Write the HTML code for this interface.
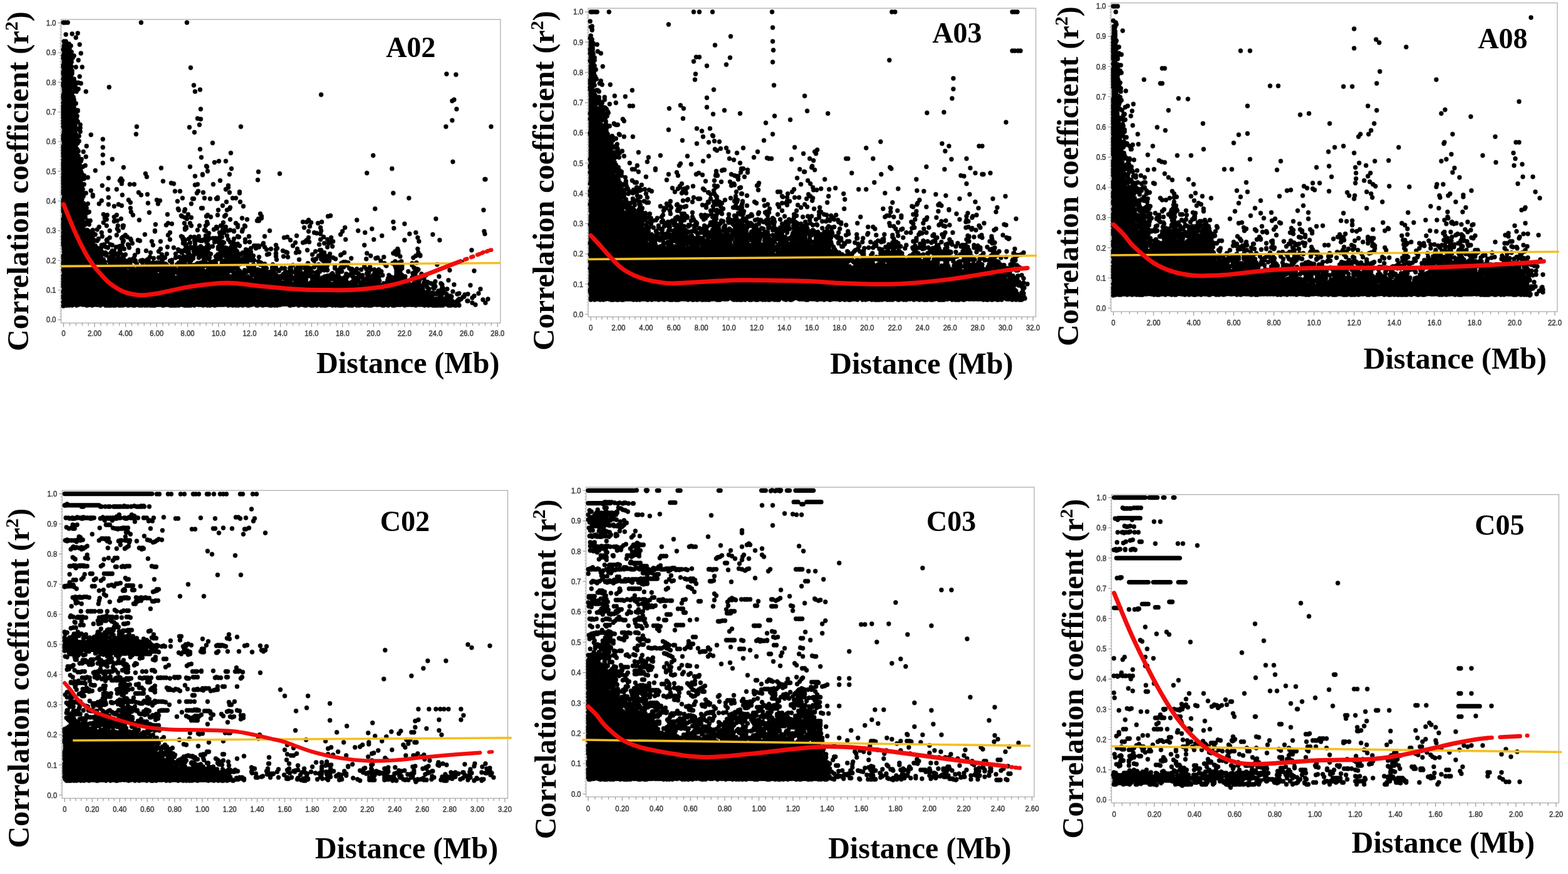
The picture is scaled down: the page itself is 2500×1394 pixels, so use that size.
<!DOCTYPE html>
<html lang="en">
<head>
<meta charset="utf-8">
<title>LD decay: correlation coefficient vs distance</title>
<style>
html,body{margin:0;padding:0;background:#fff;}
body{width:2500px;height:1394px;overflow:hidden;}
svg{display:block;}
</style>
</head>
<body>
<svg width="2500" height="1394" viewBox="0 0 2500 1394" role="img" aria-label="LD decay scatter plots for chromosomes A02, A03, A08, C02, C03 and C05">
<rect width="2500" height="1394" fill="#fff"/>
<g>
<rect x="97.4" y="31" width="700.4" height="484.2" fill="#fff" stroke="#b2b2b2" stroke-width="1.35"/>
<path d="M101.4 515.2v6.2M111.3 515.2v4.3M121.2 515.2v4.3M131.1 515.2v4.3M140.9 515.2v4.3M150.8 515.2v6.2M160.7 515.2v4.3M170.6 515.2v4.3M180.5 515.2v4.3M190.4 515.2v4.3M200.2 515.2v6.2M210.1 515.2v4.3M220 515.2v4.3M229.9 515.2v4.3M239.8 515.2v4.3M249.7 515.2v6.2M259.5 515.2v4.3M269.4 515.2v4.3M279.3 515.2v4.3M289.2 515.2v4.3M299.1 515.2v6.2M309 515.2v4.3M318.8 515.2v4.3M328.7 515.2v4.3M338.6 515.2v4.3M348.5 515.2v6.2M358.4 515.2v4.3M368.3 515.2v4.3M378.2 515.2v4.3M388 515.2v4.3M397.9 515.2v6.2M407.8 515.2v4.3M417.7 515.2v4.3M427.6 515.2v4.3M437.5 515.2v4.3M447.3 515.2v6.2M457.2 515.2v4.3M467.1 515.2v4.3M477 515.2v4.3M486.9 515.2v4.3M496.8 515.2v6.2M506.6 515.2v4.3M516.5 515.2v4.3M526.4 515.2v4.3M536.3 515.2v4.3M546.2 515.2v6.2M556.1 515.2v4.3M565.9 515.2v4.3M575.8 515.2v4.3M585.7 515.2v4.3M595.6 515.2v6.2M605.5 515.2v4.3M615.4 515.2v4.3M625.3 515.2v4.3M635.1 515.2v4.3M645 515.2v6.2M654.9 515.2v4.3M664.8 515.2v4.3M674.7 515.2v4.3M684.6 515.2v4.3M694.4 515.2v6.2M704.3 515.2v4.3M714.2 515.2v4.3M724.1 515.2v4.3M734 515.2v4.3M743.9 515.2v6.2M753.7 515.2v4.3M763.6 515.2v4.3M773.5 515.2v4.3M783.4 515.2v4.3M793.3 515.2v6.2M97.4 510h-5M97.4 462.6h-5M97.4 415.3h-5M97.4 368h-5M97.4 320.6h-5M97.4 273.2h-5M97.4 225.9h-5M97.4 178.6h-5M97.4 131.2h-5M97.4 83.8h-5M97.4 36.5h-5" stroke="#a2a2a2" stroke-width="1.35" fill="none"/>
<path d="M97.4 505.3h-2.4M97.4 500.5h-2.4M97.4 495.8h-2.4M97.4 491.1h-2.4M97.4 486.3h-2.4M97.4 481.6h-2.4M97.4 476.9h-2.4M97.4 472.1h-2.4M97.4 467.4h-2.4M97.4 457.9h-2.4M97.4 453.2h-2.4M97.4 448.4h-2.4M97.4 443.7h-2.4M97.4 439h-2.4M97.4 434.2h-2.4M97.4 429.5h-2.4M97.4 424.8h-2.4M97.4 420h-2.4M97.4 410.6h-2.4M97.4 405.8h-2.4M97.4 401.1h-2.4M97.4 396.4h-2.4M97.4 391.6h-2.4M97.4 386.9h-2.4M97.4 382.2h-2.4M97.4 377.4h-2.4M97.4 372.7h-2.4M97.4 363.2h-2.4M97.4 358.5h-2.4M97.4 353.7h-2.4M97.4 349h-2.4M97.4 344.3h-2.4M97.4 339.5h-2.4M97.4 334.8h-2.4M97.4 330.1h-2.4M97.4 325.3h-2.4M97.4 315.9h-2.4M97.4 311.1h-2.4M97.4 306.4h-2.4M97.4 301.7h-2.4M97.4 296.9h-2.4M97.4 292.2h-2.4M97.4 287.5h-2.4M97.4 282.7h-2.4M97.4 278h-2.4M97.4 268.5h-2.4M97.4 263.8h-2.4M97.4 259h-2.4M97.4 254.3h-2.4M97.4 249.6h-2.4M97.4 244.8h-2.4M97.4 240.1h-2.4M97.4 235.4h-2.4M97.4 230.6h-2.4M97.4 221.2h-2.4M97.4 216.4h-2.4M97.4 211.7h-2.4M97.4 207h-2.4M97.4 202.2h-2.4M97.4 197.5h-2.4M97.4 192.8h-2.4M97.4 188h-2.4M97.4 183.3h-2.4M97.4 173.8h-2.4M97.4 169.1h-2.4M97.4 164.3h-2.4M97.4 159.6h-2.4M97.4 154.9h-2.4M97.4 150.1h-2.4M97.4 145.4h-2.4M97.4 140.7h-2.4M97.4 135.9h-2.4M97.4 126.5h-2.4M97.4 121.7h-2.4M97.4 117h-2.4M97.4 112.3h-2.4M97.4 107.5h-2.4M97.4 102.8h-2.4M97.4 98.1h-2.4M97.4 93.3h-2.4M97.4 88.6h-2.4M97.4 79.1h-2.4M97.4 74.4h-2.4M97.4 69.6h-2.4M97.4 64.9h-2.4M97.4 60.2h-2.4M97.4 55.4h-2.4M97.4 50.7h-2.4M97.4 46h-2.4M97.4 41.2h-2.4" stroke="#b9b9b9" stroke-width="1.1" fill="none"/>
<g font-family="'Liberation Sans', Arial, sans-serif" font-size="12.6" fill="#3a3a3a" stroke="#3a3a3a" stroke-width="0.45">
<g text-anchor="middle">
<text transform="translate(101.4 536.1) scale(0.9 1)">0</text>
<text transform="translate(150.8 536.1) scale(0.9 1)">2.00</text>
<text transform="translate(200.2 536.1) scale(0.9 1)">4.00</text>
<text transform="translate(249.7 536.1) scale(0.9 1)">6.00</text>
<text transform="translate(299.1 536.1) scale(0.9 1)">8.00</text>
<text transform="translate(348.5 536.1) scale(0.9 1)">10.0</text>
<text transform="translate(397.9 536.1) scale(0.9 1)">12.0</text>
<text transform="translate(447.3 536.1) scale(0.9 1)">14.0</text>
<text transform="translate(496.8 536.1) scale(0.9 1)">16.0</text>
<text transform="translate(546.2 536.1) scale(0.9 1)">18.0</text>
<text transform="translate(595.6 536.1) scale(0.9 1)">20.0</text>
<text transform="translate(645 536.1) scale(0.9 1)">22.0</text>
<text transform="translate(694.4 536.1) scale(0.9 1)">24.0</text>
<text transform="translate(743.9 536.1) scale(0.9 1)">26.0</text>
<text transform="translate(793.3 536.1) scale(0.9 1)">28.0</text>
</g><g text-anchor="end">
<text transform="translate(89.4 514.4) scale(0.9 1)">0.0</text>
<text transform="translate(89.4 467) scale(0.9 1)">0.1</text>
<text transform="translate(89.4 419.7) scale(0.9 1)">0.2</text>
<text transform="translate(89.4 372.4) scale(0.9 1)">0.3</text>
<text transform="translate(89.4 325) scale(0.9 1)">0.4</text>
<text transform="translate(89.4 277.6) scale(0.9 1)">0.5</text>
<text transform="translate(89.4 230.3) scale(0.9 1)">0.6</text>
<text transform="translate(89.4 183) scale(0.9 1)">0.7</text>
<text transform="translate(89.4 135.6) scale(0.9 1)">0.8</text>
<text transform="translate(89.4 88.2) scale(0.9 1)">0.9</text>
<text transform="translate(89.4 40.9) scale(0.9 1)">1.0</text>
</g></g>
<path d="M101.9 75h5M101.9 77h9M101.9 79h9M101.9 81h9M101.9 83h9M101.9 85h9M101.9 87h9M101.9 89h9M101.9 91h9M101.9 93h9M101.9 95h9M101.9 97h9M101.9 99h9M101.9 101h11M101.9 103h11M101.9 105h11M101.9 107h11M101.9 109h11M101.9 111h11M101.9 113h11M101.9 115h11M101.9 117h11M101.9 119h11M101.9 121h11M101.9 123h13M101.9 125h13M101.9 127h13M101.9 129h13M101.9 131h13M101.9 133h13M101.9 135h13M101.9 137h13M101.9 139h13M101.9 141h13M101.9 143h13M101.9 145h13M101.9 147h13M101.9 149h13M101.9 151h13M101.9 153h13M101.9 155h13M101.9 157h15M101.9 159h15M101.9 161h15M101.9 163h15M101.9 165h15M101.9 167h15M101.9 169h15M101.9 171h15M101.9 173h15M101.9 175h15M101.9 177h15M101.9 179h15M101.9 181h15M101.9 183h15M101.9 185h15M101.9 187h15M101.9 189h15M101.9 191h15M101.9 193h15M101.9 195h17M101.9 197h17M101.9 199h17M101.9 201h17M101.9 203h17M101.9 205h17M101.9 207h17M101.9 209h17M101.9 211h17M101.9 213h17M101.9 215h17M101.9 217h17M101.9 219h17M101.9 221h17M101.9 223h17M101.9 225h17M101.9 227h17M101.9 229h19M101.9 231h19M101.9 233h19M101.9 235h19M101.9 237h19M101.9 239h19M101.9 241h19M101.9 243h19M101.9 245h19M101.9 247h19M101.9 249h21M101.9 251h21M101.9 253h21M101.9 255h21M101.9 257h21M101.9 259h21M101.9 261h21M101.9 263h21M101.9 265h21M101.9 267h21M101.9 269h21M101.9 271h23M101.9 273h23M101.9 275h23M101.9 277h23M101.9 279h23M101.9 281h23M101.9 283h23M101.9 285h23M101.9 287h25M101.9 289h25M101.9 291h25M101.9 293h25M101.9 295h25M101.9 297h25M101.9 299h25M101.9 301h25M101.9 303h27M101.9 305h27M101.9 307h27M101.9 309h27M101.9 311h27M101.9 313h27M101.9 315h27M101.9 317h29M101.9 319h29M101.9 321h29M101.9 323h29M101.9 325h29M101.9 327h29M101.9 329h31M101.9 331h31M101.9 333h31M101.9 335h31M101.9 337h31M101.9 339h31M101.9 341h31M101.9 343h31M101.9 345h31M101.9 347h33M101.9 349h33M101.9 351h33M101.9 353h33M101.9 355h33M101.9 357h33M101.9 359h33M101.9 361h33M101.9 363h33M101.9 365h35M101.9 367h35M101.9 369h35M101.9 371h35M101.9 373h35M101.9 375h35M101.9 377h35M101.9 379h37M101.9 381h37M101.9 383h37M143.9 383h3M101.9 385h39M141.9 385h5M101.9 387h45M101.9 389h47M101.9 391h47M101.9 393h47M101.9 395h47M101.9 397h49M101.9 399h49M101.9 401h51M101.9 403h51M101.9 405h53M101.9 407h53M101.9 409h55M101.9 411h55M101.9 413h57M101.9 415h63M191.9 415h3M101.9 417h65M189.9 417h5M291.9 417h3M101.9 419h67M187.9 419h9M291.9 419h3M351.9 419h3M101.9 421h69M171.9 421h7M185.9 421h11M291.9 421h3M349.9 421h7M101.9 423h97M289.9 423h7M347.9 423h9M101.9 425h97M289.9 425h7M317.9 425h3M347.9 425h9M101.9 427h99M289.9 427h9M315.9 427h5M345.9 427h11M101.9 429h101M289.9 429h11M315.9 429h7M345.9 429h13M375.9 429h3M101.9 431h105M221.9 431h5M237.9 431h5M287.9 431h13M315.9 431h15M345.9 431h13M375.9 431h5M101.9 433h109M219.9 433h9M233.9 433h11M257.9 433h7M287.9 433h15M313.9 433h17M343.9 433h17M373.9 433h7M101.9 435h111M217.9 435h31M255.9 435h11M285.9 435h19M311.9 435h21M343.9 435h17M371.9 435h9M101.9 437h113M215.9 437h55M285.9 437h21M309.9 437h23M341.9 437h21M369.9 437h13M101.9 439h175M283.9 439h51M341.9 439h41M393.9 439h3M101.9 441h235M339.9 441h45M391.9 441h7M101.9 443h285M389.9 443h9M515.9 443h7M101.9 445h299M413.9 445h9M511.9 445h13M101.9 447h301M411.9 447h19M503.9 447h21M543.9 447h5M101.9 449h303M409.9 449h49M467.9 449h9M485.9 449h5M501.9 449h25M541.9 449h7M101.9 451h393M499.9 451h31M539.9 451h11M627.9 451h11M101.9 453h451M593.9 453h5M625.9 453h19M101.9 455h455M561.9 455h45M623.9 455h23M101.9 457h549M661.9 457h5M101.9 459h567M101.9 461h567M101.9 463h569M101.9 465h571M101.9 467h571M101.9 469h573M101.9 471h573M101.9 473h575M101.9 475h581M101.9 477h593M101.9 479h605M101.9 481h617M101.9 483h619M101.9 485h621M101.9 487h623" stroke="#000" stroke-width="3.4" fill="none"/>
<path d="M0 0m101 36h0m3 0h0m4 0h0m117 0h0m73 0h0m-193 19h0m10-1h0m9-1h0m-22 13h0m1 4h0m0-3h0m1 2h0m1-3h0m5 4h0m11-10h0m6 11h0m-26 8h0m1-2h0m0-1h0m0-3h0m0 8h0m2 0h0m0-7h0m0 6h0m0-2h0m0-3h0m0 8h0m0-10h0m2 2h0m5 6h0m0-3h0m0-5h0m0 6h0m2-6h0m1 10h0m-13 6h0m0 4h0m1-6h0m0 3h0m0 5h0m0-9h0m0 7h0m2-2h0m0-6h0m0 9h0m0-7h0m0 2h0m0 4h0m7-4h0m1-1h0m0 1h0m1 1h0m1 4h0m0-2h0m2 0h0m2-3h0m7 7h0m4-11h0m-28 20h0m0 2h0m0-3h0m1 1h0m0-1h0m0-2h0m0-3h0m0 7h0m2-9h0m0 5h0m0-1h0m0-2h0m0 8h0m0-3h0m7-6h0m1-1h0m2 9h0m0-7h0m0-1h0m7 9h0m10 0h0m-30 8h0m0 3h0m1-10h0m0 12h0m0-10h0m0 2h0m0 5h0m2-1h0m0-6h0m0 4h0m0-6h0m0 11h0m9-10h0m1 10h0m1-6h0m0 4h0m189-9h0m408 10h0m15 1h0m-626 7h0m1-2h0m0-2h0m0 7h0m0-6h0m0 8h0m0-6h0m2 0h0m0-4h0m0 5h0m0 5h0m0-7h0m0 5h0m9-7h0m3 4h0m0 4h0m2-4h0m0 2h0m4 4h0m5-10h0m-26 11h0m0 2h0m0 2h0m1 6h0m0-4h0m0-2h0m2 3h0m0-6h0m0-1h0m0 5h0m0 5h0m0-2h0m10-4h0m1 2h0m1-1h0m1-3h0m1 4h0m0-2h0m1 5h0m1-4h0m5 4h0m0-10h0m4 1h0m45 6h0m135-3h0m10 7h0m-218 9h0m0 3h0m1-5h0m0-2h0m0 4h0m0-1h0m0 4h0m0-6h0m2 2h0m0-3h0m0 5h0m0-4h0m0 6h0m0-10h0m11 7h0m0-4h0m1-1h0m1 8h0m5-9h0m15 0h0m174 0h0m201 5h0m-411 6h0m0 7h0m1 1h0m0 1h0m0-4h0m0-1h0m2 3h0m0-5h0m0 8h0m0-10h0m0 4h0m0 2h0m14-4h0m0 3h0m3 3h0m600-4h0m3-2h0m-623 14h0m0 3h0m0-7h0m0 2h0m0 8h0m1-10h0m0 8h0m2-2h0m0-1h0m0 5h0m0-8h0m0 6h0m0-8h0m13 4h0m0-5h0m0 2h0m1 1h0m1 4h0m1 2h0m2 1h0m0-2h0m2 1h0m0-1h0m196-2h0m408 0h0m-627 9h0m0 5h0m0-2h0m0-6h0m3 11h0m0-10h0m0 2h0m0 3h0m0-1h0m0 4h0m12-9h0m1 6h0m1-6h0m0 7h0m1-3h0m3 6h0m1-5h0m192 4h0m5 1h0m-219 3h0m0 9h0m0-5h0m1-3h0m0 5h0m2-3h0m0 6h0m0-7h0m0 6h0m0-2h0m0-5h0m14 0h0m1 5h0m0-2h0m1 2h0m4-5h0m4 5h0m0 5h0m90-2h0m84 1h0m16-4h0m66 3h0m327 0h0m10-10h0m62 10h0m-682 14h0m1-4h0m0-7h0m0 5h0m2-3h0m0 6h0m0-2h0m0-5h0m0 9h0m0-5h0m15-6h0m2 10h0m0-7h0m2-2h0m0 1h0m3 1h0m2 3h0m17 5h0m72-1h0m93-3h0m-209 7h0m0 2h0m0 3h0m1-6h0m0 8h0m0-5h0m0-1h0m2-3h0m0 2h0m0 9h0m0-1h0m0-4h0m0 2h0m15 0h0m0-6h0m2 2h0m0-2h0m1 1h0m0-2h0m1 3h0m0-1h0m1-1h0m2 7h0m0-8h0m38 5h0m-63 17h0m0-3h0m0-3h0m1 3h0m0-8h0m0 6h0m2 5h0m0-4h0m0-2h0m0-1h0m0-3h0m0 7h0m17 0h0m0 4h0m1-10h0m1 8h0m1-10h0m14 5h0m26 2h0m155 3h0m20-10h0m-238 16h0m0 1h0m0-2h0m0 6h0m1-8h0m0 6h0m2-6h0m0 10h0m0-8h0m0 3h0m0 4h0m19-4h0m2-5h0m0 8h0m8-7h0m4 8h0m27-3h0m157 4h0m47-7h0m227 4h0m-494 12h0m0 2h0m0-7h0m1 1h0m0 2h0m0-4h0m0 8h0m2-2h0m0-3h0m0-3h0m0 8h0m0-9h0m0 8h0m18-1h0m1-2h0m0 4h0m3-7h0m0 5h0m0-1h0m1 4h0m0-4h0m1-5h0m1 3h0m1-3h0m6 10h0m28-4h0m15-6h0m163 5h0m7-2h0m11 0h0m362 1h0m-621 7h0m0 6h0m0-2h0m1 2h0m0 2h0m0-6h0m0 8h0m0-10h0m2 1h0m0 3h0m0 3h0m0 4h0m0-9h0m21 1h0m1 5h0m0 2h0m0 1h0m1-11h0m0 5h0m0 3h0m1-5h0m0 2h0m0-1h0m1 4h0m0-7h0m3 0h0m20 6h0m45-5h0m60 1h0m46-2h0m26-1h0m1 1h0m1 7h0m38-4h0m43 5h0m173 2h0m40-7h0m-524 16h0m0-8h0m0 5h0m1-3h0m0-2h0m2 6h0m0 3h0m0-5h0m0-3h0m0 9h0m0-7h0m21 1h0m0-1h0m1 3h0m1-5h0m0-2h0m1 10h0m1-2h0m1 2h0m0-10h0m4 4h0m0 5h0m6-2h0m33 1h0m20 1h0m2 3h0m37-11h0m2 5h0m77-1h0m12-3h0m0 1h0m43-1h0m45 9h0m35-10h0m327 9h0m1 0h0m-673 3h0m0 1h0m0 4h0m0 5h0m1-2h0m0-7h0m2 9h0m0-3h0m0-6h0m0 4h0m0 3h0m0-6h0m23-2h0m0 10h0m0-4h0m2-3h0m2 6h0m3-4h0m29 2h0m28-8h0m3 5h0m13 1h0m7 0h0m46-5h0m13 3h0m4 1h0m34 2h0m4-1h0m25 0h0m11-6h0m13 11h0m0-3h0m-263 11h0m0 2h0m0-5h0m1 5h0m0-8h0m0 1h0m2 0h0m0 8h0m0-5h0m0 2h0m24-7h0m1 9h0m2-4h0m0 6h0m1-9h0m5 6h0m8-4h0m3 7h0m24-9h0m14 0h0m9 9h0m26-4h0m4 4h0m10-1h0m44-5h0m8 0h0m27 3h0m2-3h0m8 2h0m36-5h0m6 5h0m16 1h0m0-2h0m245 2h0m-526 15h0m0-4h0m0 3h0m1-7h0m0 8h0m2-2h0m0-1h0m0 2h0m0-6h0m0-2h0m0-1h0m25 1h0m1 0h0m0-1h0m1 10h0m0-6h0m2-4h0m0 11h0m15-11h0m14 7h0m11-5h0m32 4h0m3 4h0m42-4h0m5 1h0m28 1h0m8-5h0m16 1h0m2 0h0m17-1h0m9 1h0m10 0h0m2 0h0m0-2h0m14 7h0m10-6h0m5 0h0m7 6h0m269-6h0m-551 8h0m0 8h0m0-4h0m0 8h0m1-10h0m0-1h0m0 9h0m2-3h0m0-4h0m0-2h0m0 4h0m0 5h0m0 1h0m27-7h0m2 2h0m0-1h0m0 6h0m2-8h0m1 1h0m2 4h0m2-7h0m18 0h0m15 1h0m9 3h0m7-3h0m5 2h0m14 4h0m28-8h0m16 1h0m32 8h0m1 2h0m10-1h0m10-9h0m16 7h0m2 0h0m25 3h0m7-7h0m7 7h0m4-2h0m1-2h0m21-2h0m210 4h0m173 2h0m-670 2h0m1 8h0m0-5h0m0 4h0m0-6h0m0 9h0m0-8h0m2 7h0m0-7h0m0 5h0m0-3h0m0 6h0m0-11h0m30 1h0m0 4h0m0 2h0m1 4h0m1-4h0m0 4h0m1-10h0m2 1h0m1 1h0m2-1h0m23 4h0m6 1h0m11 3h0m4-3h0m23-5h0m3 5h0m26-4h0m29 3h0m22 2h0m1 1h0m4-8h0m1 10h0m5-5h0m5 5h0m24-2h0m2-2h0m5 3h0m11-3h0m11 2h0m2-2h0m26 5h0m29-7h0m2 7h0m0-3h0m106 0h0m4-1h0m-426 7h0m0-2h0m0 10h0m0-3h0m1 1h0m0-3h0m2 6h0m0-4h0m0-5h0m0 3h0m0 1h0m0-5h0m31 7h0m0-2h0m0 4h0m5-7h0m1 3h0m1 3h0m2-6h0m21 3h0m2-7h0m3 2h0m0 10h0m12-7h0m5-1h0m6-3h0m3 11h0m26-9h0m26 7h0m17 1h0m3-3h0m6 1h0m20-1h0m4-7h0m5 7h0m2 4h0m23 0h0m2-6h0m1 3h0m25-2h0m11-5h0m9 6h0m3 3h0m15-9h0m16 2h0m2-3h0m1 3h0m70 2h0m6 0h0m3-3h0m4 4h0m11 1h0m6-2h0m56-3h0m58 3h0m18 3h0m50-8h0m-594 16h0m0-3h0m0 9h0m1-2h0m0-8h0m0 7h0m2-2h0m0 3h0m0-6h0m0 2h0m0 7h0m0-11h0m35 6h0m0 3h0m3-1h0m1 2h0m4 0h0m1-4h0m0 4h0m7-5h0m3-4h0m4 9h0m13-3h0m12-3h0m1-5h0m1 8h0m7-6h0m0 1h0m1-3h0m50 8h0m0 1h0m24 2h0m24-7h0m0 2h0m2-4h0m0 2h0m18 3h0m3-7h0m8 7h0m2 1h0m5 4h0m8-6h0m4-4h0m1 2h0m4 7h0m2-11h0m2 0h0m1 7h0m2 4h0m1-4h0m2-5h0m3 6h0m4-1h0m6 2h0m0-1h0m6-6h0m7 7h0m1-3h0m3-6h0m1 1h0m39 7h0m55-5h0m7 6h0m2-8h0m7 10h0m10-8h0m1 5h0m34 1h0m4-6h0m21 5h0m11 3h0m11-6h0m35-1h0m35 7h0m109-2h0m-671 14h0m0-7h0m0 3h0m0 2h0m0-3h0m1-4h0m0 4h0m2-4h0m0 9h0m0-4h0m0 1h0m0-2h0m33-4h0m1 3h0m1-1h0m1 6h0m0-4h0m0-3h0m0 4h0m1-6h0m0 10h0m1-7h0m1 6h0m0-9h0m2 5h0m2 4h0m0-4h0m1-4h0m1 9h0m0-1h0m3-8h0m5 7h0m6-4h0m7 6h0m1-1h0m4-3h0m11-4h0m8 5h0m2-2h0m1 6h0m3-9h0m3 3h0m5 3h0m1 2h0m11 0h0m3 1h0m8-10h0m37 1h0m3 7h0m18-5h0m2 3h0m0-2h0m1 5h0m1-2h0m1 2h0m1 0h0m6-2h0m3-3h0m6 5h0m0-5h0m4 4h0m3-5h0m0 3h0m0 3h0m3 0h0m2 1h0m3-2h0m3-6h0m3 4h0m1 2h0m0-5h0m1 4h0m1-1h0m6 0h0m4 0h0m1 1h0m5-2h0m1-3h0m0 3h0m2-3h0m1 2h0m8-2h0m2 6h0m9-1h0m6-4h0m1 1h0m1 0h0m10 4h0m6-5h0m25 0h0m31 2h0m5-1h0m5 5h0m10-7h0m16 7h0m3-4h0m13-7h0m6 10h0m0-9h0m5 5h0m6 4h0m6-3h0m15-5h0m8 8h0m45 0h0m13-6h0m36 7h0m8-10h0m13 6h0m24-5h0m11 9h0m72-10h0m-672 15h0m0 3h0m0-2h0m0-2h0m1 8h0m0-2h0m0-9h0m0 6h0m2-2h0m0-4h0m0 7h0m0 3h0m0-2h0m44-6h0m1 6h0m1 0h0m1-8h0m1 10h0m0-2h0m2 3h0m1-11h0m4 12h0m3-5h0m1 2h0m3-3h0m3 4h0m2-9h0m1 10h0m4-5h0m3 1h0m6 3h0m5-1h0m3-1h0m2 0h0m1-6h0m8 4h0m1 2h0m1 3h0m5-7h0m31-3h0m2 6h0m12-6h0m11 9h0m10 1h0m15-7h0m4 4h0m1-2h0m5 5h0m1-8h0m1 7h0m5 1h0m2-4h0m0-3h0m2 8h0m4-1h0m3-2h0m0-9h0m4 12h0m3 0h0m2-10h0m1 7h0m1-9h0m1 7h0m7 2h0m3-7h0m3-1h0m3 9h0m0 2h0m2-2h0m0-5h0m1 3h0m0-7h0m1 10h0m1-9h0m1 6h0m1-6h0m1 10h0m1-9h0m2 8h0m8-9h0m2 7h0m1-6h0m1 1h0m2 0h0m3 4h0m2-1h0m1-2h0m3 3h0m9-6h0m7 0h0m7 6h0m3 0h0m0 4h0m4-4h0m1 2h0m6-4h0m1-2h0m2 6h0m18-3h0m27 1h0m4-5h0m12 0h0m4-2h0m0 1h0m6 0h0m16 4h0m8-2h0m5 6h0m2-6h0m4-2h0m2 7h0m1-8h0m50 6h0m87-6h0m-567 23h0m1-10h0m0 4h0m0 6h0m0-11h0m2 10h0m0-4h0m0-4h0m0 6h0m0-4h0m0-5h0m49 3h0m0 1h0m1-2h0m1-1h0m0 11h0m0-9h0m0 5h0m1 3h0m0-9h0m2 2h0m3 6h0m0-1h0m0-7h0m1 9h0m3-4h0m3 0h0m1 4h0m1-2h0m7-2h0m2-3h0m1 3h0m2-3h0m1 5h0m4 0h0m4-1h0m0-5h0m0 2h0m1-3h0m0 6h0m1-8h0m3 11h0m2-10h0m2 9h0m15 1h0m5-5h0m0-3h0m13 1h0m7 3h0m13-2h0m3-4h0m2 9h0m8-1h0m14 0h0m4-7h0m1 2h0m3 0h0m1 2h0m1 1h0m3-3h0m1-1h0m2-2h0m1 4h0m1-1h0m2 6h0m1-3h0m1-6h0m3 11h0m4-10h0m0 9h0m0-6h0m2-3h0m0 5h0m0-4h0m1-3h0m1 8h0m3-3h0m1 7h0m0-8h0m3 5h0m1-7h0m1 0h0m1 1h0m0 6h0m2-7h0m2 5h0m0 3h0m2-9h0m2 6h0m1 0h0m1-7h0m3 9h0m11 1h0m0 1h0m1-10h0m2 10h0m1-3h0m1 3h0m0-7h0m1-2h0m0-2h0m2 10h0m0-8h0m2 0h0m1 3h0m1-4h0m1 6h0m2-7h0m0 7h0m1 4h0m1-1h0m1-9h0m2 9h0m0-2h0m1-2h0m0 3h0m4-8h0m3 1h0m0 4h0m1-3h0m1 5h0m1 1h0m0-1h0m0-3h0m6 4h0m0 1h0m3-3h0m4 3h0m1-8h0m2 4h0m0-3h0m1 1h0m2 3h0m1 3h0m2-10h0m0 10h0m0-4h0m4 6h0m21-10h0m1 8h0m3-1h0m3-8h0m8 7h0m0-6h0m0 7h0m2-9h0m9 4h0m5 2h0m2 1h0m14 0h0m2-2h0m0-4h0m3 5h0m13-3h0m8 7h0m5-5h0m7-2h0m2 6h0m0-6h0m1 8h0m4-1h0m0-1h0m0-2h0m9 2h0m17 2h0m1-1h0m5-3h0m36 1h0m42 0h0m3-3h0m2 5h0m2-9h0m1 5h0m0-2h0m0 4h0m28 4h0m3-11h0m1 6h0m1 4h0m2 1h0m0-1h0m82-8h0m-651 19h0m0-6h0m0-3h0m1 3h0m0 4h0m0 2h0m0-7h0m0-1h0m2 4h0m0 4h0m0-7h0m0 6h0m0-8h0m53-1h0m3 6h0m5 0h0m2 4h0m7-2h0m0-5h0m1 5h0m0 1h0m0 1h0m0-7h0m2 7h0m0-9h0m1 3h0m1 1h0m2-2h0m1 4h0m0 5h0m2-3h0m1 3h0m0-5h0m2-1h0m1 4h0m0-10h0m1 6h0m5-2h0m2 2h0m1 4h0m0-6h0m3 5h0m0-1h0m0 2h0m2 1h0m4-4h0m1-1h0m0 5h0m1-1h0m5-6h0m1 1h0m1 4h0m1-1h0m8 0h0m3 3h0m0-4h0m2 1h0m4 1h0m0-1h0m2 1h0m0-3h0m2 1h0m2-5h0m5 9h0m1-7h0m5 7h0m3 0h0m0-8h0m1 9h0m4-3h0m1-2h0m1-5h0m3 1h0m8 5h0m3-1h0m0 4h0m6-8h0m5 8h0m1-9h0m3 4h0m1 5h0m3-10h0m1 2h0m1 2h0m0 3h0m1-3h0m1 1h0m1 1h0m1-3h0m1-1h0m0-2h0m1 2h0m2 7h0m1-9h0m1 6h0m3-3h0m9-1h0m2-2h0m2 10h0m3 0h0m1-5h0m1-4h0m0-1h0m1 8h0m1-4h0m2-3h0m3 3h0m1-2h0m1 9h0m3-2h0m1 0h0m4-2h0m1 0h0m0-7h0m2 0h0m2 3h0m0-2h0m0 3h0m3-4h0m1 1h0m0 1h0m2 7h0m0-10h0m0 9h0m2-1h0m1 1h0m1-1h0m0 1h0m2-8h0m2 4h0m1 4h0m1 2h0m0-7h0m2 0h0m2 4h0m0 3h0m2-8h0m1 3h0m0-6h0m1 8h0m0-1h0m1 2h0m1-9h0m0 8h0m1 4h0m3-7h0m1-1h0m0 3h0m1-5h0m0 2h0m1 6h0m3 0h0m1-1h0m1 1h0m0-2h0m1-3h0m1 7h0m1-4h0m1 0h0m0-5h0m1 8h0m0-8h0m1 4h0m1-5h0m1 9h0m1-7h0m2 1h0m1-1h0m2 2h0m0 1h0m3-6h0m2 6h0m7 2h0m1-7h0m0 10h0m0-1h0m3 0h0m24-10h0m1 5h0m11-5h0m7 1h0m18 4h0m22 0h0m2 2h0m3-3h0m4-5h0m4 5h0m2 2h0m0-3h0m1 1h0m2-2h0m0 7h0m2-4h0m0 3h0m2-8h0m3 3h0m0-1h0m1 5h0m0-8h0m6 3h0m4 2h0m9 7h0m1 0h0m1-1h0m2-1h0m3 0h0m4 1h0m5-7h0m24 1h0m7-5h0m8 4h0m3-1h0m5 5h0m5-6h0m1 10h0m17-3h0m6 2h0m2-10h0m2 8h0m17 3h0m2-9h0m5 8h0m72-1h0m-635 13h0m0-11h0m0 5h0m0-3h0m0 1h0m1 5h0m0-2h0m0 4h0m2-10h0m0 8h0m0-5h0m0 9h0m0-7h0m0 4h0m75-8h0m2 0h0m0 1h0m0-2h0m18 3h0m3 2h0m2 0h0m4-2h0m0 4h0m2 3h0m1-3h0m1 0h0m0 1h0m1 1h0m2 3h0m3-11h0m2 11h0m0-6h0m0 4h0m1 1h0m0-3h0m1 2h0m1-3h0m0 3h0m1-2h0m1 1h0m0-2h0m1 0h0m0-1h0m2 1h0m1 0h0m0-1h0m1-1h0m1 1h0m1 2h0m2 3h0m0-8h0m2 2h0m1 6h0m1-1h0m0-6h0m1 6h0m1-9h0m0 5h0m0 2h0m1-4h0m1-4h0m1 10h0m0-6h0m1-1h0m0 9h0m1-3h0m0-5h0m1 8h0m0-5h0m1 1h0m1 1h0m0-6h0m1 9h0m1-6h0m3 4h0m0-1h0m1-2h0m4-7h0m1 11h0m2-6h0m1-2h0m0 7h0m0 2h0m1-11h0m1 0h0m0 9h0m2-7h0m0 3h0m1 4h0m0 1h0m1-4h0m3 2h0m3 2h0m0-6h0m1 6h0m1 0h0m1-3h0m2 1h0m3-7h0m3 8h0m1 1h0m0-1h0m1-8h0m0 5h0m3-2h0m0 3h0m1-8h0m6 3h0m1 1h0m2 4h0m3-5h0m0 4h0m0 1h0m0-4h0m0-4h0m1 11h0m0-9h0m1 8h0m1-6h0m3-1h0m2 7h0m1-1h0m0-4h0m1 2h0m0-3h0m1-3h0m1-1h0m0 7h0m1 2h0m1-5h0m1-4h0m1 1h0m2 3h0m1-1h0m1 2h0m0 5h0m2-7h0m1 1h0m1-3h0m1-1h0m0 1h0m1 1h0m3-1h0m0 2h0m0 6h0m1-2h0m1-5h0m1 0h0m1-2h0m0 8h0m1 0h0m1-5h0m1 4h0m2 1h0m2-1h0m1-4h0m0-3h0m1 11h0m0-8h0m2 2h0m10 3h0m0-8h0m0 5h0m2 6h0m0-6h0m0-5h0m0 9h0m0-3h0m3-4h0m1-2h0m1 10h0m0-9h0m0 2h0m1 8h0m1-4h0m0 4h0m0 1h0m1-2h0m0-2h0m4-8h0m0 2h0m1 6h0m1 0h0m4-4h0m1 3h0m0-4h0m1 5h0m1 4h0m3-11h0m7 10h0m3 1h0m3-7h0m2 7h0m0-4h0m2 0h0m1 3h0m3-7h0m0-2h0m1 4h0m6 4h0m3 1h0m1-9h0m2 0h0m3 7h0m0-1h0m0 3h0m2-3h0m0-7h0m1 2h0m0 7h0m2-2h0m9-1h0m0 4h0m1-9h0m0 9h0m3-1h0m2-3h0m4 4h0m1 1h0m4-4h0m5 0h0m8 0h0m1-1h0m1 3h0m1-6h0m2-1h0m5 6h0m3-4h0m4 3h0m0-4h0m7 4h0m0-4h0m3 6h0m0-1h0m1-3h0m1-6h0m2 10h0m2-2h0m6-2h0m2-3h0m4 0h0m1-1h0m1 7h0m0-2h0m2 1h0m0 3h0m2-4h0m0 1h0m2-3h0m2 6h0m4-4h0m1-4h0m0 8h0m2-11h0m10 8h0m0-4h0m5 7h0m4-4h0m2-1h0m1-5h0m2 5h0m5-3h0m4 5h0m3 3h0m1-2h0m2 2h0m6-2h0m7 1h0m5-5h0m3 4h0m6-3h0m1 4h0m6 0h0m7 0h0m11-7h0m1 1h0m10-4h0m4 4h0m1 0h0m0 3h0m1 4h0m2-6h0m2 6h0m3-1h0m2-6h0m0 4h0m16-5h0m3 4h0m5 2h0m2 1h0m30-8h0m20 9h0m-616 9h0m1-6h0m0 2h0m0 7h0m2-6h0m0 5h0m0-8h0m0 6h0m109-8h0m2 2h0m1-1h0m14-1h0m2 1h0m2-1h0m13 2h0m9-2h0m11 2h0m1-2h0m2 3h0m1-1h0m0 2h0m1 0h0m4 1h0m1-2h0m2-1h0m5 2h0m3-3h0m1 1h0m17 1h0m3 2h0m2-2h0m1-1h0m2-1h0m20 3h0m2-4h0m1 4h0m3 2h0m0-1h0m0-4h0m2 1h0m1 4h0m1-3h0m0-1h0m20 1h0m0-1h0m8-1h0m11-1h0m1 6h0m0 1h0m1 1h0m1-5h0m2 6h0m0 1h0m1 0h0m0 2h0m1-10h0m0 6h0m0 1h0m2-5h0m3-3h0m6 11h0m1-7h0m1 2h0m4-5h0m1-1h0m1 8h0m1 0h0m1 2h0m0-10h0m0 5h0m1 1h0m0-3h0m1 7h0m0-3h0m1 3h0m0-4h0m0-6h0m2 6h0m0-3h0m1-2h0m1 2h0m3 8h0m0-1h0m1-9h0m0 9h0m1-5h0m1 4h0m2-4h0m0-5h0m1 9h0m0-8h0m1 9h0m1-6h0m2-3h0m0 9h0m0-3h0m1-3h0m4 6h0m1-5h0m1-1h0m2 0h0m1 1h0m0 4h0m2 0h0m1 0h0m0 1h0m2-2h0m3 2h0m1-3h0m1 3h0m1-4h0m1-2h0m2 7h0m1-7h0m0-4h0m1 3h0m3 5h0m0-5h0m1 7h0m0-6h0m1-3h0m0 5h0m0 3h0m1 1h0m0-3h0m2-3h0m2-3h0m0 10h0m2-1h0m2 0h0m2-6h0m0-5h0m1 2h0m2 5h0m0 2h0m1-8h0m0 5h0m0-1h0m3-4h0m1 3h0m0 7h0m1-7h0m1 4h0m1 3h0m0-2h0m0 1h0m1 1h0m2-7h0m1 8h0m1-8h0m0-4h0m0 10h0m1-6h0m1 0h0m3 4h0m1-5h0m0 5h0m1-8h0m1 7h0m1 1h0m0-7h0m5 7h0m1 3h0m0-3h0m0-5h0m1 8h0m1-4h0m1 1h0m0 1h0m0-3h0m1-5h0m0 10h0m0-8h0m0 4h0m3-6h0m4 10h0m4-2h0m2 0h0m2-1h0m1 0h0m5-2h0m0 5h0m2-7h0m0 7h0m1-4h0m4 3h0m2-1h0m1-5h0m0-3h0m2 2h0m0 6h0m1 2h0m1-10h0m2 11h0m1-11h0m4 10h0m1-1h0m2-5h0m1 5h0m4-3h0m1-1h0m1 0h0m2-4h0m1 6h0m1 2h0m2 1h0m2-8h0m4 1h0m0 6h0m1-2h0m0-3h0m4 5h0m2-3h0m7-3h0m1 4h0m0 4h0m2-3h0m0-6h0m1 6h0m6-2h0m2-3h0m0 8h0m3-12h0m1 8h0m0-2h0m2-5h0m0 9h0m1 0h0m0-7h0m0 8h0m4-10h0m2 6h0m9 5h0m1-5h0m2 4h0m2-1h0m7 0h0m0-1h0m1-8h0m0 3h0m1-2h0m1-2h0m2 3h0m0 5h0m0-8h0m1 12h0m1-9h0m1 8h0m0-1h0m1-4h0m0 2h0m0-1h0m0 5h0m1-2h0m0-3h0m5 2h0m5-8h0m6 10h0m1-7h0m1 0h0m0 2h0m2-4h0m1 10h0m0-1h0m0-5h0m1-4h0m1-1h0m8 4h0m7 2h0m21 2h0m56-9h0m-655 18h0m0 3h0m0 2h0m0-10h0m1 1h0m0 3h0m2 7h0m0-2h0m0-6h0m0-1h0m0 3h0m0-5h0m301 2h0m1 1h0m0-1h0m2-3h0m1 6h0m2-3h0m1-2h0m18 3h0m4-2h0m0-2h0m5 1h0m2 3h0m5-3h0m13 3h0m1-2h0m1 0h0m0 3h0m2-1h0m2-3h0m4 0h0m2-1h0m2 3h0m3 0h0m1 2h0m1-1h0m1 1h0m1-2h0m4-2h0m1 3h0m0 1h0m1-4h0m1 0h0m1 1h0m7 5h0m3-6h0m0 4h0m1 3h0m1-5h0m0 4h0m0-3h0m1-2h0m4-1h0m4 0h0m19 0h0m4 0h0m2 7h0m0-5h0m1 4h0m1-1h0m0 1h0m1-3h0m2 1h0m1 1h0m4-5h0m1 0h0m3-1h0m2 2h0m2-2h0m0 5h0m1 4h0m0-1h0m2-1h0m3 5h0m3-6h0m2 2h0m0-2h0m0-1h0m1-3h0m0-1h0m1 5h0m0 2h0m0-1h0m0-2h0m2 4h0m1-6h0m2 2h0m1-2h0m0 1h0m4 3h0m3 1h0m0 1h0m1-7h0m1 5h0m1 2h0m0-8h0m6 4h0m1 4h0m1-6h0m3 5h0m0-6h0m3 3h0m3 0h0m2 4h0m1-3h0m1-1h0m0-3h0m1 8h0m1-2h0m1-4h0m5 7h0m2-3h0m5-1h0m1-3h0m0 1h0m0-2h0m1 4h0m1 4h0m3-7h0m0-1h0m1 7h0m0-2h0m1-5h0m0 4h0m0 1h0m3-3h0m1-3h0m1-1h0m1 3h0m1 1h0m1-1h0m1 0h0m0-2h0m2 1h0m3 0h0m0 2h0m0-5h0m0 6h0m1 2h0m0-5h0m1-3h0m2 3h0m4 7h0m0-7h0m2 8h0m0-1h0m1-4h0m4 4h0m3 2h0m2-1h0m1-1h0m0-2h0m2-4h0m0 8h0m1-7h0m0 2h0m1 1h0m1-2h0m1 5h0m1-11h0m1 6h0m0 3h0m0 3h0m2-11h0m5 10h0m1-11h0m0 7h0m2-2h0m2 6h0m2-5h0m5 2h0m3 1h0m3 2h0m1-6h0m9 3h0m1 1h0m1 1h0m10-7h0m9 7h0m26 1h0m-649 11h0m0-1h0m0-8h0m1 1h0m0 6h0m0-3h0m2-3h0m0 7h0m0-6h0m0 3h0m0 5h0m550-9h0m4-2h0m2 1h0m1 0h0m8 4h0m1-2h0m0-3h0m2 1h0m0 7h0m1-4h0m1 7h0m0-1h0m0-5h0m2 7h0m1-2h0m4-8h0m1 8h0m1-4h0m1-1h0m5 6h0m2-8h0m1 1h0m1 8h0m1-11h0m1 11h0m4-4h0m4-1h0m2-5h0m1 1h0m1 8h0m1-2h0m5-4h0m9 4h0m44-4h0m-665 14h0m0-3h0m1 5h0m0-8h0m0 3h0m0 7h0m2-5h0m0-3h0m0-2h0m0 8h0m0 1h0m0-6h0m572-1h0m3-3h0m1 1h0m2 2h0m3 4h0m0-5h0m4 6h0m0-4h0m5 5h0m1-8h0m1 8h0m2-9h0m1 8h0m2-6h0m0 6h0m2-3h0m1-1h0m3 6h0m2-1h0m1 1h0m1 0h0m1 0h0m0-9h0m0 5h0m3 5h0m0 1h0m2-2h0m1-6h0m2 1h0m1 7h0m8-11h0m1 10h0m2-2h0m0-9h0m3 9h0m3-3h0m2-1h0m1-3h0m5-1h0m7 6h0m3-3h0m7-4h0m7 10h0m8-1h0m-677 5h0m0 6h0m1-7h0m0 3h0m2-3h0m0 4h0m0 2h0m0-3h0m2 3h0m1-1h0m3 1h0m1-1h0m2 0h0m2 1h0m7 0h0m1-1h0m2 0h0m7 0h0m4 0h0m2 1h0m1 0h0m3-1h0m1 0h0m4 1h0m3-1h0m4 0h0m1 0h0m2 0h0m3 1h0m1-1h0m7 1h0m2 0h0m1 0h0m2 0h0m3 0h0m1 0h0m2-1h0m2 1h0m3 0h0m6 0h0m2 0h0m4 0h0m5-1h0m3 1h0m1 0h0m2-1h0m2 0h0m3 1h0m3 0h0m3-1h0m1 0h0m3 1h0m1-1h0m3 1h0m1-1h0m4 1h0m4 0h0m5 0h0m1-1h0m2 1h0m2 0h0m2 0h0m3-1h0m2 0h0m2 0h0m4 0h0m1 1h0m2 0h0m2-1h0m1 0h0m3 0h0m3 0h0m1 1h0m3 0h0m1 0h0m3 0h0m3 0h0m4 0h0m5-1h0m1 0h0m3 1h0m2 0h0m2 0h0m1-1h0m2 1h0m3 0h0m2-1h0m1 0h0m3 1h0m1-1h0m5 0h0m2 0h0m2 0h0m1 0h0m3 1h0m1-1h0m3 0h0m3 1h0m4 0h0m3-1h0m4 1h0m1 0h0m4-1h0m3 0h0m2 0h0m1 0h0m2 0h0m2 0h0m5 0h0m2 1h0m2-1h0m1 0h0m2 0h0m2 1h0m5 0h0m4 0h0m4-1h0m3 1h0m5-1h0m3 1h0m2 0h0m3-1h0m1 0h0m8 1h0m2 0h0m5-1h0m1 0h0m2 1h0m2-1h0m3 0h0m1 0h0m3 0h0m2 1h0m1-1h0m2 1h0m3-1h0m2 1h0m4 0h0m3-1h0m2 0h0m15 1h0m1 0h0m3-1h0m3 0h0m7 1h0m1-1h0m2 0h0m4 0h0m3 1h0m2 0h0m5-1h0m3 1h0m1-1h0m2 1h0m3-1h0m2 0h0m1 1h0m5-1h0m2 1h0m4 0h0m2 0h0m2 0h0m1-1h0m4 0h0m5 1h0m5 0h0m3-1h0m2 1h0m2 0h0m3 0h0m2 0h0m3-1h0m1 0h0m2 0h0m3 1h0m1-1h0m3 1h0m2 0h0m6-1h0m1 1h0m4 0h0m2-1h0m3 0h0m4 1h0m1-1h0m4 1h0m2 0h0m1-1h0m2 1h0m3-1h0m5 0h0m2 0h0m1 0h0m4 0h0m3 1h0m2 0h0m3-1h0m2 0h0m2 1h0m7 0h0m2-1h0m1 1h0m3-1h0m1 0h0m3 0h0m2 0h0m1 0h0m6 1h0m3-1h0m3 0h0m4 0h0m2 0h0m2 0h0m4 1h0m2-1h0m4 0h0m4 0h0m4 1h0m6 0h0m2-1h0m3 0h0m2 1h0m1 0h0m2 0h0m2 0h0m3 0h0m1-1h0m3 1h0m4 0h0m8-1h0m1 1h0m3 0h0m1 0h0m3-4h0m1 3h0m2 1h0m1-4h0m0 1h0m1 3h0m0-2h0m1-4h0m1 5h0m2-5h0m1 6h0m13-7h0m1 0h0m7 3h0m5 3h0m16-3h0" stroke="#000" stroke-width="7.3" stroke-linecap="round" fill="none"/>
<path d="M97.4 424.6L797.8 419.5" stroke="#f4bf22" stroke-width="3.6" fill="none"/>
<path d="M101.4 325.8C102.8 329.2 106.7 339.3 109.6 346.2C112.4 353.1 115.2 360.1 118.4 367.3C121.7 374.5 125.5 382.7 128.8 389.4C132.2 396.1 135.3 402.2 138.5 407.7C141.7 413.1 144.9 417.7 148.1 422.1C151.3 426.5 153.2 429 157.7 434C162.3 439 168.4 446.8 175.5 452.2C182.6 457.6 192 463.4 200.2 466.4C208.5 469.5 216.7 470.4 225 470.7C233.2 471 237.3 470.5 249.7 468.3C262 466.2 282.6 460.7 299.1 457.9C315.6 455.2 336.1 452.8 348.5 451.8C360.9 450.7 360.9 450.9 373.2 451.8C385.6 452.6 406.2 455.4 422.6 457C439.1 458.5 455.6 460.3 472.1 461.2C488.5 462.2 505 462.6 521.5 462.6C537.9 462.7 554.4 462.9 570.9 461.7C587.4 460.5 603.8 458.9 620.3 455.5C636.8 452.2 653.3 446.9 669.7 441.3C686.2 435.8 708.4 426.5 719.1 422.4C729.9 418.3 731.5 417.7 734 416.7" stroke="#f20c0c" stroke-width="7.0" fill="none" stroke-linecap="round" stroke-linejoin="round"/>
<path d="M741.4 413.9l3 -1M751.3 410.1l3 -1M761.2 406.3l3 -1M768.6 403.5l2 -1M776 401.1l2 -1M782.2 398.7l1 0" stroke="#f20c0c" stroke-width="6.6" fill="none" stroke-linecap="round"/>
<g font-family="'Liberation Serif', 'Times New Roman', serif" font-weight="bold" fill="#000">
<text x="655" y="90.5" font-size="46" text-anchor="middle">A02</text>
<text x="796.5" y="595" font-size="48" text-anchor="end">Distance (Mb)</text>
<text transform="translate(45 560) rotate(-90)" font-size="48">Correlation coefficient (r<tspan font-size="29.8" dy="-17.3">2</tspan><tspan dy="17.3">)</tspan></text>
</g>
</g>
<g>
<rect x="937.8" y="13.2" width="713.7" height="492.2" fill="#fff" stroke="#b2b2b2" stroke-width="1.35"/>
<path d="M942 505.4v6.2M950.8 505.4v4.3M959.6 505.4v4.3M968.4 505.4v4.3M977.2 505.4v4.3M986.1 505.4v6.2M994.9 505.4v4.3M1003.7 505.4v4.3M1012.5 505.4v4.3M1021.3 505.4v4.3M1030.1 505.4v6.2M1038.9 505.4v4.3M1047.7 505.4v4.3M1056.6 505.4v4.3M1065.4 505.4v4.3M1074.2 505.4v6.2M1083 505.4v4.3M1091.8 505.4v4.3M1100.6 505.4v4.3M1109.4 505.4v4.3M1118.2 505.4v6.2M1127.1 505.4v4.3M1135.9 505.4v4.3M1144.7 505.4v4.3M1153.5 505.4v4.3M1162.3 505.4v6.2M1171.1 505.4v4.3M1179.9 505.4v4.3M1188.7 505.4v4.3M1197.5 505.4v4.3M1206.4 505.4v6.2M1215.2 505.4v4.3M1224 505.4v4.3M1232.8 505.4v4.3M1241.6 505.4v4.3M1250.4 505.4v6.2M1259.2 505.4v4.3M1268 505.4v4.3M1276.9 505.4v4.3M1285.7 505.4v4.3M1294.5 505.4v6.2M1303.3 505.4v4.3M1312.1 505.4v4.3M1320.9 505.4v4.3M1329.7 505.4v4.3M1338.5 505.4v6.2M1347.4 505.4v4.3M1356.2 505.4v4.3M1365 505.4v4.3M1373.8 505.4v4.3M1382.6 505.4v6.2M1391.4 505.4v4.3M1400.2 505.4v4.3M1409 505.4v4.3M1417.8 505.4v4.3M1426.7 505.4v6.2M1435.5 505.4v4.3M1444.3 505.4v4.3M1453.1 505.4v4.3M1461.9 505.4v4.3M1470.7 505.4v6.2M1479.5 505.4v4.3M1488.3 505.4v4.3M1497.2 505.4v4.3M1506 505.4v4.3M1514.8 505.4v6.2M1523.6 505.4v4.3M1532.4 505.4v4.3M1541.2 505.4v4.3M1550 505.4v4.3M1558.8 505.4v6.2M1567.7 505.4v4.3M1576.5 505.4v4.3M1585.3 505.4v4.3M1594.1 505.4v4.3M1602.9 505.4v6.2M1611.7 505.4v4.3M1620.5 505.4v4.3M1629.3 505.4v4.3M1638.1 505.4v4.3M1647 505.4v6.2M937.8 501.3h-5M937.8 453.1h-5M937.8 404.8h-5M937.8 356.6h-5M937.8 308.4h-5M937.8 260.1h-5M937.8 211.9h-5M937.8 163.7h-5M937.8 115.5h-5M937.8 67.2h-5M937.8 19h-5" stroke="#a2a2a2" stroke-width="1.35" fill="none"/>
<path d="M937.8 496.5h-2.4M937.8 491.7h-2.4M937.8 486.8h-2.4M937.8 482h-2.4M937.8 477.2h-2.4M937.8 472.4h-2.4M937.8 467.5h-2.4M937.8 462.7h-2.4M937.8 457.9h-2.4M937.8 448.2h-2.4M937.8 443.4h-2.4M937.8 438.6h-2.4M937.8 433.8h-2.4M937.8 429h-2.4M937.8 424.1h-2.4M937.8 419.3h-2.4M937.8 414.5h-2.4M937.8 409.7h-2.4M937.8 400h-2.4M937.8 395.2h-2.4M937.8 390.4h-2.4M937.8 385.5h-2.4M937.8 380.7h-2.4M937.8 375.9h-2.4M937.8 371.1h-2.4M937.8 366.3h-2.4M937.8 361.4h-2.4M937.8 351.8h-2.4M937.8 347h-2.4M937.8 342.1h-2.4M937.8 337.3h-2.4M937.8 332.5h-2.4M937.8 327.7h-2.4M937.8 322.8h-2.4M937.8 318h-2.4M937.8 313.2h-2.4M937.8 303.6h-2.4M937.8 298.7h-2.4M937.8 293.9h-2.4M937.8 289.1h-2.4M937.8 284.3h-2.4M937.8 279.4h-2.4M937.8 274.6h-2.4M937.8 269.8h-2.4M937.8 265h-2.4M937.8 255.3h-2.4M937.8 250.5h-2.4M937.8 245.7h-2.4M937.8 240.9h-2.4M937.8 236h-2.4M937.8 231.2h-2.4M937.8 226.4h-2.4M937.8 221.6h-2.4M937.8 216.7h-2.4M937.8 207.1h-2.4M937.8 202.3h-2.4M937.8 197.5h-2.4M937.8 192.6h-2.4M937.8 187.8h-2.4M937.8 183h-2.4M937.8 178.2h-2.4M937.8 173.3h-2.4M937.8 168.5h-2.4M937.8 158.9h-2.4M937.8 154h-2.4M937.8 149.2h-2.4M937.8 144.4h-2.4M937.8 139.6h-2.4M937.8 134.8h-2.4M937.8 129.9h-2.4M937.8 125.1h-2.4M937.8 120.3h-2.4M937.8 110.6h-2.4M937.8 105.8h-2.4M937.8 101h-2.4M937.8 96.2h-2.4M937.8 91.3h-2.4M937.8 86.5h-2.4M937.8 81.7h-2.4M937.8 76.9h-2.4M937.8 72.1h-2.4M937.8 62.4h-2.4M937.8 57.6h-2.4M937.8 52.8h-2.4M937.8 47.9h-2.4M937.8 43.1h-2.4M937.8 38.3h-2.4M937.8 33.5h-2.4M937.8 28.6h-2.4M937.8 23.8h-2.4" stroke="#b9b9b9" stroke-width="1.1" fill="none"/>
<g font-family="'Liberation Sans', Arial, sans-serif" font-size="12.6" fill="#3a3a3a" stroke="#3a3a3a" stroke-width="0.45">
<g text-anchor="middle">
<text transform="translate(942 526.7) scale(0.9 1)">0</text>
<text transform="translate(986.1 526.7) scale(0.9 1)">2.00</text>
<text transform="translate(1030.1 526.7) scale(0.9 1)">4.00</text>
<text transform="translate(1074.2 526.7) scale(0.9 1)">6.00</text>
<text transform="translate(1118.2 526.7) scale(0.9 1)">8.00</text>
<text transform="translate(1162.3 526.7) scale(0.9 1)">10.0</text>
<text transform="translate(1206.4 526.7) scale(0.9 1)">12.0</text>
<text transform="translate(1250.4 526.7) scale(0.9 1)">14.0</text>
<text transform="translate(1294.5 526.7) scale(0.9 1)">16.0</text>
<text transform="translate(1338.5 526.7) scale(0.9 1)">18.0</text>
<text transform="translate(1382.6 526.7) scale(0.9 1)">20.0</text>
<text transform="translate(1426.7 526.7) scale(0.9 1)">22.0</text>
<text transform="translate(1470.7 526.7) scale(0.9 1)">24.0</text>
<text transform="translate(1514.8 526.7) scale(0.9 1)">26.0</text>
<text transform="translate(1558.8 526.7) scale(0.9 1)">28.0</text>
<text transform="translate(1602.9 526.7) scale(0.9 1)">30.0</text>
<text transform="translate(1647 526.7) scale(0.9 1)">32.0</text>
</g><g text-anchor="end">
<text transform="translate(929.8 505.7) scale(0.9 1)">0.0</text>
<text transform="translate(929.8 457.5) scale(0.9 1)">0.1</text>
<text transform="translate(929.8 409.2) scale(0.9 1)">0.2</text>
<text transform="translate(929.8 361) scale(0.9 1)">0.3</text>
<text transform="translate(929.8 312.8) scale(0.9 1)">0.4</text>
<text transform="translate(929.8 264.5) scale(0.9 1)">0.5</text>
<text transform="translate(929.8 216.3) scale(0.9 1)">0.6</text>
<text transform="translate(929.8 168.1) scale(0.9 1)">0.7</text>
<text transform="translate(929.8 119.9) scale(0.9 1)">0.8</text>
<text transform="translate(929.8 71.6) scale(0.9 1)">0.9</text>
<text transform="translate(929.8 23.4) scale(0.9 1)">1.0</text>
</g></g>
<path d="M942.3 71.2h3M942.3 73.2h3M942.3 75.2h3M942.3 77.2h3M942.3 79.2h3M942.3 81.2h3M942.3 83.2h3M942.3 85.2h3M942.3 87.2h3M942.3 89.2h3M942.3 91.2h3M942.3 93.2h3M942.3 95.2h3M942.3 97.2h3M942.3 99.2h3M942.3 101.2h3M942.3 103.2h3M942.3 105.2h3M942.3 107.2h3M942.3 109.2h3M942.3 111.2h3M942.3 113.2h3M942.3 115.2h3M942.3 117.2h3M942.3 119.2h3M942.3 121.2h3M942.3 123.2h3M942.3 125.2h3M942.3 127.2h3M942.3 129.2h3M942.3 131.2h5M942.3 133.2h5M942.3 135.2h5M942.3 137.2h5M942.3 139.2h5M942.3 141.2h5M942.3 143.2h5M942.3 145.2h5M942.3 147.2h5M942.3 149.2h5M942.3 151.2h5M942.3 153.2h5M942.3 155.2h5M942.3 157.2h5M942.3 159.2h5M942.3 161.2h5M942.3 163.2h5M942.3 165.2h5M942.3 167.2h5M942.3 169.2h5M942.3 171.2h5M942.3 173.2h5M942.3 175.2h5M942.3 177.2h5M942.3 179.2h5M942.3 181.2h7M942.3 183.2h7M942.3 185.2h7M942.3 187.2h9M942.3 189.2h11M942.3 191.2h15M942.3 193.2h17M942.3 195.2h17M942.3 197.2h19M942.3 199.2h19M942.3 201.2h19M942.3 203.2h21M942.3 205.2h21M942.3 207.2h21M942.3 209.2h23M942.3 211.2h23M942.3 213.2h23M942.3 215.2h23M942.3 217.2h25M942.3 219.2h25M942.3 221.2h25M942.3 223.2h25M942.3 225.2h27M942.3 227.2h27M942.3 229.2h27M942.3 231.2h27M942.3 233.2h29M942.3 235.2h29M942.3 237.2h29M942.3 239.2h31M942.3 241.2h31M942.3 243.2h31M942.3 245.2h33M942.3 247.2h33M942.3 249.2h33M942.3 251.2h33M942.3 253.2h35M942.3 255.2h35M942.3 257.2h35M942.3 259.2h35M942.3 261.2h35M942.3 263.2h37M942.3 265.2h37M942.3 267.2h37M942.3 269.2h37M942.3 271.2h39M942.3 273.2h39M942.3 275.2h39M942.3 277.2h39M942.3 279.2h41M942.3 281.2h41M942.3 283.2h41M942.3 285.2h43M942.3 287.2h43M942.3 289.2h45M942.3 291.2h45M942.3 293.2h45M942.3 295.2h47M942.3 297.2h47M942.3 299.2h47M942.3 301.2h47M942.3 303.2h47M942.3 305.2h49M942.3 307.2h49M942.3 309.2h49M942.3 311.2h49M942.3 313.2h49M942.3 315.2h49M942.3 317.2h51M942.3 319.2h51M942.3 321.2h51M942.3 323.2h51M942.3 325.2h51M942.3 327.2h51M942.3 329.2h53M942.3 331.2h53M942.3 333.2h53M942.3 335.2h53M942.3 337.2h55M942.3 339.2h55M942.3 341.2h57M942.3 343.2h59M1014.3 343.2h5M942.3 345.2h61M1014.3 345.2h5M942.3 347.2h63M1012.3 347.2h7M942.3 349.2h65M1010.3 349.2h9M942.3 351.2h79M942.3 353.2h79M1140.3 353.2h3M942.3 355.2h79M1140.3 355.2h3M942.3 357.2h81M1140.3 357.2h3M942.3 359.2h81M1140.3 359.2h3M942.3 361.2h81M1140.3 361.2h3M942.3 363.2h83M1138.3 363.2h5M942.3 365.2h83M1138.3 365.2h5M1174.3 365.2h5M942.3 367.2h85M1138.3 367.2h7M1172.3 367.2h9M942.3 369.2h85M1138.3 369.2h7M1172.3 369.2h9M942.3 371.2h85M1138.3 371.2h7M1172.3 371.2h9M1282.3 371.2h3M942.3 373.2h87M1136.3 373.2h9M1172.3 373.2h11M1282.3 373.2h3M942.3 375.2h87M1086.3 375.2h3M1136.3 375.2h9M1170.3 375.2h13M1282.3 375.2h5M942.3 377.2h87M1086.3 377.2h3M1136.3 377.2h9M1170.3 377.2h13M1280.3 377.2h7M942.3 379.2h89M1084.3 379.2h5M1120.3 379.2h3M1136.3 379.2h9M1170.3 379.2h13M1264.3 379.2h5M1280.3 379.2h7M942.3 381.2h89M1084.3 381.2h5M1120.3 381.2h5M1134.3 381.2h11M1170.3 381.2h15M1264.3 381.2h7M1278.3 381.2h9M942.3 383.2h89M1084.3 383.2h7M1118.3 383.2h9M1132.3 383.2h15M1170.3 383.2h15M1248.3 383.2h3M1264.3 383.2h7M1278.3 383.2h11M942.3 385.2h91M1082.3 385.2h9M1118.3 385.2h29M1168.3 385.2h19M1190.3 385.2h5M1248.3 385.2h5M1262.3 385.2h11M1276.3 385.2h13M942.3 387.2h91M1082.3 387.2h9M1118.3 387.2h29M1168.3 387.2h27M1204.3 387.2h5M1220.3 387.2h3M1246.3 387.2h7M1262.3 387.2h29M1320.3 387.2h3M942.3 389.2h93M1080.3 389.2h11M1118.3 389.2h29M1168.3 389.2h29M1204.3 389.2h5M1220.3 389.2h3M1246.3 389.2h9M1260.3 389.2h33M1298.3 389.2h3M1320.3 389.2h3M942.3 391.2h95M1066.3 391.2h27M1116.3 391.2h31M1168.3 391.2h31M1202.3 391.2h7M1220.3 391.2h5M1246.3 391.2h11M1258.3 391.2h45M1320.3 391.2h5M942.3 393.2h101M1064.3 393.2h29M1116.3 393.2h33M1166.3 393.2h45M1218.3 393.2h7M1244.3 393.2h59M1318.3 393.2h7M942.3 395.2h103M1062.3 395.2h33M1116.3 395.2h33M1156.3 395.2h3M1166.3 395.2h45M1218.3 395.2h7M1244.3 395.2h59M1318.3 395.2h7M942.3 397.2h105M1054.3 397.2h43M1114.3 397.2h37M1154.3 397.2h7M1164.3 397.2h49M1216.3 397.2h11M1242.3 397.2h63M1318.3 397.2h7M942.3 399.2h157M1112.3 399.2h115M1242.3 399.2h63M1318.3 399.2h9M942.3 401.2h287M1240.3 401.2h65M1316.3 401.2h11M942.3 403.2h289M1238.3 403.2h67M1316.3 403.2h11M942.3 405.2h365M1316.3 405.2h11M942.3 407.2h365M1314.3 407.2h15M942.3 409.2h367M1312.3 409.2h17M942.3 411.2h389M942.3 413.2h391M1336.3 413.2h5M942.3 415.2h401M1454.3 415.2h3M942.3 417.2h403M1424.3 417.2h7M1452.3 417.2h9M942.3 419.2h405M1418.3 419.2h15M1452.3 419.2h19M1472.3 419.2h5M942.3 421.2h411M1418.3 421.2h17M1450.3 421.2h29M1510.3 421.2h3M942.3 423.2h415M1416.3 423.2h23M1450.3 423.2h33M1492.3 423.2h5M1508.3 423.2h7M1540.3 423.2h3M942.3 425.2h417M1368.3 425.2h5M1414.3 425.2h27M1448.3 425.2h37M1488.3 425.2h11M1506.3 425.2h9M1540.3 425.2h5M942.3 427.2h419M1366.3 427.2h9M1404.3 427.2h97M1504.3 427.2h13M1538.3 427.2h7M1554.3 427.2h3M1580.3 427.2h3M942.3 429.2h439M1390.3 429.2h127M1536.3 429.2h11M1552.3 429.2h7M1580.3 429.2h5M942.3 431.2h577M1534.3 431.2h27M1578.3 431.2h9M942.3 433.2h581M1532.3 433.2h31M1576.3 433.2h11M942.3 435.2h623M1574.3 435.2h15M942.3 437.2h627M1572.3 437.2h19M942.3 439.2h651M942.3 441.2h655M942.3 443.2h663M942.3 445.2h665M942.3 447.2h667M942.3 449.2h669M942.3 451.2h671M942.3 453.2h673M942.3 455.2h675M942.3 457.2h677M942.3 459.2h677M942.3 461.2h679M942.3 463.2h681M942.3 465.2h681M942.3 467.2h683M942.3 469.2h683M942.3 471.2h683M942.3 473.2h685M942.3 475.2h685M942.3 477.2h685" stroke="#000" stroke-width="3.4" fill="none"/>
<path d="M0 0m942 19h0m3 0h0m4 0h0m3 0h0m19 0h0m135 0h0m9 0h0m21 0h0m95 0h0m191 0h0m5 0h0m187 0h0m4 0h0m4 0h0m-681 15h0m1 9h0m2-1h0m0 5h0m122-8h0m166 5h0m-290 13h0m0 3h0m2-12h0m221 10h0m-224 3h0m1 11h0m0-2h0m0-3h0m1 4h0m0-3h0m1 4h0m0-9h0m1 7h0m1-1h0m0 1h0m6 1h0m280-5h0m-291 13h0m1-3h0m0-1h0m0 9h0m0-6h0m1 4h0m0-8h0m1 2h0m0 4h0m1 3h0m0-6h0m0 2h0m0-5h0m8 8h0m187-10h0m93 8h0m381 1h0m4 0h0m5 0h0m4 0h0m-686 4h0m1 9h0m0-9h0m0 3h0m0 4h0m1-2h0m0 6h0m0-4h0m0-6h0m1 8h0m0-5h0m1-1h0m0 4h0m0-6h0m1 7h0m0-7h0m2 10h0m0-4h0m10-7h0m152 6h0m5 0h0m49 1h0m254 4h0m-477 1h0m1 0h0m0 8h0m0-6h0m1-2h0m0 3h0m1-4h0m0 8h0m0-1h0m1 3h0m0-6h0m1 0h0m0 2h0m2 3h0m13 1h0m145-8h0m21 7h0m31-2h0m74-4h0m-290 17h0m0-7h0m0 9h0m0-8h0m0 4h0m1-3h0m0 6h0m1 0h0m0-4h0m0 3h0m1-6h0m0 10h0m1-2h0m1-1h0m0 1h0m0-4h0m0-3h0m1 1h0m2-1h0m159 7h0m-168 10h0m1-5h0m0 3h0m0 2h0m1-7h0m0-1h0m1 7h0m0 1h0m1-7h0m0 4h0m0 7h0m0-8h0m1 0h0m0-3h0m1 7h0m0 2h0m0-10h0m2 2h0m2 4h0m7 3h0m150-2h0m412-2h0m-579 8h0m0 6h0m0 4h0m1-11h0m0 11h0m0-3h0m1-6h0m0 8h0m0-5h0m1 3h0m0-4h0m0 6h0m0 1h0m1-8h0m3 1h0m3 8h0m2 0h0m3-11h0m4 2h0m13 0h0m35 9h0m130-1h0m96-7h0m286 6h0m-578 9h0m0-6h0m0 3h0m0 5h0m0-1h0m2-2h0m0 5h0m0-9h0m1 2h0m0 5h0m0-3h0m2 1h0m0-5h0m1 5h0m1 1h0m1 4h0m5-10h0m0 9h0m9 0h0m16-2h0m17 1h0m286-1h0m-341 6h0m0 8h0m0-7h0m0-2h0m0 5h0m1-2h0m0 5h0m1-3h0m0 4h0m0-7h0m0 2h0m0 4h0m1-8h0m4 2h0m0 2h0m3-3h0m0 1h0m3-2h0m0 7h0m0-2h0m3 0h0m2 1h0m4-5h0m8 7h0m10-2h0m145-8h0m391 1h0m-576 15h0m0 2h0m0 3h0m0-2h0m0-5h0m0 9h0m1-8h0m1 3h0m1-4h0m0 4h0m0 3h0m0-6h0m2 0h0m1-2h0m1-1h0m0 7h0m1 5h0m0-5h0m1-1h0m0 4h0m0-5h0m1 0h0m2 4h0m0 1h0m1-5h0m1 1h0m0 3h0m2 3h0m1-9h0m0-2h0m2 8h0m1-6h0m3 1h0m2 2h0m2 4h0m35-9h0m5 0h0m58 4h0m18-5h0m5 5h0m37-2h0m28 5h0m132 1h0m218 2h0m-564 2h0m0 9h0m1-4h0m0-6h0m0 9h0m0-7h0m0 9h0m0-7h0m1 7h0m1-11h0m0 6h0m1 3h0m0 1h0m0-6h0m0-4h0m0 7h0m4-3h0m3 0h0m0-3h0m1 3h0m1 4h0m1-8h0m0 5h0m1 5h0m1-3h0m2 0h0m3-7h0m1 9h0m1-6h0m0-1h0m1 7h0m0 2h0m3-6h0m2-5h0m23 10h0m96-1h0m48-7h0m43-1h0m55 4h0m25 6h0m60-10h0m158-1h0m-536 16h0m0 8h0m0-3h0m0-3h0m1 1h0m0-5h0m0 9h0m1-6h0m0-4h0m0 7h0m0-4h0m1 8h0m0-3h0m14-9h0m4 9h0m1-1h0m0 3h0m1-11h0m1 2h0m0 10h0m0-6h0m1 2h0m1 2h0m4-1h0m7-4h0m1 1h0m2 1h0m3 0h0m10-6h0m226 3h0m383-1h0m-663 17h0m0 2h0m1-6h0m0 3h0m0 5h0m1-9h0m0 2h0m1-3h0m0 7h0m1-5h0m0-3h0m0 7h0m0 3h0m20 0h0m0-8h0m2 3h0m0-5h0m1 9h0m1 0h0m18 0h0m1 1h0m78-8h0m45-2h0m8 4h0m13-4h0m100 9h0m-290 4h0m0 4h0m0 4h0m0-3h0m0-3h0m2 5h0m0 2h0m1-9h0m0 2h0m0 3h0m0-2h0m24-1h0m0 8h0m1-4h0m0-5h0m0 3h0m3 5h0m3-10h0m1 2h0m0 1h0m0 4h0m1-1h0m4-2h0m13-3h0m14 0h0m79 6h0m33-6h0m9 9h0m6-11h0m1 1h0m2 8h0m8 1h0m71-2h0m186 2h0m-462 4h0m0 2h0m0 2h0m0 5h0m1-11h0m0 11h0m0-4h0m0 1h0m1 2h0m1-3h0m0-5h0m0 3h0m0 5h0m0-9h0m25 3h0m2 4h0m2 1h0m0 2h0m1-9h0m0 6h0m1-2h0m4 1h0m2-2h0m2-3h0m0 6h0m1 2h0m126-9h0m29 9h0m9-1h0m9-1h0m27 0h0m82-1h0m36 4h0m78-3h0m121-7h0m11 4h0m48 0h0m5 0h0m-624 11h0m0 5h0m0-9h0m0 12h0m0-4h0m1 0h0m1 4h0m1-9h0m0 7h0m0-4h0m0-6h0m0 7h0m31 3h0m0-5h0m2 3h0m2-5h0m3 1h0m0 6h0m1-2h0m2-4h0m1 7h0m1-7h0m4-3h0m3 8h0m23-6h0m16 8h0m19-3h0m43 1h0m34 0h0m13-9h0m18 2h0m14 2h0m27 7h0m6-9h0m15 10h0m58-7h0m18-3h0m2 3h0m206-4h0m-566 23h0m0-10h0m1 9h0m0-5h0m2 4h0m0-6h0m0-2h0m0 4h0m1 5h0m0-4h0m32 0h0m1 0h0m1-7h0m1 0h0m0 7h0m2 4h0m22-3h0m12 4h0m16-6h0m51 6h0m2-3h0m17 1h0m19-5h0m42-4h0m7 2h0m10 5h0m46-7h0m4 0h0m32 1h0m29-1h0m6 3h0m52-3h0m3 0h0m40 0h0m125 1h0m24-1h0m-600 14h0m0 8h0m1-9h0m0 5h0m0-2h0m0 5h0m1-3h0m0-5h0m0 7h0m0-6h0m2-2h0m0 6h0m0-4h0m0 9h0m0-6h0m0 3h0m35-8h0m0 3h0m1 5h0m1-1h0m3-2h0m1-3h0m0 7h0m2-2h0m3 2h0m0 1h0m17-5h0m4 0h0m6 4h0m27-5h0m0 2h0m34 4h0m35 1h0m28-3h0m9-1h0m2-1h0m2 0h0m26 4h0m1-6h0m0 2h0m3-2h0m7 6h0m0-4h0m83-1h0m7 4h0m1 0h0m11-7h0m1-2h0m4 6h0m59 5h0m61-9h0m2 2h0m56-3h0m29 4h0m41-2h0m8 8h0m24 0h0m-637 7h0m0 5h0m0-10h0m0 7h0m1-5h0m1-2h0m0 8h0m1-5h0m0 1h0m0-4h0m38 6h0m2-5h0m0 6h0m0 1h0m1 0h0m0 1h0m1-7h0m4 0h0m6 3h0m33-1h0m33 5h0m3-9h0m15 2h0m29-2h0m10 1h0m21 1h0m1-3h0m2 3h0m22-2h0m5 2h0m3 1h0m3 0h0m0 5h0m10-4h0m84 2h0m44 2h0m90-8h0m56 8h0m71-6h0m5 1h0m29-3h0m2 0h0m-627 15h0m1-3h0m0 2h0m1 5h0m1-3h0m0-5h0m1 1h0m0 9h0m0-11h0m0 8h0m0 1h0m43-6h0m1 3h0m1 2h0m2 0h0m1-2h0m5-5h0m0 4h0m1 4h0m9-9h0m4 3h0m3 0h0m0 8h0m4 1h0m4-5h0m61 2h0m0 2h0m3-6h0m9 6h0m9-2h0m20-8h0m14 7h0m0-8h0m2 11h0m3-2h0m6-7h0m14 0h0m2 6h0m4-3h0m1 2h0m10 4h0m26-3h0m2-1h0m1-3h0m67 2h0m11-6h0m4 5h0m4 6h0m36 1h0m62-9h0m147 2h0m-600 12h0m0 6h0m1-7h0m0-3h0m0 1h0m0 7h0m0 3h0m1-6h0m0 5h0m0-11h0m1 4h0m0 6h0m1-2h0m0-7h0m0 3h0m45-3h0m3 2h0m0 6h0m0 2h0m2-3h0m0-2h0m0 5h0m1-8h0m5-2h0m1 8h0m1-4h0m6 3h0m1-5h0m5-2h0m0 6h0m1 5h0m4-10h0m0 2h0m2-1h0m6-1h0m2 7h0m5-6h0m4 2h0m33-5h0m4 6h0m5-5h0m6 7h0m2-3h0m2-4h0m2 3h0m1 4h0m27-7h0m2 2h0m6 4h0m1 0h0m3 3h0m5-6h0m1 5h0m2 3h0m33-6h0m5-6h0m3 9h0m1 0h0m26-6h0m31 3h0m4 0h0m12 3h0m7-3h0m3-4h0m23 8h0m8-7h0m5 0h0m7-2h0m13 1h0m23 7h0m24-7h0m12 0h0m30 6h0m21-7h0m30 3h0m11 1h0m19 5h0m54 0h0m-604 4h0m0 6h0m0 4h0m1-10h0m0 1h0m1 8h0m0-11h0m0 7h0m1-5h0m0 7h0m0-4h0m0-2h0m47-1h0m1 0h0m2 9h0m0-8h0m0-3h0m1 10h0m1-3h0m1 4h0m0-5h0m1 4h0m6 2h0m4-7h0m0 5h0m3-1h0m4-2h0m4 3h0m1-8h0m6 7h0m4 2h0m1-8h0m2 8h0m35-2h0m20-1h0m7-1h0m1-1h0m7 4h0m2-7h0m7 2h0m3 0h0m13 5h0m1 1h0m3-6h0m5 5h0m3 2h0m1-2h0m1-4h0m0-4h0m1 7h0m3 1h0m9-3h0m9-3h0m6 5h0m2-4h0m0-4h0m1 6h0m1 3h0m1-3h0m8 2h0m0 2h0m7-11h0m12 10h0m15-3h0m29-6h0m1 1h0m7 1h0m0 6h0m4 0h0m8-6h0m7 0h0m12 2h0m6-4h0m3 7h0m1-4h0m23 7h0m2-10h0m26 5h0m76 5h0m40 1h0m3-5h0m42-7h0m22 5h0m25 5h0m28-5h0m20-4h0m-662 13h0m1 8h0m0-1h0m0-8h0m0 5h0m1-2h0m0 2h0m1 0h0m1-1h0m0 5h0m0-9h0m0 1h0m50 4h0m0-1h0m1 1h0m1-5h0m2 3h0m1 5h0m0-4h0m3 1h0m0-5h0m1 4h0m3 4h0m2-1h0m2 3h0m1-8h0m6 9h0m1-2h0m0-10h0m1 4h0m0 5h0m1-6h0m3 5h0m29-3h0m5 7h0m1-4h0m0 2h0m3-2h0m1-7h0m5 11h0m0-8h0m2 3h0m9-4h0m1-1h0m1 8h0m1 2h0m2-3h0m1-3h0m6 0h0m3-1h0m26-2h0m6 4h0m0-4h0m7 9h0m4-7h0m1 6h0m3-9h0m2 9h0m1-9h0m5 3h0m0 7h0m2-12h0m2 9h0m16-2h0m3 0h0m1-3h0m3 4h0m1 0h0m4-2h0m0 4h0m1-5h0m1-3h0m0 5h0m8-3h0m15-4h0m13 4h0m5-2h0m3 7h0m13-7h0m2 4h0m5 6h0m0-12h0m6 0h0m2 3h0m15 9h0m2-9h0m5 4h0m6-5h0m4 4h0m11 3h0m9-2h0m39 2h0m62 0h0m12-1h0m34-3h0m2 1h0m6-4h0m15 4h0m19-3h0m2-2h0m3 3h0m12 6h0m0 1h0m47-3h0m30-1h0m-648 13h0m0-7h0m0 11h0m0-3h0m1-5h0m1-1h0m1-3h0m0 11h0m0-6h0m0 2h0m0 1h0m54-4h0m3 4h0m1-6h0m3 10h0m0-8h0m1 5h0m0 1h0m1-2h0m2-1h0m0-7h0m3 9h0m0-1h0m1-3h0m2 0h0m2-3h0m2 5h0m1-6h0m0 8h0m1 2h0m0-1h0m1-1h0m0-8h0m0 4h0m0-3h0m2 6h0m1-2h0m2 4h0m1-4h0m0-2h0m1 8h0m4-1h0m2-6h0m19 5h0m2-3h0m12-2h0m10 6h0m1-11h0m0 10h0m6 1h0m1-6h0m1 3h0m1 3h0m2-6h0m1 7h0m3-3h0m1 2h0m8-1h0m0-7h0m14 4h0m1 3h0m5-3h0m4 1h0m6-2h0m1-6h0m1 10h0m2-1h0m1-1h0m2-8h0m1 8h0m2-4h0m6-2h0m1 3h0m11 1h0m9 2h0m2 2h0m1-1h0m0 3h0m3-8h0m4 2h0m1-4h0m3 3h0m0 7h0m1-11h0m6 9h0m3-1h0m3-3h0m1 2h0m10-3h0m1-2h0m10 0h0m2 2h0m0-3h0m1 0h0m1 6h0m2-5h0m6 9h0m8-6h0m11 3h0m15 2h0m0-5h0m4 2h0m10 2h0m8-1h0m6 0h0m12 2h0m0-9h0m0 5h0m3-5h0m5 4h0m4 1h0m7 1h0m1 2h0m1 1h0m1 1h0m5-5h0m39 3h0m39 0h0m3-2h0m4 0h0m2-6h0m5 8h0m6-10h0m6 11h0m0-3h0m19-2h0m5 1h0m0-6h0m17 10h0m15 0h0m3-10h0m29 4h0m16 4h0m2-5h0m7 7h0m1-2h0m6-2h0m31-5h0m-647 20h0m1-9h0m0 10h0m0-8h0m0 1h0m0 5h0m0-1h0m2 2h0m1-9h0m0 7h0m0-2h0m0-3h0m0 7h0m62-9h0m3-1h0m1 0h0m11 8h0m0-1h0m2-1h0m0 2h0m0-3h0m1 5h0m1-7h0m6 4h0m4-1h0m2 3h0m0-9h0m3 4h0m5-1h0m2-3h0m2 12h0m5-6h0m1 0h0m1-2h0m3 4h0m3 2h0m1-2h0m1-2h0m4 0h0m1 1h0m2-3h0m3 7h0m1-5h0m1-6h0m0 11h0m2 0h0m1-10h0m4 10h0m1-6h0m1 6h0m0-4h0m0 3h0m5-7h0m7 8h0m2 0h0m2-7h0m4-2h0m3 9h0m0-5h0m1 5h0m1-2h0m0-1h0m11-6h0m3-2h0m7 11h0m1-4h0m0 3h0m1-3h0m2 1h0m1 3h0m1-3h0m0-3h0m1 4h0m1-5h0m0 8h0m0-7h0m0 2h0m1-5h0m1-1h0m2 8h0m1 1h0m1 0h0m1 0h0m2-2h0m1-4h0m3 1h0m8 0h0m0-4h0m1 6h0m0-3h0m0-4h0m3 3h0m3 6h0m2-6h0m0 8h0m1-5h0m1-4h0m2 2h0m0 4h0m2-4h0m0 5h0m1-5h0m1 6h0m1 1h0m0-5h0m4-1h0m1-3h0m0 9h0m2-7h0m0-3h0m1 0h0m3 4h0m1 5h0m1-3h0m0 4h0m0-2h0m3 3h0m2-4h0m2 4h0m0-2h0m5-7h0m2 8h0m2-9h0m2 7h0m3-6h0m4 3h0m1 0h0m4-3h0m1 6h0m2-7h0m1 7h0m3-2h0m4-3h0m1-2h0m0 9h0m1-5h0m9-4h0m3 7h0m1 2h0m5-5h0m1 0h0m3 4h0m1-8h0m3 3h0m3-2h0m1 9h0m1-5h0m0 1h0m2-2h0m2 5h0m1-3h0m1 1h0m5 0h0m7-3h0m1 5h0m1-1h0m5-7h0m1 5h0m4 3h0m5-9h0m1 8h0m1 1h0m8-6h0m6 0h0m3-3h0m3 2h0m7-2h0m6 1h0m1 3h0m4 1h0m0 2h0m8 2h0m18-3h0m51 0h0m14-1h0m21-1h0m3 3h0m3-7h0m13 6h0m2-5h0m3-1h0m20 9h0m1-1h0m3-5h0m3 7h0m4-8h0m6 7h0m16-9h0m10 4h0m1-3h0m3 2h0m25 3h0m32 2h0m3 1h0m16-10h0m-678 16h0m0-2h0m0 5h0m0-2h0m0-4h0m2 7h0m1-4h0m0-1h0m0 6h0m0-2h0m0-6h0m80 3h0m3 6h0m1 1h0m0-2h0m1-5h0m1 5h0m0-10h0m3 9h0m1-6h0m7 0h0m4 6h0m4-5h0m3 1h0m3 2h0m3-6h0m7 11h0m0-4h0m0-7h0m0 9h0m2-3h0m0-5h0m6 6h0m0 3h0m4-7h0m0 7h0m2-2h0m3-5h0m0 6h0m2-2h0m0-7h0m1 2h0m0 9h0m2-11h0m0 7h0m0-4h0m3-3h0m2 6h0m2 4h0m1-2h0m2 1h0m0-9h0m5 8h0m4-6h0m0-3h0m1 9h0m0-3h0m2 4h0m5-6h0m2 7h0m1-1h0m3 1h0m0-5h0m0-1h0m0 4h0m2-9h0m0 4h0m2 3h0m1-2h0m1 5h0m0-8h0m1 8h0m5 1h0m3-4h0m1 1h0m1-4h0m1-4h0m0 10h0m5-9h0m1 9h0m1-6h0m1 7h0m1 0h0m1-2h0m5-4h0m0-2h0m1 5h0m1-8h0m1 6h0m1 4h0m2-3h0m1 1h0m1 0h0m1-3h0m2 2h0m3 4h0m2-1h0m1 1h0m0 1h0m1-7h0m0 1h0m4-5h0m1 1h0m1 1h0m1 3h0m1-6h0m0 4h0m1 1h0m0-1h0m0-1h0m2 0h0m0-3h0m0 12h0m1-7h0m1 6h0m1 1h0m1-9h0m1 7h0m0-3h0m1 2h0m0-1h0m1 0h0m1-5h0m7 7h0m2-1h0m1 0h0m1-5h0m3 7h0m0-3h0m1-4h0m1 5h0m4-2h0m0 4h0m3-7h0m3 1h0m5 5h0m2 0h0m1-9h0m0 3h0m2-2h0m5 5h0m0-2h0m3 1h0m1 1h0m1-2h0m3 2h0m4-4h0m1 4h0m2 4h0m2-3h0m0-5h0m1-1h0m2 5h0m0-6h0m3 10h0m0-5h0m2-6h0m2 5h0m5 7h0m2-10h0m0 2h0m0 7h0m0-2h0m1 0h0m1-1h0m1 1h0m1 1h0m0-9h0m1 0h0m2 4h0m0 6h0m1-7h0m2 5h0m0-5h0m0 7h0m3-8h0m0 2h0m1 5h0m1-9h0m1 0h0m2 2h0m0 5h0m1 0h0m0-5h0m1 2h0m0-5h0m1 4h0m1 3h0m6 2h0m2-2h0m1 2h0m1 0h0m4 3h0m2-1h0m0-1h0m7-6h0m4 6h0m3 1h0m1-7h0m2-3h0m0 9h0m2 0h0m3-1h0m0-6h0m4-1h0m7 9h0m2-6h0m13 4h0m32-7h0m0 10h0m8-10h0m3 3h0m24-5h0m6 1h0m3 4h0m3 5h0m6-4h0m2-1h0m6 6h0m7 0h0m2-7h0m4-1h0m9 8h0m6-6h0m4 6h0m4-8h0m26 8h0m0-10h0m12 10h0m21-8h0m4-1h0m5 4h0m1-2h0m6 3h0m5-7h0m2 3h0m22 4h0m3-2h0m-646 7h0m0 11h0m0-6h0m0 1h0m0 3h0m1 2h0m0-10h0m1 8h0m0 3h0m1-10h0m0 4h0m0-3h0m0 5h0m85-4h0m1 0h0m1 0h0m0 1h0m0 4h0m1 0h0m1-7h0m0 1h0m0-3h0m1 5h0m0 4h0m1-7h0m0 3h0m1-3h0m1 4h0m0-2h0m1 3h0m0 5h0m0-10h0m3 2h0m1 2h0m1 2h0m1 4h0m1-8h0m1 4h0m1-8h0m1 5h0m0 1h0m3 5h0m1-4h0m2 1h0m0-8h0m0 10h0m1-9h0m3 1h0m3-1h0m0 6h0m1-4h0m1 3h0m1-1h0m0-5h0m1 5h0m2 0h0m1 1h0m0 2h0m0-5h0m3 2h0m1 1h0m1 6h0m0-4h0m0-3h0m1 4h0m1-6h0m0 6h0m1-4h0m0 6h0m0-9h0m1 8h0m0-6h0m1-2h0m0 6h0m1 2h0m1-4h0m0 5h0m0-6h0m1-2h0m1 2h0m0-2h0m1 8h0m0-9h0m2 1h0m1-1h0m2-2h0m0 2h0m2 3h0m1 3h0m1 3h0m4-3h0m0 1h0m0-3h0m1 4h0m1 1h0m0-4h0m2 1h0m0 3h0m0-6h0m2 3h0m0-4h0m2 6h0m2 1h0m0-3h0m5-1h0m0-6h0m1 9h0m1-2h0m0 2h0m1-3h0m2 4h0m3-3h0m4-5h0m2 0h0m2-1h0m0 2h0m1 3h0m0 3h0m5-6h0m2 3h0m1-4h0m8 1h0m1-1h0m1 3h0m0 2h0m0-6h0m1 6h0m1-5h0m1 3h0m3 3h0m1-6h0m1 4h0m0 5h0m1-7h0m1 3h0m2-5h0m1-1h0m0 1h0m0 1h0m1 5h0m0-3h0m2 5h0m1-7h0m3 5h0m1-5h0m2-1h0m0-1h0m2-1h0m11 6h0m3 4h0m1-9h0m0 6h0m0 2h0m1 0h0m1-4h0m0-1h0m1 4h0m1-2h0m0 2h0m2-7h0m1 5h0m2-2h0m2 1h0m0 5h0m3 1h0m1-2h0m0-2h0m0-4h0m1 8h0m1-6h0m0 1h0m0 4h0m2-7h0m2-3h0m0 5h0m1-2h0m2 7h0m1-4h0m1-4h0m3 1h0m0-3h0m3-1h0m0 11h0m2-3h0m1-5h0m0 5h0m2 2h0m0-1h0m0-2h0m1-4h0m1 5h0m2 2h0m1 1h0m3-8h0m2 6h0m1 2h0m2-5h0m1 0h0m0-5h0m2 4h0m0-4h0m0 8h0m1 0h0m1 1h0m0-10h0m0 6h0m1 4h0m1-1h0m1 0h0m2-1h0m0-4h0m1 5h0m0-3h0m1 1h0m0 3h0m0 2h0m3-6h0m1 5h0m1-2h0m3 0h0m2-1h0m3 1h0m1-5h0m0 5h0m0 2h0m1-3h0m0-3h0m2 0h0m0-1h0m1 0h0m2-2h0m2 5h0m1-5h0m1 4h0m1 2h0m1 4h0m1-4h0m0-2h0m2-5h0m1 8h0m1-1h0m2-6h0m1 0h0m6-2h0m2 3h0m0 6h0m2-8h0m1 2h0m1-1h0m3-1h0m3 7h0m0 2h0m0-5h0m0 4h0m1-2h0m1 1h0m2-2h0m1 2h0m0-1h0m0-6h0m3 2h0m1 3h0m1 1h0m2 4h0m0-11h0m4 5h0m1 1h0m0 3h0m1-8h0m1 1h0m2 7h0m1-5h0m0-4h0m1 1h0m1 1h0m0 5h0m1-3h0m1-4h0m6 5h0m2 2h0m1-2h0m2 4h0m3-1h0m0 3h0m8-8h0m4-2h0m13 1h0m0 6h0m1 0h0m9 0h0m7-6h0m14 1h0m10 7h0m2-1h0m1-7h0m13 4h0m0-3h0m2 6h0m7-5h0m8 3h0m21 1h0m0 2h0m4-8h0m5-2h0m17 4h0m2-2h0m3 6h0m2-1h0m8-5h0m2 3h0m0 1h0m1-3h0m9 7h0m27 0h0m2-6h0m1 8h0m1-7h0m0 1h0m8 0h0m9-1h0m3-2h0m1 4h0m15 0h0m0-2h0m1 5h0m17-7h0m6 4h0m3 2h0m1-1h0m-668 8h0m1-3h0m0 6h0m0-2h0m0-5h0m0 10h0m0 2h0m0-9h0m2 1h0m1 5h0m0-7h0m0 1h0m0 4h0m91-2h0m1-1h0m0 2h0m4-5h0m0 7h0m0-1h0m0-4h0m1-1h0m3 4h0m3 4h0m5 1h0m0-2h0m4-2h0m0-7h0m0 9h0m1-4h0m0 5h0m1 1h0m2 1h0m2-8h0m2-1h0m0-1h0m1 5h0m1-5h0m3 0h0m0 3h0m9-3h0m2 3h0m10-1h0m3 1h0m2-1h0m0-2h0m1 9h0m5-1h0m0-5h0m0 7h0m3 0h0m1 0h0m0-10h0m0-2h0m2 12h0m0-3h0m1-4h0m1-4h0m1 5h0m0 1h0m1-5h0m1 9h0m0-1h0m2-6h0m3-1h0m1 1h0m28-2h0m0-1h0m0 5h0m0 2h0m1-2h0m0-6h0m0 7h0m1-3h0m2 4h0m1 3h0m1-4h0m2-1h0m1-5h0m0 6h0m0-5h0m0 9h0m2-10h0m1 6h0m1 3h0m0-6h0m0 3h0m3-7h0m1 3h0m0 5h0m1 1h0m0 3h0m0-5h0m22-6h0m13 5h0m1-1h0m1-1h0m1-2h0m5-2h0m1 4h0m3 8h0m1-3h0m0-3h0m1 1h0m3 4h0m0-2h0m1-2h0m1-6h0m4 4h0m2 6h0m0-8h0m2 5h0m1 3h0m0 1h0m1-7h0m0 1h0m1-3h0m2 8h0m0-1h0m0-8h0m1 7h0m2-7h0m2 8h0m3 1h0m1-1h0m0-4h0m0 5h0m3-10h0m0 2h0m1 2h0m0-2h0m1 3h0m7-2h0m2 0h0m3 2h0m0 2h0m1-2h0m3-3h0m14-1h0m1-2h0m12 2h0m6 0h0m4 3h0m1-1h0m0-3h0m0 1h0m2 3h0m1-2h0m1 7h0m0-2h0m2-8h0m0 12h0m0-8h0m2 8h0m1-11h0m1 11h0m0-2h0m0-9h0m2 2h0m0 4h0m0 4h0m5-8h0m2 5h0m0-3h0m1-1h0m1 4h0m0-2h0m1-5h0m1 1h0m2 0h0m1 4h0m3 4h0m8-6h0m0-1h0m5 6h0m2 0h0m2-3h0m0-2h0m1 1h0m4-4h0m3 0h0m9 2h0m5 2h0m1 4h0m1-1h0m5-6h0m3 10h0m7-1h0m3-9h0m4 9h0m2-6h0m2-2h0m1 5h0m0-1h0m3-7h0m5 2h0m4-1h0m3 9h0m3 2h0m2-6h0m1 3h0m4 1h0m1-4h0m0 3h0m0 2h0m0-8h0m0 7h0m2 1h0m1-3h0m2 2h0m1-8h0m1 4h0m1 3h0m1-5h0m0 1h0m4 4h0m7 3h0m2-5h0m10 4h0m1-10h0m2 0h0m1 7h0m2-8h0m4 11h0m2-6h0m0 6h0m1 0h0m0-1h0m2 1h0m1-5h0m1-6h0m1 8h0m0-3h0m6-4h0m1 10h0m5-8h0m2 9h0m1-11h0m3 0h0m0 10h0m2-1h0m1-1h0m0-2h0m1 3h0m1-3h0m5-5h0m7 4h0m2 5h0m0-1h0m1-5h0m6-3h0m1 4h0m6 3h0m3-5h0m5 5h0m2-2h0m1 3h0m1-3h0m3 0h0m2 2h0m2-8h0m0 9h0m2-9h0m8 6h0m0 4h0m3 0h0m3 1h0m0-4h0m4 3h0m11-1h0m4-9h0m4 3h0m4 7h0m0-8h0m-645 19h0m1 0h0m0-4h0m0-3h0m0 4h0m0-6h0m2 11h0m0-10h0m1 6h0m0 1h0m0-6h0m0-3h0m0 5h0m102-5h0m2 0h0m1 1h0m51 2h0m0-3h0m3 2h0m0 1h0m2-1h0m1 0h0m2 0h0m1-1h0m1 0h0m50 1h0m1 0h0m2 0h0m62-2h0m5 6h0m0-4h0m1 4h0m0-1h0m1-2h0m3-1h0m0-2h0m3 1h0m1 5h0m65-6h0m2 7h0m1 4h0m3-6h0m0 4h0m3-8h0m0 1h0m0 7h0m0-4h0m3-5h0m1 1h0m0-1h0m9 9h0m1-4h0m1-2h0m2 3h0m0-4h0m1 4h0m0 2h0m1-3h0m1 6h0m1-1h0m0 2h0m1-1h0m2-4h0m5 3h0m6 2h0m2-7h0m1 1h0m0 3h0m5 2h0m1-1h0m1-2h0m3-3h0m2-2h0m4-2h0m3 4h0m4 4h0m2-5h0m0 7h0m0-3h0m0 1h0m12 2h0m2-3h0m11-7h0m2 7h0m0-4h0m2-2h0m1 8h0m2-4h0m2 4h0m1-4h0m3 1h0m1-6h0m1 6h0m2 5h0m2-5h0m2 3h0m1-6h0m0 7h0m2-6h0m0 5h0m6-1h0m1-5h0m2 2h0m2 3h0m1-1h0m17 3h0m1-10h0m0 8h0m1 2h0m1-7h0m2 1h0m0-4h0m4 7h0m2 3h0m3 1h0m2-11h0m1 9h0m2-10h0m5 8h0m1 0h0m3-5h0m4 4h0m2-3h0m1 5h0m0 3h0m1-4h0m1-4h0m2 0h0m1 2h0m2 3h0m0-3h0m0-6h0m2 4h0m4 2h0m4-5h0m0 9h0m1-7h0m1 1h0m0 8h0m2-3h0m1 1h0m1-5h0m3 1h0m0 1h0m8-1h0m7 4h0m4-5h0m0 6h0m1 1h0m3-10h0m0 6h0m1 1h0m4-1h0m1-5h0m1 3h0m1 1h0m0 4h0m10-5h0m6-4h0m4 8h0m1-2h0m10-6h0m3 1h0m1-2h0m0 10h0m1-1h0m0-7h0m1 5h0m1-5h0m3 5h0m2 3h0m3-6h0m12 0h0m11 3h0m1 0h0m1-7h0m5 10h0m5-1h0m4-3h0m-691 13h0m0 1h0m1 2h0m0-1h0m0-5h0m0-5h0m1 0h0m0 7h0m1-4h0m0 4h0m0-6h0m0 11h0m0-3h0m1-4h0m364-4h0m1 0h0m1 1h0m19-1h0m2-1h0m1 0h0m0 4h0m2 2h0m1-1h0m0-2h0m3-2h0m4 5h0m3 3h0m0-5h0m2 3h0m3 2h0m0-7h0m1 7h0m0-2h0m5 0h0m1-3h0m1 4h0m2 2h0m2 0h0m0-1h0m4-4h0m0 3h0m1 0h0m1 2h0m1 0h0m3-2h0m2-2h0m1 5h0m1-8h0m1 1h0m0 7h0m1-1h0m1-6h0m1 3h0m0 1h0m1-3h0m3 5h0m3-5h0m1 6h0m2-8h0m0 7h0m1-6h0m1 2h0m4-4h0m1 3h0m2 1h0m1-2h0m1-2h0m3 8h0m0-9h0m2 2h0m1 7h0m3-6h0m4-3h0m0 7h0m1 1h0m0-7h0m1 7h0m1-4h0m2 2h0m0 2h0m0-1h0m1-2h0m0-3h0m1-3h0m2 1h0m1 4h0m0-4h0m0-1h0m0 8h0m1-1h0m0-2h0m2 2h0m0-2h0m0-2h0m1-2h0m0 1h0m0 6h0m1-6h0m1 6h0m0-5h0m0-1h0m2 7h0m1-4h0m0-1h0m0 6h0m0-2h0m2 0h0m0-2h0m0 3h0m1 2h0m1-2h0m1-3h0m1-4h0m3 7h0m0-2h0m4 3h0m1-3h0m0 4h0m0-3h0m1-6h0m1 4h0m0 4h0m0 1h0m1-11h0m0 2h0m0 3h0m3-3h0m0 4h0m3 0h0m3-4h0m1 2h0m1 4h0m0-2h0m0-4h0m0 2h0m1-1h0m2 2h0m2 3h0m2 2h0m1-1h0m4 1h0m1-6h0m1 5h0m3-1h0m1 0h0m0 2h0m1-7h0m0 9h0m4-1h0m3-1h0m1-4h0m2 5h0m1-2h0m1-2h0m0 1h0m0-7h0m1 9h0m1 1h0m0-6h0m3 0h0m2-5h0m0 5h0m1-3h0m3 1h0m0-1h0m0-2h0m0 5h0m2-2h0m1-3h0m0 8h0m1 3h0m0-4h0m1 0h0m1 4h0m0-5h0m0-1h0m2 0h0m2 0h0m6 4h0m0-5h0m1-1h0m4-2h0m1 0h0m2 9h0m1 1h0m1-2h0m6-2h0m3 5h0m1-9h0m0 1h0m2 8h0m1-2h0m0-4h0m0-1h0m3 0h0m0-2h0m1 3h0m2 0h0m0-5h0m2 2h0m3 3h0m6 5h0m1-1h0m1-5h0m0 7h0m1-11h0m0 4h0m1-4h0m1 0h0m1 2h0m4 3h0m0 1h0m6 0h0m4-2h0m0-5h0m0 9h0m0-8h0m0 10h0m1-2h0m1-1h0m3-2h0m0-1h0m0 2h0m1-5h0m3 8h0m1-1h0m2 1h0m4-7h0m8-1h0m10 6h0m1-2h0m1 4h0m3-9h0m0 6h0m1-6h0m1-1h0m-680 20h0m1 2h0m0-7h0m0-2h0m0 5h0m1 4h0m0-6h0m1 6h0m0-4h0m1 2h0m0-4h0m0-3h0m416 6h0m3-6h0m0 3h0m1-3h0m3 1h0m0 3h0m1 0h0m1-5h0m0 4h0m0-1h0m3-1h0m2 1h0m3 1h0m1 2h0m3 0h0m1 1h0m1-5h0m3 7h0m1-4h0m0-3h0m0 5h0m0 2h0m1 0h0m0-9h0m1 4h0m1 1h0m0-1h0m1 4h0m0-7h0m1 4h0m1 2h0m3-3h0m0 1h0m2 2h0m1-4h0m0 5h0m0-6h0m1 0h0m3 4h0m1-3h0m0-2h0m1 2h0m2 2h0m1-3h0m6 2h0m2-4h0m1 2h0m19 0h0m2 0h0m6 3h0m0-1h0m0-2h0m3-1h0m32 1h0m3-2h0m2 5h0m2 0h0m1-4h0m1 3h0m1-3h0m1 1h0m1-2h0m1 1h0m8 3h0m3 3h0m1-1h0m0 2h0m0-4h0m1-1h0m14 7h0m1-2h0m0-4h0m2 5h0m0-9h0m2 6h0m1 5h0m1-10h0m1 1h0m3 4h0m0-5h0m6 4h0m4-4h0m1 0h0m1 1h0m1-1h0m1 1h0m2 4h0m1 1h0m1-2h0m0 3h0m1-2h0m1-4h0m1-1h0m2 4h0m2 0h0m3 2h0m0-6h0m2 8h0m0 2h0m1-1h0m0-4h0m0-2h0m1 7h0m0-10h0m0 9h0m1-7h0m0 3h0m1 6h0m0-4h0m1-1h0m0-5h0m4 8h0m4 0h0m1-4h0m1 4h0m0-3h0m1-5h0m1 6h0m1-7h0m2 2h0m5 0h0m0-2h0m0 1h0m1 2h0m0 3h0m1 2h0m2-1h0m0-7h0m1 10h0m3-3h0m1-6h0m5 1h0m0 7h0m1-7h0m0 3h0m0 5h0m5-3h0m0 3h0m4-2h0m1-7h0m3-2h0m0 7h0m0-3h0m6 7h0m1-8h0m2 2h0m0 6h0m3-4h0m-684 7h0m0 7h0m0 3h0m0-11h0m0 6h0m1 2h0m0-4h0m1 1h0m0 4h0m0-6h0m1 3h0m0 3h0m0-9h0m578-1h0m2 0h0m1 1h0m6-1h0m35 1h0m2 5h0m2 0h0m1 0h0m1-2h0m2-1h0m14-1h0m2-1h0m1 1h0m0 3h0m1 2h0m3-1h0m1 3h0m1-1h0m2-6h0m0 4h0m1-1h0m1 5h0m0-3h0m0-4h0m4 0h0m1 3h0m2 2h0m1 2h0m0-8h0m0-2h0m0 3h0m2 6h0m3-1h0m7 2h0m1-2h0m6-1h0m3 5h0m-691 9h0m1-6h0m0-2h0m0 5h0m1 6h0m1-2h0m0-3h0m0-2h0m1-1h0m0-2h0m664 1h0m2-2h0m2 1h0m1 1h0m0-2h0m2 7h0m1 3h0m0-1h0m1-9h0m0 6h0m1-6h0m0 4h0m1-4h0m0 2h0m2-2h0m1 9h0m1 1h0m1-4h0m0-1h0m2 5h0m3-2h0m2-2h0m6 2h0m-697 9h0m0 3h0m1-5h0m0 2h0m0-5h0m0 10h0m1-10h0m0 1h0m0 6h0m0 1h0m1 1h0m0-6h0m0 4h0m0-5h0m1-1h0m684 9h0m0-10h0m2 5h0m0-5h0m1 11h0m1-9h0m-691 16h0m0-6h0m0 9h0m1-4h0m0-1h0m1 4h0m0-6h0m1 5h0m0-2h0m0 3h0m0-7h0m1 7h0m2 1h0m2-1h0m2 0h0m3 0h0m1 0h0m1 1h0m3-1h0m2 1h0m4-1h0m5 0h0m3 1h0m3 0h0m1 0h0m2-1h0m3 1h0m3 0h0m2-1h0m1 0h0m2 1h0m3 0h0m4-1h0m3 0h0m2 0h0m2 0h0m2 0h0m3 1h0m3-1h0m2 1h0m5 0h0m3-1h0m3 0h0m3 0h0m3 1h0m1 0h0m6 0h0m3-1h0m2 0h0m2 0h0m2 0h0m2 1h0m2-1h0m2 0h0m3 0h0m2 1h0m5-1h0m4 1h0m3 0h0m1 0h0m3-1h0m2 1h0m1 0h0m2 0h0m2 0h0m1-1h0m3 0h0m4 0h0m3 0h0m4 1h0m2-1h0m5 1h0m2 0h0m3-1h0m2 1h0m1 0h0m2-1h0m3 0h0m2 1h0m2 0h0m1-1h0m3 1h0m0-1h0m2-1h0m2 2h0m2 0h0m3-1h0m2 0h0m4 0h0m1 0h0m2 1h0m3 0h0m2 0h0m2-1h0m4 0h0m2 0h0m1 0h0m3 0h0m8 0h0m2 1h0m1-1h0m3 1h0m1 0h0m4 0h0m1 0h0m3-1h0m0 1h0m3-1h0m2 1h0m1-1h0m6 1h0m2-1h0m1 1h0m2-1h0m3 0h0m1-1h0m1 2h0m3 0h0m3-1h0m1 0h0m4 1h0m3-1h0m1 1h0m2-1h0m2 0h0m1 1h0m2 0h0m4-1h0m1 0h0m3 1h0m2-1h0m1 0h0m1 1h0m3 0h0m8-1h0m2-1h0m1 2h0m2-1h0m2 0h0m3 1h0m2 0h0m2-1h0m10 0h0m3 0h0m2 0h0m3 0h0m3 1h0m3 0h0m6-1h0m4 0h0m3 0h0m2 1h0m3-1h0m1 0h0m3 0h0m2 0h0m2 1h0m2-1h0m4 0h0m3 1h0m1 0h0m2-1h0m2 0h0m4 0h0m3 0h0m4 1h0m5-1h0m3 0h0m0 1h0m2-1h0m3 0h0m1 1h0m3 0h0m4-1h0m2 0h0m1 0h0m4 1h0m8 0h0m5 0h0m3-1h0m1 0h0m6 1h0m4-1h0m1 1h0m2 0h0m2 0h0m3 0h0m4 0h0m4-1h0m3 0h0m2 1h0m2-1h0m2 1h0m3-1h0m1 1h0m2-1h0m5 0h0m2 1h0m1 0h0m3-1h0m1-1h0m4 2h0m4 0h0m2-1h0m4 0h0m6 1h0m5-1h0m2 0h0m2 1h0m3-1h0m3 0h0m1 1h0m3 0h0m2 0h0m3-1h0m3 1h0m1-1h0m2 1h0m4-1h0m6 1h0m3 0h0m2 0h0m2-1h0m1 1h0m3-1h0m3 0h0m6 0h0m1 1h0m5 0h0m3 0h0m2 0h0m1 0h0m4-1h0m3 1h0m1 0h0m3-1h0m5 0h0m2 0h0m4 0h0m3 0h0m4 0h0m2 0h0m2 0h0m1 0h0m5 1h0m1-1h0m4 1h0m2 0h0m3-1h0m3 1h0m1 0h0m4-1h0m1 0h0m3 1h0m2 0h0m5 0h0m8-1h0m3 0h0m2 0h0m2 0h0m2 1h0m1-1h0m3 0h0m2 1h0m2-1h0m3 1h0m1-6h0m1 6h0m1 0h0m0-4h0m1 4h0m1-2h0m3-2h0m1 2h0" stroke="#000" stroke-width="7.3" stroke-linecap="round" fill="none"/>
<path d="M937.6 413.5L1653.2 407.7" stroke="#f4bf22" stroke-width="3.6" fill="none"/>
<path d="M942 375.7C944.3 378.2 951.4 385.5 956.1 390.7C960.8 395.9 964.5 400.7 970.2 406.8C975.9 412.8 983.6 421.5 990.2 426.9C996.9 432.2 1003.6 435.8 1010.3 438.9C1017 442.1 1023.6 444.1 1030.3 446C1037.1 447.8 1043.9 449 1050.6 450C1057.3 451 1060.6 452 1070.7 452C1080.7 452 1094 450.8 1110.7 450C1127.5 449.1 1151.5 447.4 1171.1 447C1190.7 446.5 1208.6 447 1228.4 447.3C1248.2 447.5 1271.7 447.8 1290.1 448.5C1308.4 449.2 1323.1 450.9 1338.5 451.6C1354 452.4 1367.9 452.8 1382.6 453.1C1397.3 453.3 1412 453.6 1426.7 453.1C1441.3 452.6 1456 451.5 1470.7 450.2C1485.4 448.9 1500.1 447.3 1514.8 445.4C1529.5 443.4 1544.2 440.9 1558.8 438.6C1573.5 436.3 1589.7 433.2 1602.9 431.4C1616.1 429.5 1632.3 428.2 1638.1 427.5" stroke="#f20c0c" stroke-width="7.0" fill="none" stroke-linecap="round" stroke-linejoin="round"/>
<g font-family="'Liberation Serif', 'Times New Roman', serif" font-weight="bold" fill="#000">
<text x="1526" y="68" font-size="46" text-anchor="middle">A03</text>
<text x="1615.5" y="595.9" font-size="48" text-anchor="end">Distance (Mb)</text>
<text transform="translate(883 559) rotate(-90)" font-size="48">Correlation coefficient (r<tspan font-size="29.8" dy="-17.3">2</tspan><tspan dy="17.3">)</tspan></text>
</g>
</g>
<g>
<rect x="1771.4" y="4.6" width="711.6" height="492.4" fill="#fff" stroke="#b2b2b2" stroke-width="1.35"/>
<path d="M1775.2 497v6.2M1788 497v4.3M1800.8 497v4.3M1813.6 497v4.3M1826.4 497v4.3M1839.2 497v6.2M1852 497v4.3M1864.8 497v4.3M1877.6 497v4.3M1890.4 497v4.3M1903.2 497v6.2M1916 497v4.3M1928.8 497v4.3M1941.5 497v4.3M1954.3 497v4.3M1967.1 497v6.2M1979.9 497v4.3M1992.7 497v4.3M2005.5 497v4.3M2018.3 497v4.3M2031.1 497v6.2M2043.9 497v4.3M2056.7 497v4.3M2069.5 497v4.3M2082.3 497v4.3M2095.1 497v6.2M2107.9 497v4.3M2120.7 497v4.3M2133.5 497v4.3M2146.3 497v4.3M2159.1 497v6.2M2171.9 497v4.3M2184.7 497v4.3M2197.5 497v4.3M2210.3 497v4.3M2223.1 497v6.2M2235.9 497v4.3M2248.7 497v4.3M2261.4 497v4.3M2274.2 497v4.3M2287 497v6.2M2299.8 497v4.3M2312.6 497v4.3M2325.4 497v4.3M2338.2 497v4.3M2351 497v6.2M2363.8 497v4.3M2376.6 497v4.3M2389.4 497v4.3M2402.2 497v4.3M2415 497v6.2M2427.8 497v4.3M2440.6 497v4.3M2453.4 497v4.3M2466.2 497v4.3M2479 497v6.2M1771.4 491.5h-5M1771.4 443.3h-5M1771.4 395.2h-5M1771.4 347h-5M1771.4 298.8h-5M1771.4 250.7h-5M1771.4 202.5h-5M1771.4 154.3h-5M1771.4 106.1h-5M1771.4 58h-5M1771.4 9.8h-5" stroke="#a2a2a2" stroke-width="1.35" fill="none"/>
<path d="M1771.4 486.7h-2.4M1771.4 481.9h-2.4M1771.4 477h-2.4M1771.4 472.2h-2.4M1771.4 467.4h-2.4M1771.4 462.6h-2.4M1771.4 457.8h-2.4M1771.4 453h-2.4M1771.4 448.1h-2.4M1771.4 438.5h-2.4M1771.4 433.7h-2.4M1771.4 428.9h-2.4M1771.4 424.1h-2.4M1771.4 419.2h-2.4M1771.4 414.4h-2.4M1771.4 409.6h-2.4M1771.4 404.8h-2.4M1771.4 400h-2.4M1771.4 390.3h-2.4M1771.4 385.5h-2.4M1771.4 380.7h-2.4M1771.4 375.9h-2.4M1771.4 371.1h-2.4M1771.4 366.3h-2.4M1771.4 361.4h-2.4M1771.4 356.6h-2.4M1771.4 351.8h-2.4M1771.4 342.2h-2.4M1771.4 337.4h-2.4M1771.4 332.5h-2.4M1771.4 327.7h-2.4M1771.4 322.9h-2.4M1771.4 318.1h-2.4M1771.4 313.3h-2.4M1771.4 308.5h-2.4M1771.4 303.6h-2.4M1771.4 294h-2.4M1771.4 289.2h-2.4M1771.4 284.4h-2.4M1771.4 279.6h-2.4M1771.4 274.7h-2.4M1771.4 269.9h-2.4M1771.4 265.1h-2.4M1771.4 260.3h-2.4M1771.4 255.5h-2.4M1771.4 245.8h-2.4M1771.4 241h-2.4M1771.4 236.2h-2.4M1771.4 231.4h-2.4M1771.4 226.6h-2.4M1771.4 221.7h-2.4M1771.4 216.9h-2.4M1771.4 212.1h-2.4M1771.4 207.3h-2.4M1771.4 197.7h-2.4M1771.4 192.8h-2.4M1771.4 188h-2.4M1771.4 183.2h-2.4M1771.4 178.4h-2.4M1771.4 173.6h-2.4M1771.4 168.8h-2.4M1771.4 163.9h-2.4M1771.4 159.1h-2.4M1771.4 149.5h-2.4M1771.4 144.7h-2.4M1771.4 139.9h-2.4M1771.4 135h-2.4M1771.4 130.2h-2.4M1771.4 125.4h-2.4M1771.4 120.6h-2.4M1771.4 115.8h-2.4M1771.4 111h-2.4M1771.4 101.3h-2.4M1771.4 96.5h-2.4M1771.4 91.7h-2.4M1771.4 86.9h-2.4M1771.4 82.1h-2.4M1771.4 77.2h-2.4M1771.4 72.4h-2.4M1771.4 67.6h-2.4M1771.4 62.8h-2.4M1771.4 53.2h-2.4M1771.4 48.3h-2.4M1771.4 43.5h-2.4M1771.4 38.7h-2.4M1771.4 33.9h-2.4M1771.4 29.1h-2.4M1771.4 24.3h-2.4M1771.4 19.4h-2.4M1771.4 14.6h-2.4" stroke="#b9b9b9" stroke-width="1.1" fill="none"/>
<g font-family="'Liberation Sans', Arial, sans-serif" font-size="12.6" fill="#3a3a3a" stroke="#3a3a3a" stroke-width="0.45">
<g text-anchor="middle">
<text transform="translate(1775.2 519.4) scale(0.9 1)">0</text>
<text transform="translate(1839.2 519.4) scale(0.9 1)">2.00</text>
<text transform="translate(1903.2 519.4) scale(0.9 1)">4.00</text>
<text transform="translate(1967.1 519.4) scale(0.9 1)">6.00</text>
<text transform="translate(2031.1 519.4) scale(0.9 1)">8.00</text>
<text transform="translate(2095.1 519.4) scale(0.9 1)">10.0</text>
<text transform="translate(2159.1 519.4) scale(0.9 1)">12.0</text>
<text transform="translate(2223.1 519.4) scale(0.9 1)">14.0</text>
<text transform="translate(2287 519.4) scale(0.9 1)">16.0</text>
<text transform="translate(2351 519.4) scale(0.9 1)">18.0</text>
<text transform="translate(2415 519.4) scale(0.9 1)">20.0</text>
<text transform="translate(2479 519.4) scale(0.9 1)">22.0</text>
</g><g text-anchor="end">
<text transform="translate(1763.4 495.9) scale(0.9 1)">0.0</text>
<text transform="translate(1763.4 447.7) scale(0.9 1)">0.1</text>
<text transform="translate(1763.4 399.6) scale(0.9 1)">0.2</text>
<text transform="translate(1763.4 351.4) scale(0.9 1)">0.3</text>
<text transform="translate(1763.4 303.2) scale(0.9 1)">0.4</text>
<text transform="translate(1763.4 255.1) scale(0.9 1)">0.5</text>
<text transform="translate(1763.4 206.9) scale(0.9 1)">0.6</text>
<text transform="translate(1763.4 158.7) scale(0.9 1)">0.7</text>
<text transform="translate(1763.4 110.5) scale(0.9 1)">0.8</text>
<text transform="translate(1763.4 62.4) scale(0.9 1)">0.9</text>
<text transform="translate(1763.4 14.2) scale(0.9 1)">1.0</text>
</g></g>
<path d="M1775.9 52.6h3M1775.9 54.6h3M1775.9 56.6h3M1775.9 58.6h3M1775.9 60.6h3M1775.9 62.6h3M1775.9 64.6h3M1775.9 66.6h3M1775.9 68.6h3M1775.9 70.6h3M1775.9 72.6h3M1775.9 74.6h3M1775.9 76.6h3M1775.9 78.6h3M1775.9 80.6h3M1775.9 82.6h3M1775.9 84.6h3M1775.9 86.6h3M1775.9 88.6h5M1775.9 90.6h5M1775.9 92.6h5M1775.9 94.6h5M1775.9 96.6h5M1775.9 98.6h5M1775.9 100.6h5M1775.9 102.6h5M1775.9 104.6h5M1775.9 106.6h5M1775.9 108.6h5M1775.9 110.6h5M1775.9 112.6h5M1775.9 114.6h5M1775.9 116.6h5M1775.9 118.6h5M1775.9 120.6h5M1775.9 122.6h5M1775.9 124.6h5M1775.9 126.6h5M1775.9 128.6h5M1775.9 130.6h5M1775.9 132.6h5M1775.9 134.6h5M1775.9 136.6h7M1775.9 138.6h7M1775.9 140.6h7M1775.9 142.6h7M1775.9 144.6h7M1775.9 146.6h7M1775.9 148.6h7M1775.9 150.6h7M1775.9 152.6h7M1775.9 154.6h7M1775.9 156.6h7M1775.9 158.6h7M1775.9 160.6h7M1775.9 162.6h7M1775.9 164.6h7M1775.9 166.6h7M1775.9 168.6h7M1775.9 170.6h9M1775.9 172.6h9M1775.9 174.6h9M1775.9 176.6h9M1775.9 178.6h9M1775.9 180.6h9M1775.9 182.6h9M1775.9 184.6h9M1775.9 186.6h9M1775.9 188.6h9M1775.9 190.6h9M1775.9 192.6h11M1775.9 194.6h11M1775.9 196.6h11M1775.9 198.6h11M1775.9 200.6h11M1775.9 202.6h11M1775.9 204.6h11M1775.9 206.6h11M1775.9 208.6h11M1775.9 210.6h11M1775.9 212.6h11M1775.9 214.6h13M1775.9 216.6h13M1775.9 218.6h13M1775.9 220.6h13M1775.9 222.6h13M1775.9 224.6h13M1775.9 226.6h13M1775.9 228.6h13M1775.9 230.6h13M1775.9 232.6h13M1775.9 234.6h13M1775.9 236.6h13M1775.9 238.6h15M1775.9 240.6h15M1775.9 242.6h15M1775.9 244.6h15M1775.9 246.6h15M1775.9 248.6h15M1775.9 250.6h15M1775.9 252.6h15M1775.9 254.6h15M1775.9 256.6h15M1775.9 258.6h17M1775.9 260.6h17M1775.9 262.6h17M1775.9 264.6h17M1775.9 266.6h17M1775.9 268.6h17M1775.9 270.6h17M1775.9 272.6h19M1775.9 274.6h19M1775.9 276.6h19M1775.9 278.6h19M1775.9 280.6h19M1775.9 282.6h19M1775.9 284.6h19M1775.9 286.6h21M1775.9 288.6h21M1775.9 290.6h21M1775.9 292.6h21M1775.9 294.6h21M1775.9 296.6h21M1775.9 298.6h23M1775.9 300.6h23M1775.9 302.6h23M1775.9 304.6h23M1775.9 306.6h23M1775.9 308.6h23M1775.9 310.6h25M1775.9 312.6h25M1775.9 314.6h25M1775.9 316.6h27M1775.9 318.6h27M1775.9 320.6h27M1775.9 322.6h27M1775.9 324.6h29M1775.9 326.6h29M1775.9 328.6h29M1775.9 330.6h31M1775.9 332.6h31M1775.9 334.6h31M1775.9 336.6h31M1775.9 338.6h33M1775.9 340.6h33M1775.9 342.6h33M1775.9 344.6h33M1775.9 346.6h35M1775.9 348.6h35M1775.9 350.6h35M1775.9 352.6h35M1775.9 354.6h35M1775.9 356.6h37M1823.9 356.6h3M1775.9 358.6h37M1823.9 358.6h3M1775.9 360.6h37M1823.9 360.6h3M1775.9 362.6h37M1823.9 362.6h3M1775.9 364.6h39M1823.9 364.6h3M1869.9 364.6h3M1775.9 366.6h39M1821.9 366.6h7M1867.9 366.6h5M1775.9 368.6h39M1821.9 368.6h7M1867.9 368.6h5M1775.9 370.6h39M1821.9 370.6h7M1867.9 370.6h5M1775.9 372.6h41M1821.9 372.6h7M1867.9 372.6h5M1775.9 374.6h43M1819.9 374.6h9M1867.9 374.6h7M1775.9 376.6h53M1867.9 376.6h7M1901.9 376.6h5M1775.9 378.6h53M1867.9 378.6h7M1901.9 378.6h5M1775.9 380.6h53M1865.9 380.6h9M1899.9 380.6h7M1775.9 382.6h53M1865.9 382.6h11M1897.9 382.6h11M1919.9 382.6h3M1775.9 384.6h53M1865.9 384.6h11M1897.9 384.6h11M1919.9 384.6h3M1775.9 386.6h55M1865.9 386.6h11M1881.9 386.6h3M1895.9 386.6h13M1919.9 386.6h5M1775.9 388.6h55M1865.9 388.6h13M1879.9 388.6h5M1895.9 388.6h13M1919.9 388.6h5M1775.9 390.6h55M1865.9 390.6h21M1893.9 390.6h17M1917.9 390.6h7M1775.9 392.6h55M1847.9 392.6h3M1865.9 392.6h21M1893.9 392.6h17M1917.9 392.6h7M1775.9 394.6h55M1847.9 394.6h5M1863.9 394.6h25M1891.9 394.6h19M1917.9 394.6h9M1775.9 396.6h55M1847.9 396.6h5M1863.9 396.6h49M1915.9 396.6h11M1775.9 398.6h57M1845.9 398.6h7M1863.9 398.6h63M1775.9 400.6h57M1845.9 400.6h9M1863.9 400.6h65M1775.9 402.6h59M1845.9 402.6h9M1861.9 402.6h67M1775.9 404.6h61M1843.9 404.6h13M1859.9 404.6h69M1775.9 406.6h63M1841.9 406.6h89M1775.9 408.6h155M1775.9 410.6h157M1775.9 412.6h159M1775.9 414.6h161M1943.9 414.6h7M1775.9 416.6h177M1775.9 418.6h179M1775.9 420.6h181M2307.9 420.6h5M1775.9 422.6h181M2307.9 422.6h5M1775.9 424.6h183M2305.9 424.6h9M2325.9 424.6h5M1775.9 426.6h185M1977.9 426.6h3M2303.9 426.6h13M2323.9 426.6h9M1775.9 428.6h187M1969.9 428.6h15M1989.9 428.6h5M2289.9 428.6h7M2299.9 428.6h21M2321.9 428.6h11M1775.9 430.6h191M1967.9 430.6h29M2287.9 430.6h47M1775.9 432.6h221M2285.9 432.6h51M1775.9 434.6h223M2283.9 434.6h55M1775.9 436.6h231M2281.9 436.6h59M2413.9 436.6h3M2425.9 436.6h5M1775.9 438.6h235M2281.9 438.6h65M2397.9 438.6h35M1775.9 440.6h239M2279.9 440.6h71M2393.9 440.6h39M1775.9 442.6h245M2277.9 442.6h155M1775.9 444.6h253M2277.9 444.6h155M1775.9 446.6h261M2275.9 446.6h157M1775.9 448.6h271M2273.9 448.6h161M1775.9 450.6h279M2271.9 450.6h163M1775.9 452.6h321M2157.9 452.6h35M2263.9 452.6h171M1775.9 454.6h347M2131.9 454.6h87M2255.9 454.6h179M1775.9 456.6h659M1775.9 458.6h659M1775.9 460.6h661M1775.9 462.6h661M1775.9 464.6h661M1775.9 466.6h661M1775.9 468.6h661M1775.9 470.6h661" stroke="#000" stroke-width="3.4" fill="none"/>
<path d="M0 0m1775 10h0m3 0h0m4 0h0m-3 9h0m-4 14h0m666-5h0m-665 14h0m0 1h0m0 4h0m1 0h0m0-2h0m1-2h0m1-7h0m0 3h0m1 0h0m379 7h0m-384 13h0m1-5h0m0-1h0m0-2h0m0 6h0m1-8h0m1 4h0m0-3h0m0 8h0m0-2h0m0-2h0m12-5h0m-15 18h0m0 2h0m0-8h0m0 1h0m1-1h0m0 3h0m0 7h0m1-3h0m1-3h0m0-2h0m0 4h0m0 3h0m0-9h0m1 6h0m1-2h0m414-2h0m5 5h0m-424 11h0m0 2h0m0-8h0m0 4h0m1-3h0m1 4h0m0-4h0m0 9h0m1-10h0m0 7h0m0-4h0m1 0h0m1 2h0m2-3h0m2 0h0m194 6h0m15 0h0m166-4h0m83-2h0m-467 15h0m0-6h0m0 10h0m0-5h0m1 3h0m0 4h0m0-8h0m0 5h0m1 0h0m0-5h0m0 3h0m1 3h0m0-8h0m0 3h0m2-4h0m1 8h0m0-3h0m1 3h0m0-3h0m0 4h0m2-9h0m4 2h0m-13 15h0m1 5h0m0-5h0m0 3h0m0-7h0m0 1h0m1 1h0m1-4h0m0 9h0m0-2h0m0-5h0m0 9h0m4-4h0m5 1h0m-12 13h0m0-7h0m0 4h0m0-2h0m0 1h0m0 5h0m1-8h0m0-1h0m0 5h0m1 0h0m0 3h0m1-6h0m0-2h0m0 9h0m0-6h0m3 1h0m0-2h0m1 6h0m0-3h0m0 6h0m0-12h0m1 10h0m1-1h0m2-4h0m2 3h0m65-7h0m4 0h0m343 5h0m-425 7h0m0 2h0m0 8h0m0-5h0m0 2h0m0-4h0m1 0h0m1 3h0m0 3h0m1-10h0m0 12h0m0-4h0m0-3h0m0-2h0m3 8h0m1-6h0m1 3h0m3 4h0m38-5h0m466 0h0m-515 12h0m0-4h0m1 8h0m0-5h0m0-6h0m0 4h0m1 7h0m1-7h0m0 2h0m0 3h0m0-7h0m4-1h0m1-1h0m1 9h0m0-1h0m1-1h0m0-7h0m1 9h0m1 0h0m63-8h0m3 0h0m172 4h0m13 0h0m104 1h0m14 0h0m39-5h0m-419 21h0m0-4h0m0 1h0m0-4h0m0 1h0m0-2h0m1 0h0m1 9h0m0-2h0m0-3h0m0-5h0m0 4h0m5-5h0m0 9h0m3 2h0m1-9h0m8-1h0m-20 17h0m0-4h0m0 9h0m1-6h0m0-2h0m0 1h0m1-2h0m1 4h0m0 3h0m0 3h0m0-8h0m0-3h0m5 1h0m1 2h0m0 7h0m1-3h0m1-4h0m2 0h0m19 6h0m72-9h0m15 1h0m528 4h0m-647 9h0m0 7h0m0-8h0m0 3h0m1-4h0m0 10h0m2 1h0m0-6h0m0 2h0m0-7h0m0 2h0m0 2h0m8 1h0m3 2h0m5-5h0m4-2h0m7 8h0m58-1h0m126-7h0m192 0h0m14 7h0m109-1h0m-529 8h0m0 8h0m0-3h0m0-8h0m1 1h0m0 3h0m0 6h0m0-4h0m0-4h0m0 6h0m1-2h0m1 4h0m0-8h0m0 5h0m0 5h0m0-4h0m6 3h0m1-1h0m0-2h0m4 2h0m2-6h0m0 7h0m1-8h0m0-1h0m1 0h0m1 9h0m9-6h0m270-2h0m14-2h0m211 0h0m47 5h0m-570 8h0m0 3h0m0 1h0m0 5h0m0 1h0m0-11h0m1 8h0m0-2h0m1 1h0m1 2h0m0-7h0m0 4h0m0-3h0m8 4h0m1 1h0m1 3h0m1-4h0m1-1h0m0-1h0m1 3h0m15-1h0m39 3h0m73-6h0m202 0h0m71 0h0m-416 17h0m0-8h0m0 4h0m1 6h0m0-8h0m1 0h0m1 5h0m0-8h0m0 6h0m0-4h0m0 9h0m10-8h0m0-3h0m1 5h0m0 6h0m1-3h0m0 1h0m3-4h0m0-3h0m21 7h0m44-6h0m117 7h0m14-2h0m180 1h0m13 0h0m4-6h0m130 6h0m-541 9h0m0-3h0m0 5h0m0 1h0m1-4h0m0-4h0m0 5h0m2-3h0m0-3h0m0 5h0m0-3h0m0 5h0m0 2h0m14 0h0m1-7h0m1 0h0m2 0h0m171 9h0m199-10h0m137 9h0m81-9h0m33 9h0m5 0h0m-647 5h0m0 6h0m0-10h0m0 8h0m0 3h0m1-4h0m0-4h0m1-3h0m1 2h0m0 6h0m0 3h0m0-7h0m0 2h0m12-5h0m0 2h0m1 4h0m2-5h0m1-2h0m1 3h0m0-1h0m2 0h0m0-1h0m4 4h0m2 5h0m1 0h0m2-7h0m9-1h0m23 3h0m81 5h0m209-3h0m14-2h0m88 2h0m72-6h0m-527 14h0m0 4h0m0-5h0m0 3h0m1 5h0m0-2h0m0 4h0m0-6h0m0-2h0m1-3h0m1 10h0m0-9h0m0 6h0m0-2h0m0-2h0m13 7h0m0-7h0m1 5h0m0-2h0m0-3h0m1 4h0m37-1h0m47 1h0m22 0h0m219-6h0m41 2h0m155 2h0m50 2h0m49-4h0m-638 13h0m0 2h0m0 4h0m0-1h0m1-2h0m0-6h0m0 7h0m1-7h0m1 5h0m0 2h0m0-4h0m0-5h0m0 11h0m14-10h0m3-1h0m1 0h0m0 11h0m1-1h0m1 0h0m0-8h0m1 2h0m1 6h0m1-9h0m0 2h0m7 0h0m40 1h0m4 2h0m5 1h0m136-5h0m49 3h0m125 3h0m11 4h0m14-7h0m22-1h0m84 1h0m8-3h0m79 5h0m29 5h0m2-11h0m11 9h0m-652 13h0m0-10h0m0 5h0m0 2h0m0 4h0m1-1h0m0-7h0m0-1h0m0 5h0m0 2h0m1-9h0m1 5h0m0 2h0m0-5h0m0 7h0m0-6h0m15 1h0m1-5h0m1 1h0m0 1h0m1 3h0m3-2h0m1 6h0m4-7h0m1 6h0m1 2h0m7-2h0m17-1h0m10-1h0m112 0h0m12 0h0m72 1h0m63-4h0m20-2h0m42 2h0m1 9h0m23 0h0m131-1h0m3-7h0m-544 12h0m1-2h0m0 7h0m0 3h0m0-1h0m1-4h0m0 1h0m1 2h0m0-9h0m0 2h0m0 1h0m19-2h0m1 4h0m1-5h0m1 11h0m2-1h0m1 0h0m1 1h0m3-7h0m4-1h0m0 3h0m8-3h0m6 3h0m32-6h0m6 6h0m6 4h0m26-1h0m228-4h0m39 3h0m13 3h0m6-7h0m146 2h0m101-1h0m16 0h0m-669 12h0m0-4h0m0 1h0m0 5h0m0 3h0m1-5h0m0-1h0m0 4h0m1 1h0m1-6h0m0 5h0m0-6h0m0 4h0m0-6h0m20 3h0m0-1h0m2 8h0m4 1h0m0-10h0m1 7h0m1-3h0m1 5h0m1-4h0m1-1h0m0-2h0m1 6h0m0-4h0m4-3h0m6 2h0m4-2h0m1 8h0m1-8h0m13 1h0m2 1h0m62 1h0m84-3h0m92 6h0m5 3h0m9-8h0m11 0h0m57 0h0m23-2h0m5 4h0m4 3h0m22 0h0m32 1h0m43 0h0m1-4h0m10 0h0m119-1h0m-645 18h0m0-2h0m0-2h0m1-1h0m0 2h0m0-6h0m0 2h0m2-3h0m0 3h0m0 5h0m0-3h0m0-4h0m0 9h0m21-2h0m1-7h0m3 9h0m1-7h0m1 6h0m0-2h0m0-2h0m2-1h0m1 4h0m0-4h0m0-3h0m3 0h0m1-2h0m2 6h0m3 4h0m0-8h0m3 2h0m2-4h0m6 4h0m0 5h0m5-2h0m36-2h0m3 4h0m34-1h0m66-4h0m17 2h0m63-2h0m6-1h0m19 9h0m16-11h0m3 2h0m23 2h0m29 2h0m3 5h0m28-6h0m7 3h0m109 3h0m14 0h0m3-3h0m21 2h0m13-7h0m102 2h0m-673 8h0m0 1h0m0 6h0m0-8h0m0 9h0m1-5h0m0 1h0m0 5h0m1-3h0m1-5h0m0 7h0m0 2h0m0-11h0m0 6h0m0-3h0m23-1h0m3-3h0m0 5h0m1 1h0m0-4h0m0 2h0m0 7h0m1-8h0m0 4h0m0-6h0m1 2h0m0 8h0m1 1h0m0-7h0m1-1h0m1 4h0m5 0h0m2 1h0m3-3h0m3-1h0m1-3h0m0 6h0m1-2h0m4 4h0m1-5h0m20-1h0m3 3h0m6 0h0m6-3h0m7 6h0m0-7h0m4-1h0m23-1h0m5 7h0m7 4h0m6-11h0m14 3h0m44 8h0m3-10h0m32 6h0m30-7h0m119 4h0m1-5h0m28 3h0m16 7h0m92-7h0m25 7h0m12-8h0m122 2h0m-680 18h0m0-9h0m1 6h0m0 3h0m1-4h0m1 5h0m0-8h0m0 6h0m0-4h0m28-3h0m0 1h0m1 2h0m2 5h0m1 1h0m2-9h0m3 6h0m0 2h0m1-10h0m1 5h0m2 3h0m2 2h0m4-2h0m0 2h0m1-2h0m2 1h0m0-3h0m2-2h0m2 5h0m0-4h0m2 0h0m22 5h0m12 1h0m2-2h0m1-6h0m1 4h0m2 2h0m0-2h0m1-3h0m1 6h0m1 2h0m31-8h0m7-2h0m4 7h0m0 3h0m82-4h0m77-4h0m101 4h0m102-3h0m13 3h0m43-1h0m89 4h0m5-2h0m1-2h0m-657 13h0m0-3h0m0 6h0m1-8h0m0-1h0m0 5h0m0-6h0m2 0h0m0 3h0m0 3h0m0 2h0m0-7h0m0 9h0m31-7h0m1 3h0m3 0h0m3 5h0m0-3h0m1-9h0m3 5h0m0-3h0m3 7h0m0-3h0m1-5h0m1 7h0m0 3h0m1-1h0m4-8h0m0 7h0m2 0h0m2-4h0m2 7h0m6-8h0m3 7h0m3-4h0m5-6h0m2 9h0m8-4h0m4-4h0m0 8h0m1-2h0m5-8h0m0 4h0m0-1h0m0 7h0m9-4h0m3 0h0m6-6h0m1 7h0m10-4h0m2 7h0m1-1h0m1-5h0m13-3h0m50 0h0m25 7h0m16-4h0m5 8h0m12-9h0m42-3h0m17 3h0m56 1h0m103-1h0m63-1h0m0 8h0m1 2h0m23-10h0m-557 15h0m0-3h0m0 2h0m0 6h0m1 0h0m0-2h0m0-1h0m0 2h0m0-8h0m1 0h0m0 11h0m1-2h0m0-8h0m0 6h0m0-2h0m0-2h0m35 8h0m0-11h0m1 3h0m0-2h0m3 6h0m1 0h0m0-5h0m3 6h0m0-8h0m1 9h0m0-4h0m1-2h0m1 1h0m0-1h0m0-4h0m4 12h0m1-5h0m1 5h0m2-1h0m0-8h0m0 6h0m1-4h0m11-4h0m1 11h0m3-12h0m0 4h0m2 2h0m5 1h0m1 2h0m12 2h0m1-8h0m0 1h0m1-2h0m2 3h0m0-1h0m1 4h0m4 3h0m1-1h0m1-3h0m2 5h0m3-9h0m4 2h0m2 6h0m1-9h0m7 4h0m3-4h0m4-1h0m5 6h0m3-2h0m0 4h0m2-4h0m5 6h0m1-8h0m1 3h0m1 1h0m1 4h0m5-8h0m32-2h0m14 7h0m5-1h0m48-3h0m5-3h0m7 6h0m2 1h0m20-3h0m10 4h0m14-8h0m52 3h0m9 1h0m9 5h0m0-6h0m0 7h0m49-4h0m30 1h0m5 3h0m14-4h0m19-4h0m18 0h0m12 0h0m3 6h0m8-2h0m1 1h0m0-2h0m3 3h0m4-1h0m8 2h0m10-4h0m7 5h0m2-1h0m66 2h0m17-4h0m-657 5h0m0 6h0m0 3h0m1-5h0m1 2h0m1 5h0m0-2h0m0-5h0m0 4h0m0-7h0m35 0h0m2 0h0m1-1h0m1 10h0m0-9h0m1 7h0m2-4h0m1 0h0m0 7h0m6-7h0m0-4h0m1 4h0m0-4h0m0 1h0m2 3h0m0 7h0m0-8h0m4 4h0m1 0h0m1 1h0m2-1h0m3-2h0m1 3h0m1-8h0m2 7h0m8 1h0m1-7h0m0 8h0m2-5h0m2 5h0m1-6h0m2 8h0m2 0h0m0-2h0m1-5h0m0 5h0m2 1h0m2-1h0m0-9h0m0 11h0m2-11h0m1-1h0m3 3h0m0 6h0m0-5h0m1 8h0m5-5h0m1 5h0m0-1h0m1-5h0m2-1h0m2 0h0m1-2h0m2 7h0m2 2h0m3-11h0m2 6h0m3 4h0m0-9h0m0 7h0m2-8h0m1 6h0m1 1h0m0 3h0m0-1h0m1-6h0m2-3h0m1 10h0m3-11h0m0 5h0m1 3h0m2-7h0m4 7h0m0 3h0m1-6h0m4 1h0m0 2h0m1 4h0m0-7h0m0 1h0m4-5h0m1 4h0m1 5h0m9-1h0m2-8h0m1 2h0m42 0h0m1 5h0m3-3h0m14 1h0m2 2h0m9-7h0m1 9h0m6-1h0m1 2h0m11-5h0m3-4h0m23 9h0m2-7h0m3 3h0m11-1h0m3 4h0m0-2h0m13-2h0m3 3h0m7-8h0m10-1h0m47 8h0m7 1h0m5-3h0m21 0h0m19 2h0m5-4h0m1 1h0m30 0h0m36 3h0m10 1h0m13 1h0m10 0h0m23-4h0m4 4h0m5-3h0m60 5h0m13-3h0m-643 5h0m0-1h0m1 7h0m0 3h0m0-8h0m0 3h0m1 2h0m1-6h0m0 9h0m0-5h0m0-1h0m51 2h0m0-6h0m2 0h0m3 7h0m1 3h0m6 1h0m2-2h0m6-5h0m2-1h0m0 1h0m2-4h0m2 2h0m1 6h0m1 2h0m2 0h0m0-1h0m1-7h0m0 3h0m1 4h0m1-3h0m0-5h0m0 7h0m0-1h0m1-2h0m1 4h0m1-7h0m1 1h0m0-2h0m10-1h0m0 4h0m0-1h0m0-1h0m2 3h0m2 5h0m1-8h0m1 6h0m1-5h0m1 8h0m0-7h0m0-4h0m0 1h0m0 8h0m1 1h0m0-6h0m1 3h0m1-5h0m1 1h0m5 0h0m1-4h0m0 5h0m1-2h0m1 2h0m0-4h0m1 8h0m0-5h0m1-4h0m0 2h0m0 9h0m1-2h0m0-5h0m0-1h0m1-1h0m0 2h0m3-2h0m5 0h0m2 6h0m1 3h0m1-5h0m3-3h0m1 0h0m1 3h0m0 2h0m3-4h0m2 1h0m0 1h0m0-5h0m3 10h0m0-3h0m1-3h0m0 1h0m1-1h0m1 6h0m2-9h0m2 5h0m0-6h0m2 4h0m3-1h0m11 8h0m25-7h0m4 4h0m2 3h0m25-2h0m4-4h0m2 4h0m0-1h0m19 3h0m6-9h0m23 9h0m4-11h0m9 5h0m3 1h0m7-1h0m0-3h0m7 8h0m4-11h0m34 9h0m7-3h0m3-4h0m2 6h0m1-2h0m3 1h0m1 4h0m2-10h0m21 7h0m15 2h0m0-4h0m6 2h0m3 0h0m45-4h0m2 7h0m3 0h0m4-9h0m30 2h0m27-4h0m1 11h0m2-7h0m3 7h0m1-3h0m7-2h0m6-3h0m2-1h0m1-1h0m6 1h0m1 6h0m0-5h0m1 2h0m1 0h0m0 1h0m1 5h0m12-4h0m3 1h0m3-4h0m48-1h0m5 2h0m17 3h0m1-2h0m6-5h0m7 0h0m17 2h0m-678 17h0m0-3h0m0-4h0m0 6h0m1-3h0m0-2h0m0 7h0m0-1h0m2-8h0m0 8h0m0-5h0m0 8h0m0-6h0m0 2h0m54-5h0m2 1h0m0 5h0m1-2h0m1 5h0m1-4h0m3-1h0m1 3h0m2-1h0m1 3h0m1-3h0m1-6h0m0 9h0m0-8h0m0 5h0m2 0h0m3-3h0m0 4h0m0-5h0m2 1h0m1 4h0m1-6h0m4 2h0m0 4h0m3 3h0m1-10h0m1 9h0m0-4h0m1 2h0m0-7h0m1 5h0m0-2h0m12-3h0m2 1h0m2 0h0m3-3h0m1 2h0m0 2h0m1 0h0m1 5h0m1 0h0m0-1h0m1 3h0m1-6h0m1 4h0m1-8h0m1 2h0m0 6h0m1-3h0m14-3h0m3 0h0m0 2h0m0 6h0m0-2h0m1-5h0m0-1h0m1 7h0m0-9h0m1 11h0m0-2h0m2-10h0m0 5h0m8 4h0m2 0h0m0 1h0m1-6h0m2 4h0m1 1h0m1-8h0m0 6h0m2 3h0m0-4h0m3-2h0m3 0h0m4-4h0m22 8h0m1-6h0m4 6h0m1-3h0m3 5h0m6-2h0m1 1h0m4-4h0m1-3h0m0 5h0m1 0h0m7 4h0m3-6h0m1 0h0m20-1h0m8-3h0m0 10h0m2-2h0m0-5h0m3 7h0m15-10h0m4 8h0m4-4h0m2 0h0m4 6h0m1 0h0m1-8h0m2 2h0m1 2h0m2-1h0m3-1h0m6-2h0m3 5h0m1-4h0m10 6h0m21-3h0m6 0h0m20-5h0m5 8h0m12-3h0m4 2h0m1-9h0m13 2h0m8 2h0m6-3h0m1 7h0m2-2h0m2 2h0m16 3h0m30-5h0m1 1h0m3-1h0m2-2h0m6-2h0m13 2h0m3 3h0m4-3h0m1 4h0m7-8h0m3 12h0m0-6h0m6 0h0m6 2h0m3 3h0m3-4h0m5 1h0m0 1h0m1-7h0m1-1h0m3 0h0m1 0h0m0 9h0m1 0h0m1-6h0m0-3h0m2 6h0m0-7h0m4 10h0m1-4h0m6-2h0m4-4h0m0 1h0m1 10h0m0-3h0m2 1h0m2-9h0m5 1h0m1 4h0m1 3h0m4-1h0m39-5h0m15 2h0m4 0h0m5-3h0m2 8h0m1-8h0m1 9h0m6 0h0m11-3h0m6 2h0m-660 12h0m0-2h0m0-1h0m0 5h0m0-7h0m1 0h0m0 6h0m0-10h0m1 11h0m1-5h0m0-3h0m0-3h0m0 5h0m0 3h0m57-1h0m0-2h0m0-1h0m0-1h0m2 0h0m0 2h0m1 0h0m0-3h0m0 5h0m1 4h0m0-3h0m1-1h0m1 4h0m2-11h0m0 4h0m1 3h0m2-3h0m0-2h0m10-1h0m0 4h0m3-5h0m1 2h0m0 7h0m0-3h0m3-1h0m1 0h0m50-5h0m0 1h0m12 2h0m4 1h0m0 2h0m1-4h0m1 7h0m0-3h0m1-1h0m1 2h0m1 0h0m1 5h0m7-9h0m1 1h0m1 7h0m0-7h0m1-4h0m10 9h0m0-1h0m5-5h0m9 8h0m2-2h0m2-7h0m4-1h0m5 10h0m0-10h0m0 9h0m1-5h0m4-2h0m2 9h0m4-6h0m4 5h0m2-10h0m3 7h0m8-6h0m8-2h0m0 1h0m6 6h0m6-6h0m8 6h0m6-1h0m6 3h0m5-3h0m3 0h0m1 0h0m4 6h0m0-9h0m0 6h0m2 1h0m5-9h0m1 7h0m6 1h0m0-1h0m11-1h0m1-2h0m2 3h0m1-6h0m5 4h0m1 3h0m1-3h0m1 2h0m19 0h0m1 4h0m11-6h0m5 1h0m4-4h0m2 7h0m3-4h0m1-1h0m3-4h0m7 1h0m2-2h0m6 3h0m6 6h0m12-1h0m3-1h0m5-3h0m1-4h0m18 3h0m29 6h0m0-9h0m2 3h0m1 7h0m16-6h0m0 3h0m3 4h0m2-11h0m13 8h0m12-1h0m1-4h0m1 5h0m3 4h0m4-1h0m2-7h0m5-1h0m1 2h0m2 2h0m1 2h0m3-5h0m2-1h0m1 4h0m0 2h0m1-1h0m10-2h0m1 3h0m0-6h0m2 2h0m1 3h0m1-4h0m1-1h0m2 3h0m4 3h0m1-6h0m5 8h0m4-2h0m0-1h0m4 1h0m1-6h0m0 1h0m2 4h0m2-5h0m1 3h0m7 6h0m3-2h0m1 1h0m11-4h0m20-7h0m3 4h0m1 5h0m7-2h0m9-7h0m5 9h0m3-2h0m4-2h0m1-2h0m-657 11h0m0 8h0m1-6h0m0 4h0m0-2h0m0 1h0m0-6h0m1 4h0m0-4h0m1 8h0m0-3h0m0 6h0m0-9h0m0 8h0m156-10h0m2 3h0m4-1h0m1-3h0m0 1h0m3 6h0m0 1h0m0-6h0m3-2h0m1 0h0m2 0h0m1 4h0m1 2h0m3 2h0m0-2h0m0 3h0m1 0h0m1-1h0m2-5h0m1 3h0m2 1h0m0-4h0m3 6h0m1-8h0m0-1h0m1 9h0m1-4h0m1-2h0m0 2h0m0 3h0m2-7h0m0 6h0m1 2h0m1 1h0m0-6h0m1-1h0m1-1h0m0 3h0m8-1h0m1 2h0m0-6h0m1 0h0m1 8h0m0-1h0m2-1h0m2-2h0m0-1h0m1 5h0m1-2h0m0-6h0m3 10h0m1-6h0m0-2h0m1 7h0m2 2h0m2-1h0m0-1h0m0-4h0m2 6h0m6-10h0m2 9h0m1-5h0m0 6h0m1 0h0m1-3h0m1-2h0m1 1h0m1-4h0m3-2h0m2 9h0m1-9h0m3 3h0m3 6h0m1-8h0m1 4h0m1-2h0m0 6h0m10-9h0m3 10h0m1-6h0m7-4h0m2 4h0m2 1h0m3 5h0m2-6h0m0 4h0m2 1h0m3-3h0m2-5h0m4 2h0m3 1h0m6 6h0m4-1h0m1 2h0m3-11h0m9 4h0m0 1h0m2-2h0m5-2h0m3 8h0m7-1h0m2-2h0m0-6h0m3 7h0m1-8h0m9 3h0m8 7h0m1 1h0m2 0h0m4-9h0m1 9h0m4-4h0m1 2h0m4 1h0m1-8h0m2 3h0m0-2h0m1 5h0m0 2h0m3 0h0m1 2h0m6-1h0m3-9h0m6 4h0m0 3h0m2 3h0m6 0h0m2-1h0m2-1h0m9-2h0m4-6h0m3 2h0m0 8h0m8-9h0m13 4h0m8-4h0m0 5h0m4-3h0m2-1h0m1 7h0m1-9h0m1 0h0m1 9h0m6 0h0m3-6h0m2 3h0m3-6h0m11 5h0m6 1h0m0-6h0m1 4h0m0 2h0m2 4h0m3-6h0m2-5h0m1 8h0m1-6h0m1 4h0m1-2h0m1 5h0m0-9h0m0 6h0m4 2h0m1 3h0m1-11h0m0 1h0m1 7h0m0 1h0m0-6h0m1 5h0m1 3h0m1-7h0m3-3h0m2 6h0m1-5h0m1 4h0m1 4h0m0-8h0m0 9h0m0-7h0m1-2h0m0 3h0m1-1h0m0 1h0m2-3h0m0 8h0m1-8h0m1 7h0m2 1h0m3-8h0m2 8h0m0-2h0m2-4h0m0 5h0m0-2h0m0 3h0m4-8h0m0 7h0m0-2h0m2-2h0m0 1h0m1-6h0m1 2h0m3 7h0m0-4h0m0 5h0m0-2h0m1 0h0m4 1h0m3-2h0m3-5h0m1 8h0m1-6h0m0 6h0m1-2h0m4-8h0m0 8h0m1 0h0m6 0h0m2-6h0m1 6h0m9 2h0m0-3h0m1-3h0m6-2h0m5-1h0m11 3h0m1-5h0m2 6h0m1 2h0m2-5h0m1 7h0m0-2h0m1 2h0m2-6h0m1 7h0m1 0h0m1-7h0m1 7h0m6-6h0m4-3h0m1 9h0m0-9h0m2 2h0m4-4h0m1 2h0m1 6h0m2-1h0m1 5h0m0-8h0m1 3h0m0-2h0m1 1h0m0 5h0m0-3h0m1 0h0m1 0h0m1-4h0m1-1h0m20 3h0m-681 11h0m0 5h0m1-5h0m0-2h0m0 5h0m0 1h0m0-2h0m1 4h0m0-5h0m1-4h0m0 3h0m0 3h0m179-8h0m2 5h0m5-1h0m2-4h0m0 4h0m1 7h0m0-9h0m1 7h0m1-3h0m0 1h0m2-3h0m0-1h0m1 0h0m1 4h0m2 0h0m1-4h0m1 1h0m0 3h0m2-7h0m1 2h0m0 5h0m1 1h0m0-6h0m0 3h0m1 1h0m2-3h0m1-2h0m0 5h0m1 1h0m0-5h0m1 2h0m0-1h0m1 4h0m1 0h0m3-5h0m0 5h0m3-4h0m3 7h0m2-5h0m0 1h0m1 4h0m1 0h0m1-1h0m2-4h0m1 2h0m3-5h0m7 1h0m1 8h0m0-1h0m1 0h0m4 1h0m5 0h0m0-2h0m0-1h0m0-3h0m1 4h0m0 1h0m1-1h0m0-3h0m2-4h0m0 6h0m1 1h0m0-1h0m2 3h0m1-10h0m0 1h0m0 7h0m0-2h0m1-4h0m0 5h0m0-4h0m1 0h0m0 7h0m0-1h0m3 1h0m6-5h0m0-2h0m5-1h0m2 3h0m2-2h0m2 3h0m2 4h0m1-7h0m1 5h0m1-8h0m2 10h0m4-5h0m7 5h0m0-3h0m1-6h0m1 8h0m2 1h0m1-4h0m0-6h0m1 9h0m0-2h0m0-1h0m3-7h0m0 8h0m0-6h0m1 4h0m3 5h0m1-7h0m1 3h0m0-7h0m2 9h0m0-8h0m1 9h0m0-5h0m1 0h0m1 4h0m0-8h0m4 11h0m2 0h0m1-7h0m1-3h0m1 2h0m0 3h0m3 1h0m0-6h0m1 10h0m0-8h0m9 4h0m4-1h0m1 1h0m5 3h0m6 0h0m0-3h0m3-6h0m3 8h0m1-7h0m1 1h0m2 7h0m2-4h0m2 5h0m0-10h0m2 5h0m1-3h0m0 2h0m1-2h0m0-1h0m4 7h0m0-6h0m1 6h0m4 0h0m4-1h0m0-2h0m3-3h0m0 4h0m7-5h0m2 9h0m1-9h0m2 6h0m2 0h0m4 3h0m0-11h0m4-1h0m1 8h0m8 2h0m1-4h0m3 0h0m8 5h0m1-4h0m6 3h0m2-4h0m2 2h0m0-3h0m5-1h0m0 1h0m1 0h0m1 3h0m2-2h0m0-6h0m2 6h0m1 2h0m3-4h0m3-2h0m8 2h0m2 6h0m5 0h0m11-3h0m0 4h0m1-4h0m1-7h0m1 11h0m5-6h0m0-4h0m1-1h0m3 5h0m2 0h0m2 0h0m1 5h0m0-3h0m0-2h0m1 1h0m0-2h0m0 4h0m2-6h0m0 1h0m1 9h0m1-2h0m2-1h0m0-3h0m3 0h0m2-5h0m1 4h0m2-2h0m1-1h0m0 7h0m0-4h0m1-4h0m0 1h0m2 2h0m3-1h0m2-1h0m1 0h0m10 3h0m0 2h0m1 0h0m1-1h0m2-2h0m1 2h0m6-4h0m2 0h0m3 6h0m0-4h0m0-2h0m2 7h0m1-6h0m0 5h0m3 0h0m0-5h0m1 9h0m0-10h0m1 3h0m0 6h0m1-8h0m0 8h0m2 1h0m1-1h0m0-9h0m1 8h0m1-9h0m0 6h0m1 4h0m1-9h0m2 9h0m1 0h0m0-9h0m0 7h0m0 3h0m1-12h0m2 2h0m2 2h0m3-3h0m1 9h0m4-2h0m2-6h0m1 3h0m0-1h0m2 4h0m4-1h0m0 4h0m1-2h0m0-2h0m2-5h0m0 7h0m2 0h0m0 2h0m5-4h0m1-5h0m2 2h0m1-2h0m1 6h0m0-2h0m0 5h0m2-2h0m1 2h0m2-5h0m2 3h0m2-5h0m3 6h0m2-6h0m0 7h0m3-7h0m2 2h0m1-1h0m0 6h0m0-4h0m0-4h0m3-3h0m1 9h0m0 2h0m1 0h0m2-3h0m0-6h0m4 9h0m1 0h0m0-3h0m1-5h0m0 3h0m3 6h0m3-11h0m2 4h0m0 1h0m1 6h0m1-5h0m1 3h0m0-4h0m1-5h0m0 10h0m0-6h0m1 4h0m1 1h0m0 2h0m5-10h0m5 2h0m3 8h0m2-7h0m-676 9h0m0 5h0m0 4h0m1-10h0m0 4h0m0 3h0m1 2h0m0-3h0m1-2h0m0-2h0m0 6h0m0-8h0m221 0h0m1 3h0m1-4h0m6 2h0m3 1h0m1 4h0m1-6h0m1 4h0m2-1h0m1 1h0m1-4h0m1 2h0m1 1h0m0 4h0m2-6h0m1 5h0m1-7h0m2 9h0m1 2h0m0-8h0m1 6h0m0 1h0m0-8h0m1 1h0m1 7h0m0-4h0m1 0h0m0 4h0m1-7h0m0 3h0m0 1h0m1 3h0m1-2h0m1-7h0m3 9h0m1-9h0m0 1h0m0 8h0m1-3h0m0 2h0m1 0h0m1 2h0m0-6h0m0 1h0m1 1h0m2-3h0m1 3h0m1 3h0m0-9h0m3 5h0m2-1h0m2-3h0m1 1h0m3 1h0m1 8h0m0-3h0m0-1h0m1-6h0m1 1h0m1-3h0m2 8h0m1-8h0m2 2h0m0 1h0m1 5h0m6-3h0m2-3h0m5 2h0m1-2h0m1 8h0m1 2h0m2-7h0m1 1h0m1 5h0m0-1h0m0-3h0m1 0h0m2-3h0m1 1h0m0 6h0m1-6h0m0-2h0m4 0h0m1 0h0m1 1h0m2 5h0m2-5h0m0 7h0m4-3h0m2 0h0m1-2h0m1-1h0m0-3h0m1 7h0m2-6h0m1 9h0m0-6h0m1-5h0m5 6h0m5-1h0m1-4h0m1 2h0m1 5h0m0-8h0m1 9h0m0-7h0m0 4h0m1 1h0m2 2h0m3 2h0m0-6h0m0 2h0m1 2h0m0-5h0m1-5h0m2 6h0m1 5h0m0-5h0m2 3h0m1-6h0m1 9h0m3-11h0m2 10h0m1-6h0m1 6h0m7-7h0m0 7h0m0-4h0m2-5h0m1 4h0m1-2h0m4 4h0m1-5h0m3 6h0m3 1h0m0-7h0m2-3h0m3 7h0m1-1h0m2-4h0m0 5h0m3 4h0m0-8h0m1 9h0m1-10h0m2 6h0m2 2h0m2 1h0m4-2h0m0 1h0m1-2h0m0-2h0m1 4h0m0 1h0m1-7h0m2 2h0m0 2h0m7 0h0m1-6h0m0 2h0m7 3h0m0-1h0m1 2h0m1-6h0m1 8h0m2-7h0m1 3h0m3-1h0m0 2h0m2 2h0m4-1h0m2 3h0m1 0h0m0-7h0m0 2h0m2 2h0m3-5h0m1 0h0m0 9h0m0-10h0m1 5h0m1 1h0m0 3h0m1-6h0m1-3h0m0 9h0m0 1h0m0-8h0m4 7h0m9-9h0m2 9h0m5-5h0m1 4h0m2-1h0m1 1h0m0-4h0m3 4h0m1-1h0m1-4h0m0 4h0m2-5h0m2 5h0m1-2h0m0-3h0m0 1h0m1-3h0m2 1h0m3-3h0m52 1h0m1 0h0m0-1h0m2 4h0m0-3h0m1 1h0m1 1h0m2 1h0m2-2h0m2 1h0m0 2h0m2-2h0m1 0h0m1 6h0m0-4h0m0 5h0m2-6h0m1 3h0m5-3h0m1-4h0m0 8h0m0-5h0m1 6h0m0-5h0m0 4h0m0-5h0m4 1h0m0-2h0m0 3h0m3-1h0m0 2h0m1-3h0m0 1h0m0 2h0m2 2h0m0-2h0m2-1h0m0 3h0m5-1h0m0-5h0m2-1h0m0 4h0m1 3h0m1 0h0m0-1h0m2-5h0m0 5h0m2 1h0m1-5h0m1 1h0m1 3h0m1-2h0m0-2h0m1 3h0m1-2h0m1 2h0m2-1h0m1 2h0m1-3h0m1-1h0m1 3h0m4-2h0m0-1h0m1-3h0m1 4h0m1-1h0m4 2h0m0-3h0m5 1h0m2-2h0m0 3h0m1-1h0m3 1h0m1-2h0m2 2h0m4-1h0m1 0h0m4 8h0m3-7h0m1 5h0m3-3h0m2-6h0m2 7h0m5-1h0m11 0h0m-685 15h0m1-6h0m0 9h0m0-2h0m0-9h0m0 6h0m0-3h0m1-3h0m0 7h0m0-3h0m1 6h0m0-9h0m0 4h0m259-4h0m4 2h0m6-1h0m0 1h0m1-2h0m0 1h0m4-1h0m1-1h0m1 3h0m3 3h0m0-1h0m4-6h0m2 1h0m0 4h0m4-2h0m3-2h0m0 5h0m1-2h0m1-1h0m1 0h0m0-2h0m0 6h0m2 0h0m0-4h0m4 3h0m0-4h0m2 0h0m1 4h0m0-2h0m0 1h0m5-2h0m0-2h0m3 4h0m3 1h0m4-3h0m3-3h0m0 5h0m1-3h0m0 5h0m1-1h0m2-4h0m1 4h0m2-2h0m0-2h0m1-1h0m0 5h0m0 4h0m1-7h0m1 1h0m0 2h0m2-1h0m3 2h0m0 3h0m2-3h0m2-1h0m3-4h0m1 8h0m0-7h0m2 7h0m0-3h0m0-5h0m2 0h0m1 7h0m0-7h0m2 8h0m0-6h0m0-1h0m1 1h0m1 1h0m1 3h0m0-4h0m1 3h0m4-1h0m1 3h0m1-1h0m0-3h0m1-2h0m0 3h0m2 2h0m1 1h0m1-9h0m0 4h0m1 5h0m2-2h0m2 2h0m0-7h0m0 1h0m2 0h0m2 5h0m3-3h0m3 2h0m0-5h0m1 2h0m3-1h0m0-1h0m1 1h0m1 4h0m0-4h0m2 3h0m3-2h0m2 2h0m0-3h0m1-3h0m1 7h0m1 0h0m2-1h0m0-2h0m1-3h0m1 6h0m1-5h0m2 4h0m2-1h0m2-4h0m1-1h0m3 4h0m1-3h0m1 5h0m1 0h0m1-6h0m1 2h0m2 3h0m4 1h0m1-5h0m2 5h0m1 2h0m0-1h0m0-7h0m1 3h0m1 0h0m1-1h0m0 4h0m2 3h0m0-8h0m4 2h0m2 2h0m1 4h0m1-2h0m1 2h0m1-2h0m0-1h0m1 3h0m0-3h0m1 4h0m0-3h0m1-1h0m1-3h0m1-1h0m1 7h0m1-2h0m2 0h0m0 1h0m0-6h0m0-2h0m0 11h0m0-8h0m1-2h0m1 5h0m1 4h0m1-2h0m1 1h0m2-7h0m1 8h0m1-5h0m0 6h0m0-3h0m1-6h0m0 8h0m1-2h0m1-3h0m0 3h0m2 1h0m0-5h0m1 2h0m0 1h0m1-7h0m1 0h0m0 2h0m1 6h0m2 2h0m2 1h0m1-2h0m1 0h0m0-2h0m1 0h0m0 3h0m0-7h0m0 1h0m1-4h0m1 8h0m1-2h0m0-2h0m0 3h0m1-4h0m0 6h0m2-7h0m1 4h0m1-4h0m3 2h0m1-3h0m1 4h0m0-2h0m2-1h0m1 3h0m1-4h0m2 1h0m3-1h0m1-1h0m155 0h0m0 3h0m2 7h0m0-5h0m3-4h0m1 2h0m7 3h0m-671 16h0m0-5h0m0-2h0m1 6h0m0-7h0m0-1h0m0 11h0m0-8h0m1 4h0m1-5h0m0 4h0m0 5h0m0-10h0m0 8h0m0-4h0m659 1h0m0-4h0m0 6h0m0 2h0m3-7h0m1 1h0m1-4h0m0 2h0m2-1h0m0 2h0m4-3h0m6 7h0m4-5h0m1-1h0m1 4h0m0 4h0m-685 5h0m1-1h0m2 0h0m1 0h0m3-1h0m2 1h0m3 0h0m3-1h0m2 0h0m1-1h0m4 2h0m4-1h0m2 0h0m2 1h0m3-1h0m2 0h0m2 1h0m4 0h0m2 0h0m2 0h0m2 0h0m2-1h0m4 0h0m8 0h0m4 1h0m0-1h0m5 1h0m3 0h0m2-1h0m1 0h0m2 0h0m3-1h0m2 2h0m1-1h0m4-1h0m2 1h0m3 1h0m3-1h0m2 1h0m2 0h0m9-1h0m2 0h0m3 1h0m2-2h0m2 1h0m3 1h0m2-1h0m2-1h0m2 0h0m1 2h0m3 0h0m1-1h0m3 0h0m1 0h0m3 0h0m1 1h0m5-2h0m1 1h0m3 0h0m2 0h0m1 1h0m2 0h0m2-2h0m8 2h0m3-1h0m1 1h0m3-1h0m2 0h0m1-1h0m2 2h0m3-1h0m8 0h0m2 0h0m5-1h0m3 2h0m1-1h0m5 1h0m1-1h0m2 0h0m6 0h0m4 0h0m1 0h0m3 1h0m2-1h0m1 0h0m4 1h0m1-1h0m2 1h0m3-1h0m1 0h0m2 0h0m2-1h0m2 1h0m5 0h0m1 0h0m4 0h0m5 0h0m1 0h0m2-1h0m3 1h0m1 1h0m5 0h0m2-1h0m4 0h0m4 0h0m0 1h0m6-1h0m4 0h0m5 1h0m2-1h0m7 0h0m3 0h0m3 1h0m2-2h0m2 2h0m1 0h0m3-1h0m4 0h0m3-1h0m5 1h0m2 0h0m1 0h0m2 1h0m4-1h0m1 0h0m3 0h0m3 1h0m6-1h0m1 1h0m3 0h0m2 0h0m3-1h0m5 0h0m4 1h0m3 0h0m2 0h0m2-1h0m2 0h0m3 1h0m2 0h0m4 0h0m3-1h0m3 1h0m1-1h0m2 0h0m4 0h0m4-1h0m3 2h0m1-1h0m2 1h0m5-1h0m2 1h0m3 0h0m5-1h0m6-1h0m2 1h0m1 1h0m2-1h0m2 0h0m3 1h0m3 0h0m3-1h0m3 1h0m2-1h0m3 1h0m2 0h0m1-1h0m3 1h0m2-1h0m1 1h0m4 0h0m2 0h0m3-1h0m4 1h0m1-1h0m7 0h0m2 1h0m2 0h0m0-1h0m6 1h0m1 0h0m2 0h0m3-1h0m6-1h0m2 1h0m2 0h0m1 0h0m2 0h0m5 0h0m1 0h0m2 1h0m1-1h0m3 1h0m3-1h0m4 1h0m2-1h0m1 0h0m3 0h0m5 0h0m3 1h0m0-1h0m3 0h0m3 1h0m2 0h0m2 0h0m2-1h0m4 0h0m1 0h0m3 0h0m1 0h0m3 0h0m1 0h0m2 0h0m3-1h0m4 1h0m1 0h0m5 0h0m1 1h0m2-1h0m2 1h0m3 0h0m1-1h0m2 1h0m3 0h0m2-1h0m2-1h0m2 1h0m3 1h0m2 0h0m2-1h0m6 1h0m3-1h0m2 1h0m1-1h0m5 0h0m1 0h0m2 0h0m3 0h0m2-1h0m1 2h0m3 0h0m1 0h0m5-1h0m1-1h0m2 2h0m2-2h0m3 2h0m4 0h0m2-1h0m1 0h0m2-1h0m0 3h0m0-1h0m1 0h0m0-1h0m10 0h0" stroke="#000" stroke-width="7.3" stroke-linecap="round" fill="none"/>
<path d="M1771.4 407L2485.7 401.5" stroke="#f4bf22" stroke-width="3.6" fill="none"/>
<path d="M1775.2 358.1C1777.9 360.6 1785.9 367.7 1791.2 373.5C1796.5 379.3 1799.2 385.1 1807.2 392.8C1815.2 400.4 1828.5 412.4 1839.2 419.2C1849.8 426.1 1860.5 430.3 1871.2 433.7C1881.8 437.1 1892.5 438.5 1903.2 439.5C1913.8 440.4 1924.5 439.9 1935.2 439.5C1945.8 439.1 1951.1 438.6 1967.1 437.1C1983.1 435.5 2009.8 431.9 2031.1 430.3C2052.4 428.7 2073.8 428 2095.1 427.4C2116.4 426.9 2137.8 427 2159.1 427C2180.4 427 2201.7 427.5 2223.1 427.4C2244.4 427.4 2265.7 427 2287 426.5C2308.4 425.9 2329.7 425.1 2351 424.1C2372.3 423 2396.6 421.4 2415 420.2C2433.4 419 2453.7 417.4 2461.4 416.8" stroke="#f20c0c" stroke-width="7.0" fill="none" stroke-linecap="round" stroke-linejoin="round"/>
<g font-family="'Liberation Serif', 'Times New Roman', serif" font-weight="bold" fill="#000">
<text x="2396" y="77" font-size="46" text-anchor="middle">A08</text>
<text x="2466" y="588.3" font-size="48" text-anchor="end">Distance (Mb)</text>
<text transform="translate(1719.4 552) rotate(-90)" font-size="48">Correlation coefficient (r<tspan font-size="29.8" dy="-17.3">2</tspan><tspan dy="17.3">)</tspan></text>
</g>
</g>
<g>
<rect x="99" y="782.3" width="710.5" height="491" fill="#fff" stroke="#b2b2b2" stroke-width="1.35"/>
<path d="M103.1 1273.3v6.2M111.9 1273.3v4.3M120.6 1273.3v4.3M129.4 1273.3v4.3M138.2 1273.3v4.3M147 1273.3v6.2M155.7 1273.3v4.3M164.5 1273.3v4.3M173.3 1273.3v4.3M182 1273.3v4.3M190.8 1273.3v6.2M199.6 1273.3v4.3M208.4 1273.3v4.3M217.1 1273.3v4.3M225.9 1273.3v4.3M234.7 1273.3v6.2M243.5 1273.3v4.3M252.2 1273.3v4.3M261 1273.3v4.3M269.8 1273.3v4.3M278.5 1273.3v6.2M287.3 1273.3v4.3M296.1 1273.3v4.3M304.9 1273.3v4.3M313.6 1273.3v4.3M322.4 1273.3v6.2M331.2 1273.3v4.3M339.9 1273.3v4.3M348.7 1273.3v4.3M357.5 1273.3v4.3M366.3 1273.3v6.2M375 1273.3v4.3M383.8 1273.3v4.3M392.6 1273.3v4.3M401.3 1273.3v4.3M410.1 1273.3v6.2M418.9 1273.3v4.3M427.7 1273.3v4.3M436.4 1273.3v4.3M445.2 1273.3v4.3M454 1273.3v6.2M462.8 1273.3v4.3M471.5 1273.3v4.3M480.3 1273.3v4.3M489.1 1273.3v4.3M497.8 1273.3v6.2M506.6 1273.3v4.3M515.4 1273.3v4.3M524.2 1273.3v4.3M532.9 1273.3v4.3M541.7 1273.3v6.2M550.5 1273.3v4.3M559.2 1273.3v4.3M568 1273.3v4.3M576.8 1273.3v4.3M585.6 1273.3v6.2M594.3 1273.3v4.3M603.1 1273.3v4.3M611.9 1273.3v4.3M620.6 1273.3v4.3M629.4 1273.3v6.2M638.2 1273.3v4.3M647 1273.3v4.3M655.7 1273.3v4.3M664.5 1273.3v4.3M673.3 1273.3v6.2M682.1 1273.3v4.3M690.8 1273.3v4.3M699.6 1273.3v4.3M708.4 1273.3v4.3M717.1 1273.3v6.2M725.9 1273.3v4.3M734.7 1273.3v4.3M743.5 1273.3v4.3M752.2 1273.3v4.3M761 1273.3v6.2M769.8 1273.3v4.3M778.5 1273.3v4.3M787.3 1273.3v4.3M796.1 1273.3v4.3M804.9 1273.3v6.2M99 1268.1h-5M99 1220h-5M99 1172h-5M99 1124h-5M99 1075.9h-5M99 1027.8h-5M99 979.8h-5M99 931.8h-5M99 883.7h-5M99 835.6h-5M99 787.6h-5" stroke="#a2a2a2" stroke-width="1.35" fill="none"/>
<path d="M99 1263.3h-2.4M99 1258.5h-2.4M99 1253.7h-2.4M99 1248.9h-2.4M99 1244.1h-2.4M99 1239.3h-2.4M99 1234.5h-2.4M99 1229.7h-2.4M99 1224.9h-2.4M99 1215.2h-2.4M99 1210.4h-2.4M99 1205.6h-2.4M99 1200.8h-2.4M99 1196h-2.4M99 1191.2h-2.4M99 1186.4h-2.4M99 1181.6h-2.4M99 1176.8h-2.4M99 1167.2h-2.4M99 1162.4h-2.4M99 1157.6h-2.4M99 1152.8h-2.4M99 1148h-2.4M99 1143.2h-2.4M99 1138.4h-2.4M99 1133.6h-2.4M99 1128.8h-2.4M99 1119.1h-2.4M99 1114.3h-2.4M99 1109.5h-2.4M99 1104.7h-2.4M99 1099.9h-2.4M99 1095.1h-2.4M99 1090.3h-2.4M99 1085.5h-2.4M99 1080.7h-2.4M99 1071.1h-2.4M99 1066.3h-2.4M99 1061.5h-2.4M99 1056.7h-2.4M99 1051.9h-2.4M99 1047.1h-2.4M99 1042.3h-2.4M99 1037.5h-2.4M99 1032.7h-2.4M99 1023h-2.4M99 1018.2h-2.4M99 1013.4h-2.4M99 1008.6h-2.4M99 1003.8h-2.4M99 999h-2.4M99 994.2h-2.4M99 989.4h-2.4M99 984.6h-2.4M99 975h-2.4M99 970.2h-2.4M99 965.4h-2.4M99 960.6h-2.4M99 955.8h-2.4M99 951h-2.4M99 946.2h-2.4M99 941.4h-2.4M99 936.6h-2.4M99 926.9h-2.4M99 922.1h-2.4M99 917.3h-2.4M99 912.5h-2.4M99 907.7h-2.4M99 902.9h-2.4M99 898.1h-2.4M99 893.3h-2.4M99 888.5h-2.4M99 878.9h-2.4M99 874.1h-2.4M99 869.3h-2.4M99 864.5h-2.4M99 859.7h-2.4M99 854.9h-2.4M99 850.1h-2.4M99 845.3h-2.4M99 840.5h-2.4M99 830.8h-2.4M99 826h-2.4M99 821.2h-2.4M99 816.4h-2.4M99 811.6h-2.4M99 806.8h-2.4M99 802h-2.4M99 797.2h-2.4M99 792.4h-2.4" stroke="#b9b9b9" stroke-width="1.1" fill="none"/>
<g font-family="'Liberation Sans', Arial, sans-serif" font-size="12.6" fill="#3a3a3a" stroke="#3a3a3a" stroke-width="0.45">
<g text-anchor="middle">
<text transform="translate(103.1 1295.3) scale(0.9 1)">0</text>
<text transform="translate(147 1295.3) scale(0.9 1)">0.20</text>
<text transform="translate(190.8 1295.3) scale(0.9 1)">0.40</text>
<text transform="translate(234.7 1295.3) scale(0.9 1)">0.60</text>
<text transform="translate(278.5 1295.3) scale(0.9 1)">0.80</text>
<text transform="translate(322.4 1295.3) scale(0.9 1)">1.00</text>
<text transform="translate(366.3 1295.3) scale(0.9 1)">1.20</text>
<text transform="translate(410.1 1295.3) scale(0.9 1)">1.40</text>
<text transform="translate(454 1295.3) scale(0.9 1)">1.60</text>
<text transform="translate(497.8 1295.3) scale(0.9 1)">1.80</text>
<text transform="translate(541.7 1295.3) scale(0.9 1)">2.00</text>
<text transform="translate(585.6 1295.3) scale(0.9 1)">2.20</text>
<text transform="translate(629.4 1295.3) scale(0.9 1)">2.40</text>
<text transform="translate(673.3 1295.3) scale(0.9 1)">2.60</text>
<text transform="translate(717.1 1295.3) scale(0.9 1)">2.80</text>
<text transform="translate(761 1295.3) scale(0.9 1)">3.00</text>
<text transform="translate(804.9 1295.3) scale(0.9 1)">3.20</text>
</g><g text-anchor="end">
<text transform="translate(91 1272.5) scale(0.9 1)">0.0</text>
<text transform="translate(91 1224.5) scale(0.9 1)">0.1</text>
<text transform="translate(91 1176.4) scale(0.9 1)">0.2</text>
<text transform="translate(91 1128.4) scale(0.9 1)">0.3</text>
<text transform="translate(91 1080.3) scale(0.9 1)">0.4</text>
<text transform="translate(91 1032.2) scale(0.9 1)">0.5</text>
<text transform="translate(91 984.2) scale(0.9 1)">0.6</text>
<text transform="translate(91 936.1) scale(0.9 1)">0.7</text>
<text transform="translate(91 888.1) scale(0.9 1)">0.8</text>
<text transform="translate(91 840) scale(0.9 1)">0.9</text>
<text transform="translate(91 792) scale(0.9 1)">1.0</text>
</g></g>
<path d="M191.5 1018.3h13M113.5 1020.3h11M159.5 1020.3h13M185.5 1020.3h21M107.5 1022.3h101M103.5 1024.3h119M103.5 1026.3h123M229.5 1026.3h3M103.5 1028.3h129M103.5 1030.3h129M103.5 1032.3h129M103.5 1034.3h125M229.5 1034.3h3M103.5 1036.3h119M107.5 1038.3h101M113.5 1040.3h11M159.5 1040.3h11M185.5 1040.3h21M191.5 1042.3h13M195.5 1044.3h7M197.5 1140.3h3M197.5 1142.3h3M197.5 1144.3h3M197.5 1146.3h3M197.5 1148.3h3M195.5 1150.3h5M195.5 1152.3h5M195.5 1154.3h7M193.5 1156.3h9M193.5 1158.3h9M191.5 1160.3h13M117.5 1162.3h3M191.5 1162.3h13M115.5 1164.3h7M189.5 1164.3h15M113.5 1166.3h11M161.5 1166.3h7M187.5 1166.3h19M111.5 1168.3h15M159.5 1168.3h13M187.5 1168.3h19M103.5 1170.3h47M157.5 1170.3h17M185.5 1170.3h23M103.5 1172.3h115M227.5 1172.3h5M103.5 1174.3h131M103.5 1176.3h131M103.5 1178.3h133M103.5 1180.3h133M103.5 1182.3h135M103.5 1184.3h137M103.5 1186.3h139M103.5 1188.3h143M103.5 1190.3h145M103.5 1192.3h145M103.5 1194.3h145M103.5 1196.3h147M103.5 1198.3h147M103.5 1200.3h147M103.5 1202.3h149M103.5 1204.3h149M103.5 1206.3h151M103.5 1208.3h153M103.5 1210.3h155M103.5 1212.3h159M103.5 1214.3h163M103.5 1216.3h167M103.5 1218.3h169M103.5 1220.3h173M103.5 1222.3h179M103.5 1224.3h207M103.5 1226.3h221M103.5 1228.3h243M103.5 1230.3h263M103.5 1232.3h263M103.5 1234.3h265M103.5 1236.3h265M103.5 1238.3h267M103.5 1240.3h267M103.5 1242.3h269M103.5 1244.3h269" stroke="#000" stroke-width="3.4" fill="none"/>
<path d="M103.1 787.6H242.4M103.1 805.9H157.9" stroke="#000" stroke-width="7.3" stroke-linecap="round" fill="none"/>
<path d="M0 0m250 788h0m4 0h0m14 0h0m5 0h0m15 0h0m6 0h0m14 0h0m4 0h0m5 0h0m13 0h0m3 0h0m8 0h0m10 0h0m5 0h0m5 0h0m22 0h0m4 0h0m16 0h0m6 0h0m-302 16h0m-3 2h0m26 2h0m3 0h0m27 0h0m2 0h0m6 0h0m5 0h0m2 0h0m6 0h0m1 0h0m2 0h0m1 0h0m2 0h0m2 0h0m2 0h0m1 0h0m4 0h0m1 0h0m1-1h0m3 1h0m3 0h0m5 0h0m5-1h0m4 1h0m3 0h0m2 0h0m2-1h0m1 1h0m3-1h0m1 1h0m8 0h0m163 4h0m-296 14h0m4 0h0m2 1h0m4 0h0m0-1h0m1 1h0m0-1h0m3 1h0m4-1h0m0-1h0m4 1h0m2 0h0m1 0h0m0 1h0m1 0h0m1 0h0m1-2h0m3 1h0m3 0h0m1 0h0m4 0h0m0 1h0m1-1h0m1 0h0m0 1h0m2-1h0m2 0h0m10 1h0m4 0h0m0-2h0m2 2h0m4-1h0m3 0h0m0 1h0m3-1h0m0 1h0m3-1h0m0 1h0m1-1h0m2 0h0m1 1h0m0-1h0m2 0h0m1 1h0m0-3h0m1 1h0m1 1h0m1 0h0m1-5h0m2 5h0m6 0h0m1 0h0m1 1h0m2 0h0m2-1h0m2-1h0m2 1h0m2-5h0m1 5h0m3-3h0m2 2h0m4 1h0m9 0h0m1 0h0m4 0h0m11 0h0m16-1h0m19 2h0m4 0h0m36-1h0m23 1h0m33-2h0m4 0h0m3 2h0m9-1h0m14 1h0m-290 10h0m3 1h0m4-1h0m44-7h0m2 7h0m3 0h0m3 0h0m4-7h0m36 2h0m22-1h0m2-1h0m4 1h0m161 0h0m-298 10h0m4 2h0m4-1h0m2 1h0m3 0h0m40-1h0m21 0h0m4 1h0m4 0h0m0 1h0m4-1h0m1 0h0m3-1h0m0 1h0m1-1h0m3 0h0m1 7h0m2-5h0m0-1h0m1 6h0m0-7h0m36 1h0m19 3h0m47-2h0m5 0h0m29-1h0m3 0h0m6 7h0m7-8h0m14 1h0m20 1h0m2 0h0m5-2h0m26 8h0m-319 12h0m3 1h0m0-2h0m0 1h0m3 0h0m4 0h0m4 0h0m3 0h0m1 2h0m2-2h0m0-1h0m2-5h0m2 6h0m0-5h0m1 2h0m3 2h0m15-9h0m11 10h0m4-3h0m3 0h0m3 1h0m1-1h0m2 3h0m0 1h0m2-4h0m16 4h0m3 0h0m0-1h0m2 0h0m6 0h0m0-6h0m1 6h0m3 0h0m3 0h0m1-10h0m10 11h0m12-8h0m5 6h0m4 1h0m8 2h0m3-2h0m3-2h0m5 1h0m130-9h0m-275 24h0m3-3h0m1-1h0m2 2h0m1 0h0m2-1h0m4 1h0m4-1h0m3 2h0m3-2h0m3-2h0m33 3h0m3-9h0m11 10h0m6-6h0m7 6h0m3-2h0m3-2h0m1-6h0m16 9h0m4 0h0m0 2h0m2-2h0m1 1h0m15-10h0m-114 11h0m9 9h0m192-6h0m7 5h0m37 2h0m-259 3h0m3 2h0m1 1h0m16-2h0m4 1h0m26 1h0m7-2h0m7 4h0m3-3h0m0-1h0m4 0h0m49 1h0m-125 12h0m2 0h0m4-1h0m1 1h0m2-1h0m1 4h0m3-3h0m3-1h0m1 1h0m2-1h0m3 0h0m0 1h0m3 0h0m3 0h0m22 0h0m3-2h0m20 3h0m2 0h0m8 0h0m2-1h0m3 1h0m3-1h0m4 0h0m36 0h0m4 1h0m3 0h0m-138 12h0m19 8h0m3-3h0m2-5h0m9-1h0m3 0h0m6 8h0m12 0h0m1-8h0m4 0h0m3 0h0m3 0h0m3 0h0m21 7h0m2 2h0m145-7h0m37 0h0m-281 19h0m0-1h0m1 0h0m2 0h0m1 0h0m1-1h0m1 1h0m2-6h0m2 6h0m1-1h0m1-1h0m2 0h0m0-8h0m4 0h0m26 10h0m3-10h0m1 10h0m10-9h0m12 8h0m5-1h0m4 2h0m3-4h0m3 0h0m4-1h0m10 4h0m3-10h0m0 10h0m1 0h0m3 0h0m3 0h0m12 1h0m22-11h0m54 8h0m-182 4h0m4 3h0m36 3h0m7-1h0m31 1h0m2-2h0m1 2h0m0-1h0m12 0h0m3 0h0m30 3h0m3-1h0m3-1h0m0-2h0m3 0h0m-137 13h0m4-1h0m0 1h0m0 4h0m3-4h0m1 0h0m3-1h0m0 1h0m3 0h0m1 0h0m3-1h0m4 0h0m4 1h0m16 5h0m1-4h0m7-6h0m3 2h0m21 8h0m2-4h0m1 3h0m1-3h0m4-1h0m0 1h0m4-1h0m0 1h0m3 0h0m12-1h0m0 6h0m3-5h0m0 5h0m5-6h0m0 5h0m4-4h0m3-1h0m2 1h0m4 0h0m5 5h0m3 0h0m2-1h0m4 0h0m35-7h0m38 0h0m-211 16h0m7-5h0m3-1h0m6 2h0m27 0h0m18-3h0m38 3h0m3 0h0m24 8h0m-127 11h0m4 2h0m12-9h0m11 0h0m4 0h0m3 0h0m4 0h0m7 0h0m3 0h0m2 9h0m7-2h0m1-7h0m8 9h0m4-11h0m3 11h0m0-9h0m7 1h0m4-2h0m5 0h0m0 10h0m3-10h0m-93 10h0m7 8h0m1 1h0m3-8h0m1-1h0m2 1h0m2-1h0m2 1h0m0 6h0m2-7h0m1 1h0m4 0h0m12 10h0m7-5h0m1 5h0m1-10h0m2 5h0m1 4h0m1-9h0m0 5h0m3-5h0m1-1h0m1 6h0m2-5h0m0 5h0m1-6h0m6 5h0m0-5h0m2 7h0m4 2h0m1-8h0m3 11h0m0-11h0m8 0h0m3 10h0m3 0h0m4-1h0m1-10h0m3 1h0m-95 17h0m4-1h0m4 0h0m3 7h0m4-11h0m5 0h0m23 11h0m5-5h0m10 2h0m1 0h0m1-1h0m4 0h0m3 2h0m1-1h0m1-5h0m4 0h0m3 0h0m1 7h0m6-1h0m2 0h0m4 0h0m2-1h0m3 0h0m3 0h0m27 2h0m3-1h0m-137 11h0m0-9h0m1 3h0m2 9h0m1-11h0m4 8h0m0 3h0m3-3h0m1-1h0m2-2h0m1 3h0m0-6h0m2 8h0m1-2h0m0-5h0m0 2h0m4-2h0m0 1h0m1 1h0m3-3h0m1 0h0m3 7h0m1-3h0m3 1h0m0-4h0m6 5h0m6 1h0m1-2h0m4 2h0m1-6h0m2 7h0m1-5h0m1-4h0m2 8h0m1-5h0m0 6h0m1-6h0m0 6h0m1-1h0m1-4h0m1 2h0m0-1h0m1 1h0m0-7h0m1 10h0m1-3h0m1-1h0m0 1h0m0-7h0m4 0h0m1 8h0m2-7h0m4 3h0m1 6h0m4 0h0m0-1h0m3-1h0m0 2h0m1-7h0m1 1h0m1 5h0m0 1h0m2-2h0m1-6h0m1 6h0m2-1h0m1 1h0m1-1h0m2 1h0m0-2h0m4-3h0m1 4h0m3 0h0m2-1h0m0 1h0m6 2h0m11 1h0m13-2h0m3-5h0m0 6h0m1-1h0m3 1h0m37-3h0m3 0h0m34 4h0m39-1h0m3-6h0m1 7h0m12-3h0m-275 13h0m0-7h0m0 8h0m1-9h0m0 8h0m0-4h0m0 2h0m0 4h0m1-9h0m0 7h0m1-2h0m0-3h0m0 6h0m36-10h0m4 10h0m3 0h0m7-7h0m4-2h0m17 0h0m4 0h0m26 1h0m1 9h0m2-9h0m2-1h0m2 2h0m1 7h0m3-9h0m0 1h0m3 1h0m2 1h0m1 0h0m3 0h0m2 2h0m2 4h0m1 0h0m1 1h0m1-1h0m0 1h0m0-10h0m1 3h0m0 2h0m1 5h0m0-6h0m2 5h0m0-6h0m1 2h0m1 1h0m1 3h0m1-1h0m0 1h0m2 1h0m1-1h0m2 0h0m3-1h0m0 1h0m1 1h0m1-1h0m6 1h0m3-1h0m2 1h0m9 0h0m0-9h0m15-1h0m5 10h0m1 1h0m3-4h0m1 2h0m3-3h0m5 2h0m24 0h0m3-6h0m13 7h0m2-1h0m2 1h0m1-1h0m2 1h0m2-1h0m3 1h0m3 1h0m30-1h0m4-1h0m21 1h0m10 1h0m321-3h0m35 2h0m-678 8h0m0-5h0m1 4h0m2-3h0m0 3h0m0-5h0m0 4h0m4 5h0m1-2h0m1 4h0m1-5h0m0 2h0m1 0h0m0 1h0m0 2h0m1-1h0m2 2h0m1-1h0m0-1h0m1 1h0m3 0h0m0-1h0m0-3h0m5 1h0m2 2h0m9-3h0m4 0h0m10 3h0m5-2h0m4 3h0m0-2h0m1 1h0m3-2h0m0 1h0m2 2h0m1-1h0m0 1h0m1-3h0m3-1h0m1 4h0m2-4h0m2 4h0m1-3h0m3 1h0m2-1h0m1 1h0m0-3h0m1 0h0m2 2h0m0 1h0m1-5h0m2 5h0m12-1h0m3 1h0m1 2h0m0-4h0m3 1h0m0 1h0m1 3h0m0-5h0m3 0h0m0 2h0m0-1h0m2 0h0m1 0h0m1 3h0m3 0h0m2-5h0m1 5h0m2-1h0m2 1h0m0-2h0m1-4h0m2 5h0m0-1h0m0-2h0m1-2h0m1 0h0m0 6h0m0-2h0m1 1h0m0-6h0m2 4h0m1 3h0m1 0h0m1-3h0m1 0h0m0 3h0m2-9h0m2 0h0m0 5h0m3 0h0m3-7h0m0 7h0m2 0h0m2 1h0m32 1h0m4 2h0m3-3h0m1-7h0m2 4h0m1 3h0m0-3h0m3 1h0m1 6h0m3-4h0m0 3h0m17-4h0m2-4h0m0 5h0m3 0h0m0-5h0m20 6h0m1 0h0m2-2h0m15 0h0m18 0h0m21 1h0m15-3h0m3 2h0m0-2h0m3 0h0m191 0h0m138-4h0m-648 14h0m3 1h0m12 0h0m1 4h0m1-7h0m1 3h0m0 4h0m0-1h0m3-6h0m7 8h0m1-8h0m1 11h0m2-3h0m0-9h0m2 12h0m1-1h0m6-3h0m4 0h0m6-2h0m2-2h0m1 3h0m3 2h0m0 1h0m1 2h0m3 0h0m0-12h0m5 11h0m1-8h0m1 9h0m1-2h0m1-7h0m1 3h0m0 6h0m2-2h0m1-4h0m7-5h0m3 0h0m1 4h0m0 5h0m3-10h0m5 9h0m11-5h0m3-3h0m12 5h0m4-1h0m17 3h0m3 1h0m1-1h0m0-4h0m13 3h0m4 0h0m417 3h0m29 0h0m-604 14h0m1-5h0m2 4h0m2-4h0m3 0h0m2-2h0m10-3h0m3-1h0m1 1h0m11 2h0m2-1h0m2 1h0m1-3h0m1 2h0m8-1h0m3-1h0m1 10h0m1-6h0m6-1h0m2-4h0m2 7h0m8-7h0m1 8h0m1-6h0m2 10h0m2-10h0m3-1h0m3 0h0m3 0h0m3 3h0m1 8h0m1-7h0m1-1h0m0-1h0m0 6h0m2-5h0m2 3h0m0 4h0m10-6h0m2-3h0m2 1h0m46 5h0m5-3h0m29 1h0m3-2h0m4-1h0m72 6h0m298 1h0m-563 11h0m7-8h0m5 3h0m4 0h0m3-1h0m4 0h0m4 9h0m10-7h0m2 7h0m0-1h0m0-7h0m3 0h0m1 7h0m1-8h0m1 1h0m1 7h0m2-8h0m2 0h0m3 3h0m1 0h0m2 1h0m0-4h0m5 0h0m2 1h0m1-1h0m0 8h0m2-8h0m1 0h0m5-2h0m4 4h0m7-4h0m1 0h0m5 3h0m1-1h0m2 1h0m12 1h0m11-2h0m6 0h0m9-2h0m3 0h0m2 2h0m60 0h0m4 0h0m0 9h0m3-9h0m7-1h0m0 1h0m19-1h0m20 1h0m3 9h0m0-9h0m12 0h0m1 0h0m4 0h0m2-1h0m4 10h0m1-8h0m28 1h0m241 5h0m-543 10h0m0 1h0m3 0h0m0-9h0m3 7h0m0 5h0m2 0h0m4-3h0m0-3h0m3 3h0m3-8h0m0 8h0m3 0h0m1-8h0m1 9h0m0-8h0m7 4h0m0-5h0m12 1h0m7 1h0m4-2h0m2 5h0m1-5h0m2 1h0m2-1h0m3 0h0m2 4h0m3 0h0m3-3h0m1 3h0m1-4h0m1 4h0m3-5h0m1 5h0m1-4h0m1 9h0m2-5h0m1 4h0m0 3h0m1-4h0m0 4h0m0-6h0m1-2h0m1 8h0m2 0h0m0-8h0m1-2h0m3 2h0m1-2h0m1 10h0m2-10h0m8 10h0m4-1h0m2-10h0m4 1h0m3-1h0m3 0h0m1 1h0m1 6h0m1-7h0m1 1h0m1 6h0m1 0h0m1-6h0m1-1h0m11 0h0m3 0h0m1 0h0m1 0h0m4 0h0m4 0h0m6 1h0m7-2h0m1 1h0m3-1h0m2 1h0m2-1h0m11 1h0m1 1h0m2 0h0m1 0h0m7-2h0m7 0h0m28 1h0m2-1h0m3 1h0m4 0h0m9-1h0m23 2h0m228 1h0m-492 13h0m0-4h0m2 8h0m10-1h0m1 4h0m3-1h0m2-5h0m2 3h0m2 3h0m0-3h0m3-8h0m0 10h0m2 0h0m1-9h0m3 0h0m8 7h0m1-1h0m5-5h0m1 5h0m1 0h0m0-3h0m1-2h0m18 6h0m3-1h0m1 4h0m2-6h0m0-5h0m0 8h0m0 3h0m1-2h0m1-8h0m0 10h0m1-8h0m0 2h0m1 1h0m0 2h0m1 0h0m0 4h0m3-1h0m0-6h0m1 4h0m0 3h0m0-4h0m2-3h0m0 3h0m1 0h0m1 0h0m6-1h0m11-2h0m4 0h0m3 3h0m11 0h0m1-1h0m2-2h0m0 3h0m1 0h0m0 1h0m3-1h0m0-6h0m0 10h0m19-7h0m2 3h0m2-2h0m0 1h0m1 1h0m2 0h0m4 1h0m3-2h0m4 1h0m3 2h0m8-9h0m4 6h0m10 1h0m3 0h0m3-1h0m1 1h0m5 0h0m2-2h0m1 3h0m3-3h0m2 0h0m4 0h0m3 4h0m5-1h0m3-1h0m3-5h0m0 5h0m8-5h0m3 0h0m20 0h0m69 5h0m-343 8h0m3-4h0m0 8h0m2-8h0m2 8h0m2-3h0m1 3h0m3-1h0m9-4h0m4-2h0m1 5h0m3 0h0m30 4h0m1-5h0m0-3h0m3 3h0m0 4h0m0-7h0m2 0h0m1 3h0m2-2h0m1 4h0m2 0h0m1-5h0m10 0h0m4 10h0m3-8h0m3 2h0m1 4h0m4 0h0m11-1h0m3-7h0m3 0h0m3 0h0m4 0h0m3 0h0m6 6h0m3 3h0m69-6h0m3 0h0m144 1h0m37 0h0m-385 11h0m2 2h0m3 4h0m1-2h0m0-6h0m2 8h0m1-7h0m1-1h0m1 8h0m2-7h0m2-1h0m1-1h0m0 2h0m1-1h0m2 2h0m0-1h0m2 7h0m1-8h0m9 7h0m3 1h0m3-9h0m5 6h0m0-2h0m1 5h0m2-5h0m5-2h0m0 5h0m3 0h0m2-7h0m1 1h0m0 6h0m2-6h0m1-2h0m0 5h0m2 2h0m0-6h0m1 2h0m1 3h0m8-3h0m1 1h0m2 0h0m6-1h0m1-1h0m1-1h0m0 5h0m1-2h0m1-1h0m2 0h0m1 5h0m2-5h0m1-2h0m0 5h0m2-6h0m0 3h0m2-3h0m1 2h0m1 1h0m2-1h0m0-2h0m0 9h0m2-7h0m0-1h0m1 1h0m3 0h0m1-1h0m1 1h0m1-1h0m2 9h0m2-7h0m4 1h0m3 1h0m3 0h0m2-3h0m1-1h0m2 2h0m0-1h0m2 2h0m0-3h0m3 4h0m1-4h0m3 3h0m1 0h0m1 4h0m0-4h0m3-2h0m1 2h0m0-3h0m3 1h0m3 0h0m4 0h0m3 0h0m4 1h0m6 4h0m16-5h0m11 0h0m3 0h0m4 0h0m6 0h0m21 0h0m34 1h0m1 4h0m3 0h0m5-5h0m152 3h0m-420 15h0m1-4h0m0 4h0m1-4h0m6 5h0m0 2h0m2-1h0m1-1h0m0-4h0m1 5h0m3 0h0m0-5h0m2 0h0m2 5h0m0-4h0m1-5h0m2 9h0m5-6h0m8 0h0m4 1h0m2 0h0m4 1h0m3-1h0m1 3h0m5-7h0m4 4h0m2 6h0m4-4h0m3-2h0m2-1h0m4 3h0m2 2h0m3 1h0m0-1h0m1-1h0m4-4h0m2 0h0m2 1h0m1-1h0m1 0h0m0 6h0m0-5h0m1-4h0m0 5h0m0-1h0m1-1h0m1 0h0m0 2h0m0 3h0m0-2h0m1-7h0m0 4h0m1 3h0m0-2h0m0 1h0m1 3h0m0-4h0m0-1h0m1 0h0m0 6h0m0-3h0m2-3h0m1 0h0m1 4h0m1-6h0m1-2h0m2 6h0m1-5h0m1 3h0m4 0h0m2 1h0m1-1h0m3 5h0m2 1h0m4 0h0m1-4h0m2 3h0m1-4h0m1-2h0m1 1h0m1 6h0m0-4h0m1-2h0m2 1h0m11 5h0m2 1h0m3-6h0m3-1h0m3 0h0m1 0h0m3 0h0m3 0h0m23 3h0m8-3h0m3 0h0m4 0h0m3 0h0m2-1h0m2 1h0m2-1h0m0 1h0m3 0h0m9 1h0m4 0h0m3 0h0m2 1h0m1 3h0m4 2h0m13-1h0m9-4h0m3-1h0m4 1h0m9-2h0m4 1h0m90 0h0m17-5h0m178 2h0m17 0h0m11 0h0m7 0h0m6 0h0m7 0h0m20 0h0m-629 14h0m2 2h0m2 2h0m1-2h0m0-6h0m3 4h0m0 2h0m2 0h0m1-5h0m1 5h0m1 5h0m1-2h0m1 1h0m3 0h0m3-4h0m1 0h0m3 0h0m0-1h0m3 0h0m0 1h0m2 2h0m1-3h0m1-5h0m5 3h0m1 0h0m4 0h0m4-1h0m0 4h0m2-6h0m1 5h0m1 2h0m0-4h0m1-2h0m1 5h0m1 4h0m1-3h0m1 2h0m1-7h0m0 8h0m1 0h0m0-11h0m1 7h0m2 4h0m1 1h0m0-8h0m1 7h0m1 0h0m1-5h0m2 4h0m1-5h0m1 7h0m0-10h0m3 7h0m1 2h0m11-10h0m1 4h0m1 5h0m2-6h0m1 7h0m0-1h0m0-2h0m0-1h0m1-2h0m0 5h0m0 1h0m0-10h0m2 7h0m1-2h0m3-3h0m1 6h0m0-1h0m1 2h0m4-4h0m1 3h0m0-6h0m1 4h0m2-3h0m0 3h0m0 5h0m0-6h0m9 4h0m5 2h0m0-5h0m5 4h0m1-11h0m3 11h0m5-7h0m2 0h0m2-3h0m1 0h0m1 1h0m2-1h0m1 7h0m2-7h0m2 5h0m1-5h0m29 2h0m15-1h0m4 2h0m3 2h0m1 3h0m3-5h0m1 5h0m2-7h0m0 1h0m2 6h0m1-7h0m1 7h0m1-5h0m2-2h0m3-2h0m15 6h0m20-4h0m11 1h0m3 1h0m3-1h0m11-2h0m0 6h0m4-2h0m0-4h0m138 8h0m136 1h0m5-2h0m33 0h0m35 0h0m4-7h0m-636 22h0m4-2h0m1 1h0m1-1h0m1-2h0m0 1h0m1 3h0m1-5h0m1-4h0m0 5h0m0 1h0m1-7h0m1 9h0m1-5h0m1 2h0m1-1h0m1-2h0m1 4h0m1-1h0m0-3h0m0-1h0m3 1h0m1 3h0m0-2h0m1 0h0m2-1h0m0 2h0m0 1h0m1 0h0m0-4h0m2 7h0m0-6h0m2-3h0m1 3h0m1 1h0m1 5h0m1-2h0m1-5h0m1 7h0m1 1h0m0-2h0m0-6h0m1 7h0m3-8h0m2 8h0m3-9h0m0 6h0m0 1h0m2 0h0m1 0h0m1-6h0m5 4h0m3-2h0m2 0h0m3-2h0m1 9h0m0-5h0m1-4h0m2-2h0m1 6h0m1 3h0m0-1h0m1-2h0m0 4h0m1-4h0m1-4h0m0-1h0m4 0h0m1 7h0m2-7h0m2 5h0m1-5h0m0 1h0m1 5h0m1-2h0m0-1h0m2-4h0m1 8h0m1 0h0m0-6h0m1-2h0m1 4h0m2-1h0m1-3h0m14 7h0m1-5h0m2 0h0m2 0h0m0 7h0m3-7h0m4 0h0m3 0h0m6 0h0m3 2h0m2 1h0m1 7h0m0-3h0m0-5h0m2-1h0m1 2h0m1-1h0m0 5h0m0 3h0m3-7h0m2 5h0m0-5h0m4 0h0m3 0h0m78-2h0m32-3h0m190 6h0m41-5h0m68 7h0m18 2h0m-577 4h0m0 2h0m0 6h0m1-3h0m1 2h0m1-4h0m0 6h0m0-8h0m0 4h0m1-6h0m2 4h0m1-4h0m2 1h0m11-1h0m2-1h0m0 2h0m2-1h0m1 1h0m3 0h0m4-2h0m2 1h0m0 2h0m1 0h0m2-2h0m1 2h0m4 0h0m2 0h0m4 4h0m2-5h0m3 3h0m1-2h0m1 1h0m1-2h0m2-2h0m4 1h0m5 0h0m0-1h0m1 5h0m2-4h0m1 4h0m0 1h0m3 0h0m1-1h0m2-3h0m1 0h0m0 4h0m4-2h0m18 0h0m3-1h0m1 1h0m3 0h0m3-1h0m4 2h0m1-2h0m1 4h0m0 1h0m0-6h0m2-2h0m1 8h0m4-2h0m3 0h0m0-2h0m3 2h0m1-1h0m2-3h0m1 3h0m1 0h0m2 5h0m5-2h0m3-7h0m4-1h0m3 1h0m49 4h0m13 1h0m2 1h0m5-1h0m36-1h0m5 0h0m3 0h0m47 3h0m57-7h0m66 3h0m50 1h0m11 5h0m18 1h0m8-8h0m12 3h0m3-4h0m17 2h0m4 0h0m40-3h0m4 7h0m-601 11h0m0 1h0m0-4h0m1-1h0m0-2h0m1 0h0m0 6h0m1 3h0m0-9h0m0 4h0m0-2h0m0 6h0m126-9h0m3 3h0m3 2h0m2-2h0m1 3h0m0 2h0m2 2h0m1-1h0m2-3h0m1-5h0m2 8h0m1-8h0m0 7h0m1 3h0m2-2h0m5-6h0m3-3h0m25 4h0m7 7h0m4 1h0m5-10h0m31 6h0m23-2h0m56-4h0m46 10h0m30-8h0m31 2h0m29 2h0m40 0h0m0 3h0m21-5h0m34 6h0m5-8h0m3 6h0m3-6h0m7 4h0m3 0h0m-561 15h0m1-10h0m0 5h0m0 2h0m0-6h0m1 4h0m0-6h0m0 7h0m0 2h0m1-7h0m0 9h0m0-7h0m143 3h0m2-6h0m2 4h0m3 0h0m0 1h0m1 3h0m2-6h0m3 1h0m1-4h0m2 10h0m0-2h0m1-5h0m2 6h0m2 2h0m1-2h0m0-2h0m4-2h0m41-3h0m14 9h0m3 0h0m121-3h0m14-3h0m55 1h0m5-2h0m11 7h0m27-7h0m8-1h0m4-3h0m25 9h0m22-1h0m21-4h0m-543 10h0m0 9h0m0-7h0m0 6h0m0-4h0m1-5h0m0 4h0m2-4h0m0 3h0m0-1h0m0 8h0m0-2h0m0-2h0m147-5h0m2 1h0m0 2h0m3-2h0m0-1h0m1 5h0m0 1h0m1-4h0m3-3h0m3 3h0m1 1h0m1-1h0m0 5h0m0-2h0m1-7h0m0 7h0m0-4h0m2 0h0m0 6h0m1-8h0m0 3h0m0-4h0m1 11h0m0-10h0m3 2h0m0-1h0m2 3h0m0 2h0m1-3h0m11 6h0m3-2h0m0-1h0m4-1h0m3-1h0m3 1h0m4 0h0m1 2h0m3 2h0m0-2h0m4 3h0m5-7h0m4-1h0m0 6h0m1 3h0m2-9h0m17 7h0m3 2h0m8-9h0m2 0h0m21 7h0m11-4h0m40 2h0m29-5h0m6 2h0m4 0h0m5-3h0m50 1h0m8 1h0m21 1h0m35 2h0m6-5h0m3-1h0m18 8h0m33-4h0m12 0h0m4 0h0m3-3h0m6 5h0m4-3h0m1 7h0m-574 13h0m0-2h0m0-4h0m1-5h0m0 3h0m1-1h0m0-1h0m0 6h0m1-2h0m0 4h0m0-9h0m156 0h0m4-1h0m0 1h0m2 1h0m1-1h0m3 3h0m0-2h0m3 1h0m0-1h0m1 2h0m2 1h0m1-1h0m2 4h0m1 0h0m2-7h0m2 2h0m0-3h0m1 1h0m1 5h0m1 4h0m0-6h0m0 7h0m1-9h0m1 9h0m1-7h0m0-3h0m1 2h0m0 6h0m2 2h0m0-7h0m2-3h0m8 4h0m1-1h0m1 3h0m2 4h0m1-6h0m0 7h0m2 0h0m1-4h0m0 4h0m1-3h0m1-1h0m0 3h0m2-1h0m2-2h0m1-1h0m4 4h0m6-6h0m2 0h0m1 6h0m4 1h0m3-1h0m7-6h0m2 2h0m1-3h0m1-1h0m1 4h0m2 1h0m2-7h0m8 2h0m1 6h0m63-3h0m1 0h0m28-6h0m4 6h0m14 3h0m23 2h0m6-7h0m9 7h0m0-7h0m6 5h0m2-2h0m0-4h0m2 5h0m5 0h0m27 3h0m0-1h0m7-3h0m30 1h0m1-7h0m1 6h0m23-7h0m41 11h0m4-1h0m21 0h0m2-9h0m13 7h0m1-4h0m1 5h0m6-3h0m6 2h0m29-1h0m15 3h0m1-4h0m12 5h0m5-5h0m-671 9h0m0 6h0m0-3h0m1 5h0m0-9h0m1-1h0m0 1h0m0 7h0m1-6h0m0 8h0m0 1h0m0-5h0m0-2h0m207-3h0m1-1h0m2 0h0m1-1h0m0 1h0m2 0h0m1-1h0m5 2h0m3 1h0m3-1h0m11 1h0m4 0h0m9 0h0m2 3h0m4 0h0m2 0h0m1-2h0m0 2h0m2 0h0m1-2h0m1 2h0m1 0h0m0 1h0m2-1h0m2 1h0m2-3h0m0 2h0m1 0h0m3 0h0m22-6h0m0 7h0m1 2h0m0-6h0m3-1h0m1 0h0m2 8h0m17-4h0m1 5h0m1-5h0m0-4h0m1 8h0m5 0h0m1 1h0m2-1h0m6-3h0m2-4h0m9 9h0m5-8h0m1 3h0m2-5h0m1 7h0m6-3h0m1 0h0m1 1h0m1-2h0m4-1h0m4 8h0m2-4h0m4-6h0m1 6h0m4 2h0m6-3h0m7 2h0m6 1h0m1-1h0m3-4h0m0-3h0m0 8h0m7-3h0m1 4h0m1 0h0m1 0h0m1 0h0m0-3h0m2-2h0m0 5h0m1-9h0m0 6h0m1-2h0m4 0h0m8 5h0m4 1h0m5-6h0m1 4h0m2 0h0m22-5h0m5 3h0m1 0h0m0-6h0m2-1h0m2 9h0m2-1h0m3-1h0m3 0h0m0-6h0m0 7h0m1-5h0m3 6h0m4-4h0m1 3h0m1-2h0m3 1h0m0 2h0m4-1h0m4 0h0m0-7h0m1 0h0m1 7h0m2 0h0m2-2h0m0-7h0m0 6h0m10 4h0m1-10h0m2 9h0m3 0h0m1-1h0m0-3h0m1 6h0m3-5h0m5-1h0m5 6h0m6-1h0m4-1h0m0-4h0m14-3h0m4 9h0m1-11h0m1 2h0m2 7h0m2-1h0m5-2h0m1 0h0m20 5h0m9-3h0m1 1h0m6-1h0m5 2h0m7-2h0m1 0h0m10-1h0m0 2h0m1-6h0m2 6h0m16-1h0m6 1h0m2-7h0m0 7h0m4 0h0m1-8h0m0 4h0m2 5h0m1-1h0m-681 5h0m0 2h0m0-1h0m1 4h0m1-2h0m1-2h0m0 4h0m0 2h0m1 0h0m2-1h0m1 1h0m3 0h0m3-1h0m1 0h0m1 1h0m4 0h0m3-1h0m4 1h0m2-1h0m3 1h0m2-2h0m1 1h0m3 0h0m2 1h0m0-2h0m2 1h0m2 0h0m3 0h0m1 0h0m4 1h0m1 0h0m1 0h0m2-1h0m2 0h0m3 0h0m2 0h0m2 0h0m2 1h0m7 0h0m0-1h0m4 0h0m3 0h0m2 1h0m2 0h0m3-1h0m2 0h0m1 0h0m5 0h0m4 0h0m3 1h0m1-1h0m3 0h0m6 1h0m1-2h0m3 1h0m3 1h0m3-1h0m2 0h0m1 0h0m3 0h0m3 1h0m6-1h0m1 1h0m3 0h0m1-1h0m2 0h0m2 1h0m2-1h0m4 0h0m3 0h0m1 0h0m6 1h0m2-1h0m3 0h0m1 1h0m2-1h0m3 0h0m4 0h0m2 0h0m2 1h0m3-1h0m3-1h0m2 2h0m4-1h0m1 1h0m3-1h0m2 0h0m0 1h0m4 0h0m0-1h0m4 0h0m1 0h0m3-1h0m1 2h0m1-1h0m3 0h0m3 0h0m1 0h0m3 0h0m1 0h0m2 0h0m3 1h0m4-1h0m1 0h0m4 1h0m1-1h0m4 0h0m2 1h0m3-1h0m3 1h0m1-1h0m1 1h0m3-1h0m2 0h0m1 1h0m3-1h0m5 0h0m1 1h0m1 0h0m5-4h0m0 2h0m3 0h0m2-3h0m4 2h0m0-2h0m3 4h0m0-2h0m19-2h0m3 0h0m6-1h0m2-1h0m12 2h0m13 0h0m13 2h0m1-2h0m2 2h0m5-2h0m9 3h0m1-2h0m5 3h0m4-2h0m0 3h0m3 0h0m2-7h0m2 4h0m0 1h0m15 0h0m5-4h0m1-1h0m2 4h0m7 0h0m2 2h0m0-4h0m0-3h0m4 2h0m9-1h0m1-1h0m4 7h0m2-5h0m0 4h0m1-2h0m1 2h0m7-7h0m0 1h0m11 4h0m7 2h0m4 2h0m15-1h0m0-4h0m3 2h0m1 2h0m1-6h0m0-2h0m1 8h0m1 0h0m1 0h0m0-7h0m16 7h0m0-7h0m0 5h0m0-2h0m1 3h0m1-6h0m0 6h0m1-3h0m0 1h0m2 2h0m2 0h0m0-4h0m1 2h0m5-2h0m0 6h0m2-5h0m0 2h0m3 2h0m1 1h0m5-7h0m1 2h0m2-2h0m3 5h0m3 1h0m3-1h0m2 1h0m4-7h0m1 3h0m2-2h0m4 6h0m1 3h0m3-3h0m0-1h0m5 0h0m4-2h0m1 3h0m4 0h0m8-1h0m1-5h0m3 2h0m11 4h0m2-5h0m0 1h0m3 5h0m0-6h0m1 6h0m2-7h0m1 7h0m0-5h0m2-1h0m0 2h0m4 0h0m0-2h0m3 3h0m1-4h0m4 1h0m8 4h0m4-2h0m3-5h0m4 2h0m0 1h0m1 5h0m1-4h0m3 0h0m6 5h0m4-4h0m1 1h0m7 3h0m0-2h0m3 0h0m11-7h0m5 4h0" stroke="#000" stroke-width="7.3" stroke-linecap="round" fill="none"/>
<path d="M116 1181L815.7 1176.9" stroke="#f4bf22" stroke-width="3.6" fill="none"/>
<path d="M103.1 1089.4C104.9 1091.5 110.4 1097.8 114.1 1102.3C117.7 1106.9 119.5 1111.5 125 1116.7C130.5 1121.9 139.7 1129.3 147 1133.6C154.3 1137.8 161.6 1139.6 168.9 1142.2C176.2 1144.8 183.5 1146.8 190.8 1148.9C198.1 1151.1 205.4 1153.3 212.8 1155.2C220.1 1157 227.4 1158.8 234.7 1160C242 1161.2 249.3 1161.7 256.6 1162.4C263.9 1163 267.6 1163.5 278.5 1163.8C289.5 1164.2 307.8 1164 322.4 1164.3C337 1164.6 355.3 1165 366.3 1165.8C377.2 1166.5 380.9 1167.4 388.2 1168.6C395.5 1169.8 402.8 1171.4 410.1 1173C417.4 1174.6 424.7 1176.5 432.1 1178.2C439.4 1180 443 1180.1 454 1183.5C464.9 1187 483.2 1194.7 497.8 1198.9C512.5 1203.2 527.1 1206.6 541.7 1209C556.3 1211.4 570.9 1212.9 585.6 1213.5C600.2 1214.1 614.8 1213.4 629.4 1212.5C644 1211.6 658.7 1209.4 673.3 1208C687.9 1206.7 702.5 1205.4 717.1 1204.2C731.8 1203 753.1 1201.4 761 1200.8C768.9 1200.2 763.7 1200.6 764.3 1200.6" stroke="#f20c0c" stroke-width="6.2" fill="none" stroke-linecap="round" stroke-linejoin="round"/>
<path d="M779.6 1199.6l5 -0.5" stroke="#f20c0c" stroke-width="5.8" fill="none" stroke-linecap="round"/>
<g font-family="'Liberation Serif', 'Times New Roman', serif" font-weight="bold" fill="#000">
<text x="645.7" y="847" font-size="46" text-anchor="middle">C02</text>
<text x="794.3" y="1369.3" font-size="48" text-anchor="end">Distance (Mb)</text>
<text transform="translate(46 1352.6) rotate(-90)" font-size="48">Correlation coefficient (r<tspan font-size="29.8" dy="-17.3">2</tspan><tspan dy="17.3">)</tspan></text>
</g>
</g>
<g>
<rect x="934.4" y="777.1" width="714.6" height="493.9" fill="#fff" stroke="#b2b2b2" stroke-width="1.35"/>
<path d="M937.7 1271v6.2M948.6 1271v4.3M959.5 1271v4.3M970.4 1271v4.3M981.3 1271v4.3M992.1 1271v6.2M1003 1271v4.3M1013.9 1271v4.3M1024.8 1271v4.3M1035.7 1271v4.3M1046.6 1271v6.2M1057.5 1271v4.3M1068.4 1271v4.3M1079.2 1271v4.3M1090.1 1271v4.3M1101 1271v6.2M1111.9 1271v4.3M1122.8 1271v4.3M1133.7 1271v4.3M1144.6 1271v4.3M1155.5 1271v6.2M1166.3 1271v4.3M1177.2 1271v4.3M1188.1 1271v4.3M1199 1271v4.3M1209.9 1271v6.2M1220.8 1271v4.3M1231.7 1271v4.3M1242.6 1271v4.3M1253.5 1271v4.3M1264.3 1271v6.2M1275.2 1271v4.3M1286.1 1271v4.3M1297 1271v4.3M1307.9 1271v4.3M1318.8 1271v6.2M1329.7 1271v4.3M1340.6 1271v4.3M1351.4 1271v4.3M1362.3 1271v4.3M1373.2 1271v6.2M1384.1 1271v4.3M1395 1271v4.3M1405.9 1271v4.3M1416.8 1271v4.3M1427.7 1271v6.2M1438.5 1271v4.3M1449.4 1271v4.3M1460.3 1271v4.3M1471.2 1271v4.3M1482.1 1271v6.2M1493 1271v4.3M1503.9 1271v4.3M1514.8 1271v4.3M1525.7 1271v4.3M1536.5 1271v6.2M1547.4 1271v4.3M1558.3 1271v4.3M1569.2 1271v4.3M1580.1 1271v4.3M1591 1271v6.2M1601.9 1271v4.3M1612.8 1271v4.3M1623.6 1271v4.3M1634.5 1271v4.3M1645.4 1271v6.2M934.4 1266.3h-5M934.4 1217.9h-5M934.4 1169.5h-5M934.4 1121.1h-5M934.4 1072.7h-5M934.4 1024.3h-5M934.4 975.9h-5M934.4 927.5h-5M934.4 879.1h-5M934.4 830.7h-5M934.4 782.3h-5" stroke="#a2a2a2" stroke-width="1.35" fill="none"/>
<path d="M934.4 1261.5h-2.4M934.4 1256.6h-2.4M934.4 1251.8h-2.4M934.4 1246.9h-2.4M934.4 1242.1h-2.4M934.4 1237.3h-2.4M934.4 1232.4h-2.4M934.4 1227.6h-2.4M934.4 1222.7h-2.4M934.4 1213.1h-2.4M934.4 1208.2h-2.4M934.4 1203.4h-2.4M934.4 1198.5h-2.4M934.4 1193.7h-2.4M934.4 1188.9h-2.4M934.4 1184h-2.4M934.4 1179.2h-2.4M934.4 1174.3h-2.4M934.4 1164.7h-2.4M934.4 1159.8h-2.4M934.4 1155h-2.4M934.4 1150.1h-2.4M934.4 1145.3h-2.4M934.4 1140.5h-2.4M934.4 1135.6h-2.4M934.4 1130.8h-2.4M934.4 1125.9h-2.4M934.4 1116.3h-2.4M934.4 1111.4h-2.4M934.4 1106.6h-2.4M934.4 1101.7h-2.4M934.4 1096.9h-2.4M934.4 1092.1h-2.4M934.4 1087.2h-2.4M934.4 1082.4h-2.4M934.4 1077.5h-2.4M934.4 1067.9h-2.4M934.4 1063h-2.4M934.4 1058.2h-2.4M934.4 1053.3h-2.4M934.4 1048.5h-2.4M934.4 1043.7h-2.4M934.4 1038.8h-2.4M934.4 1034h-2.4M934.4 1029.1h-2.4M934.4 1019.5h-2.4M934.4 1014.6h-2.4M934.4 1009.8h-2.4M934.4 1004.9h-2.4M934.4 1000.1h-2.4M934.4 995.3h-2.4M934.4 990.4h-2.4M934.4 985.6h-2.4M934.4 980.7h-2.4M934.4 971.1h-2.4M934.4 966.2h-2.4M934.4 961.4h-2.4M934.4 956.5h-2.4M934.4 951.7h-2.4M934.4 946.9h-2.4M934.4 942h-2.4M934.4 937.2h-2.4M934.4 932.3h-2.4M934.4 922.7h-2.4M934.4 917.8h-2.4M934.4 913h-2.4M934.4 908.1h-2.4M934.4 903.3h-2.4M934.4 898.5h-2.4M934.4 893.6h-2.4M934.4 888.8h-2.4M934.4 883.9h-2.4M934.4 874.3h-2.4M934.4 869.4h-2.4M934.4 864.6h-2.4M934.4 859.7h-2.4M934.4 854.9h-2.4M934.4 850.1h-2.4M934.4 845.2h-2.4M934.4 840.4h-2.4M934.4 835.5h-2.4M934.4 825.9h-2.4M934.4 821h-2.4M934.4 816.2h-2.4M934.4 811.3h-2.4M934.4 806.5h-2.4M934.4 801.7h-2.4M934.4 796.8h-2.4M934.4 792h-2.4M934.4 787.1h-2.4" stroke="#b9b9b9" stroke-width="1.1" fill="none"/>
<g font-family="'Liberation Sans', Arial, sans-serif" font-size="12.6" fill="#3a3a3a" stroke="#3a3a3a" stroke-width="0.45">
<g text-anchor="middle">
<text transform="translate(937.7 1294) scale(0.9 1)">0</text>
<text transform="translate(992.1 1294) scale(0.9 1)">0.20</text>
<text transform="translate(1046.6 1294) scale(0.9 1)">0.40</text>
<text transform="translate(1101 1294) scale(0.9 1)">0.60</text>
<text transform="translate(1155.5 1294) scale(0.9 1)">0.80</text>
<text transform="translate(1209.9 1294) scale(0.9 1)">1.00</text>
<text transform="translate(1264.3 1294) scale(0.9 1)">1.20</text>
<text transform="translate(1318.8 1294) scale(0.9 1)">1.40</text>
<text transform="translate(1373.2 1294) scale(0.9 1)">1.60</text>
<text transform="translate(1427.7 1294) scale(0.9 1)">1.80</text>
<text transform="translate(1482.1 1294) scale(0.9 1)">2.00</text>
<text transform="translate(1536.5 1294) scale(0.9 1)">2.20</text>
<text transform="translate(1591 1294) scale(0.9 1)">2.40</text>
<text transform="translate(1645.4 1294) scale(0.9 1)">2.60</text>
</g><g text-anchor="end">
<text transform="translate(926.4 1270.7) scale(0.9 1)">0.0</text>
<text transform="translate(926.4 1222.3) scale(0.9 1)">0.1</text>
<text transform="translate(926.4 1173.9) scale(0.9 1)">0.2</text>
<text transform="translate(926.4 1125.5) scale(0.9 1)">0.3</text>
<text transform="translate(926.4 1077.1) scale(0.9 1)">0.4</text>
<text transform="translate(926.4 1028.7) scale(0.9 1)">0.5</text>
<text transform="translate(926.4 980.3) scale(0.9 1)">0.6</text>
<text transform="translate(926.4 931.9) scale(0.9 1)">0.7</text>
<text transform="translate(926.4 883.5) scale(0.9 1)">0.8</text>
<text transform="translate(926.4 835.1) scale(0.9 1)">0.9</text>
<text transform="translate(926.4 786.7) scale(0.9 1)">1.0</text>
</g></g>
<path d="M962.9 819.1h3M960.9 821.1h9M958.9 823.1h11M958.9 825.1h11M958.9 827.1h13M960.9 829.1h9M962.9 839.1h5M962.9 841.1h3M962.9 843.1h3M960.9 845.1h7M960.9 847.1h7M938.9 1055.1h3M938.9 1057.1h7M938.9 1059.1h9M938.9 1061.1h9M938.9 1063.1h11M938.9 1065.1h11M938.9 1067.1h11M938.9 1069.1h13M938.9 1071.1h13M938.9 1073.1h15M938.9 1075.1h17M956.9 1075.1h7M938.9 1077.1h27M938.9 1079.1h27M938.9 1081.1h27M938.9 1083.1h29M938.9 1085.1h29M938.9 1087.1h29M938.9 1089.1h29M938.9 1091.1h31M938.9 1093.1h31M938.9 1095.1h31M938.9 1097.1h31M938.9 1099.1h33M938.9 1101.1h33M938.9 1103.1h33M938.9 1105.1h35M938.9 1107.1h35M938.9 1109.1h37M938.9 1111.1h39M938.9 1113.1h41M938.9 1115.1h41M938.9 1117.1h43M938.9 1119.1h43M938.9 1121.1h45M938.9 1123.1h47M938.9 1125.1h51M938.9 1127.1h53M938.9 1129.1h53M938.9 1131.1h55M938.9 1133.1h57M938.9 1135.1h59M938.9 1137.1h61M938.9 1139.1h63M938.9 1141.1h63M938.9 1143.1h65M938.9 1145.1h67M1006.9 1145.1h5M938.9 1147.1h75M1026.9 1147.1h3M938.9 1149.1h81M1024.9 1149.1h5M938.9 1151.1h93M938.9 1153.1h93M1274.9 1153.1h3M938.9 1155.1h95M1274.9 1155.1h5M938.9 1157.1h95M1274.9 1157.1h5M938.9 1159.1h95M1274.9 1159.1h5M938.9 1161.1h97M1274.9 1161.1h5M938.9 1163.1h97M1272.9 1163.1h7M938.9 1165.1h99M1232.9 1165.1h3M1272.9 1165.1h7M938.9 1167.1h101M1232.9 1167.1h3M1272.9 1167.1h9M938.9 1169.1h105M1230.9 1169.1h5M1272.9 1169.1h9M938.9 1171.1h111M1230.9 1171.1h5M1272.9 1171.1h9M938.9 1173.1h117M1100.9 1173.1h7M1204.9 1173.1h7M1230.9 1173.1h5M1270.9 1173.1h11M1296.9 1173.1h3M938.9 1175.1h123M1100.9 1175.1h7M1202.9 1175.1h9M1228.9 1175.1h7M1270.9 1175.1h11M1294.9 1175.1h5M938.9 1177.1h133M1100.9 1177.1h9M1164.9 1177.1h3M1202.9 1177.1h11M1228.9 1177.1h9M1270.9 1177.1h11M1294.9 1177.1h5M938.9 1179.1h145M1098.9 1179.1h13M1116.9 1179.1h5M1162.9 1179.1h7M1182.9 1179.1h3M1200.9 1179.1h13M1228.9 1179.1h9M1270.9 1179.1h13M1292.9 1179.1h9M938.9 1181.1h185M1138.9 1181.1h7M1162.9 1181.1h7M1182.9 1181.1h5M1198.9 1181.1h17M1226.9 1181.1h11M1268.9 1181.1h15M1292.9 1181.1h9M938.9 1183.1h209M1160.9 1183.1h11M1180.9 1183.1h9M1196.9 1183.1h21M1224.9 1183.1h15M1260.9 1183.1h3M1266.9 1183.1h17M1292.9 1183.1h9M938.9 1185.1h313M1258.9 1185.1h27M1290.9 1185.1h13M938.9 1187.1h369M938.9 1189.1h369M938.9 1191.1h371M938.9 1193.1h371M938.9 1195.1h371M938.9 1197.1h373M938.9 1199.1h373M938.9 1201.1h373M938.9 1203.1h375M938.9 1205.1h375M938.9 1207.1h375M938.9 1209.1h377M938.9 1211.1h377M938.9 1213.1h377M938.9 1215.1h379M938.9 1217.1h379M938.9 1219.1h379M938.9 1221.1h381M938.9 1223.1h381M938.9 1225.1h383M938.9 1227.1h383M938.9 1229.1h383M938.9 1231.1h385M938.9 1233.1h385M938.9 1235.1h385M938.9 1237.1h387M938.9 1239.1h387M938.9 1241.1h389M938.9 1243.1h391" stroke="#000" stroke-width="3.4" fill="none"/>
<path d="M937.7 782.3H1011.2M1047.9 782.3H1050.7M1080.6 782.3H1084.7M1145.9 782.3H1148.7M1214 782.3H1220.8M1254.8 782.3H1258.9M1268.4 782.3H1297M937.7 802.6H973.1M1265.7 800.7H1272.5M1278 804.1H1280.7M1286.1 800.7H1309.3M1068.4 801.7H1076.5" stroke="#000" stroke-width="7.3" stroke-linecap="round" fill="none"/>
<path d="M0 0m1015 782h0m15 0h0m1 1h0m1-1h0m197 1h0m2-1h0m5 1h0m2-1h0m3 0h0m1 0h0m1 0h0m0 1h0m1 0h0m1-1h0m-283 22h0m2-3h0m1 0h0m2 0h0m4 0h0m4 0h0m5 1h0m5 1h0m3-1h0m5 1h0m2-1h0m2 0h0m5 1h0m7 0h0m1 0h0m-70 11h0m13-1h0m11-3h0m2 3h0m1-3h0m19 0h0m4 1h0m3 2h0m4 1h0m4 2h0m214-10h0m17 0h0m-294 15h0m2 5h0m3-10h0m1 9h0m0 1h0m3 1h0m1-5h0m2-3h0m1 2h0m1-4h0m0 1h0m1 4h0m1-3h0m1-1h0m1 3h0m0 7h0m0-10h0m2 3h0m0-1h0m1-2h0m1 10h0m1-8h0m3 1h0m1-4h0m1 3h0m0-2h0m1 2h0m1-2h0m2 0h0m1 3h0m2 1h0m1 3h0m0-7h0m2 0h0m2 3h0m1 1h0m2-2h0m0 1h0m0-3h0m1 3h0m1-4h0m1-1h0m0 2h0m31 3h0m3 0h0m6 0h0m12 2h0m16-3h0m82 2h0m117-3h0m13 1h0m6 1h0m8 0h0m-340 8h0m2 4h0m0-1h0m1-2h0m0-1h0m2 1h0m1 0h0m0 8h0m0-6h0m1 5h0m0 2h0m2-7h0m1 5h0m1 2h0m1-7h0m1 5h0m2 1h0m0-10h0m2 0h0m0 11h0m2-5h0m1-5h0m1 10h0m3-5h0m0 5h0m1-2h0m0 1h0m1-4h0m2 3h0m1-4h0m0 1h0m1 1h0m1 1h0m1 1h0m1 1h0m2-10h0m0 2h0m0 8h0m4-10h0m1 9h0m1-9h0m0 11h0m4 0h0m0-10h0m3 8h0m1 2h0m2-7h0m2 7h0m1 1h0m2-2h0m1-8h0m0 7h0m4-3h0m233 4h0m-293 4h0m2 4h0m2-4h0m2 4h0m9-6h0m1 7h0m2 1h0m0 1h0m0-9h0m3 9h0m0-8h0m1 9h0m0 1h0m1-3h0m1 1h0m1 2h0m1 0h0m0-3h0m3 0h0m4 1h0m10 3h0m5-12h0m1 7h0m1-5h0m7 6h0m17-1h0m170-1h0m0 4h0m-243 5h0m2-1h0m2 2h0m3-2h0m1 1h0m2-2h0m2 2h0m0 1h0m4 0h0m2-2h0m1 2h0m2-2h0m1 1h0m1 0h0m2-1h0m1 1h0m1 8h0m4-7h0m2-2h0m1-1h0m8 2h0m2-1h0m23 3h0m3-3h0m10 1h0m54 5h0m55-4h0m-188 9h0m0 6h0m2-3h0m1-2h0m2 5h0m2-6h0m2 6h0m4 1h0m0 2h0m3-2h0m2-1h0m0 4h0m1-3h0m1 0h0m1 0h0m1 3h0m0-3h0m1 0h0m1 0h0m1-1h0m0 4h0m2-3h0m1-1h0m4 1h0m6 0h0m3 0h0m1 0h0m0 2h0m1-1h0m1 0h0m2 3h0m1 0h0m3-3h0m3-3h0m4-2h0m7 7h0m3-3h0m2-3h0m1 2h0m3-3h0m0 3h0m2-5h0m1 3h0m1 2h0m1-3h0m4 1h0m3 0h0m29 3h0m44 0h0m3-1h0m3 1h0m4 0h0m40-2h0m34 2h0m8-3h0m3-2h0m2 2h0m19 6h0m59-4h0m-333 7h0m4 0h0m1 1h0m2-1h0m3 0h0m1 3h0m2-3h0m1 0h0m3 8h0m3 2h0m1-1h0m1-1h0m3 0h0m0-7h0m2 2h0m9 5h0m1 0h0m0 1h0m6-9h0m6-1h0m10 9h0m4 0h0m3 2h0m0-2h0m1-6h0m2 6h0m1-2h0m3-6h0m1 7h0m1-1h0m1-6h0m2 5h0m0 4h0m2-9h0m33 9h0m4 0h0m4 0h0m17-8h0m69 9h0m3-2h0m11-1h0m3-7h0m2 9h0m19-2h0m18-7h0m11 7h0m3 3h0m63-9h0m-326 13h0m4-3h0m4 0h0m4 4h0m0-4h0m32 2h0m6 7h0m1-2h0m1 2h0m1 0h0m1 0h0m2 0h0m1 2h0m2-2h0m3 0h0m4 0h0m31-8h0m90 1h0m2-2h0m1 0h0m11 9h0m3 0h0m13-7h0m7 8h0m4-6h0m1-5h0m10 3h0m144 7h0m-400 10h0m1 0h0m2-1h0m0 1h0m3 0h0m1-3h0m3 3h0m3 0h0m2-1h0m2 1h0m6 3h0m1-1h0m2-9h0m3 7h0m3 4h0m1-10h0m1-1h0m1 6h0m2 5h0m0-11h0m1 6h0m2-6h0m1 8h0m2 0h0m1-8h0m1 7h0m1 0h0m1-8h0m1 8h0m1 0h0m1-7h0m1 7h0m1 0h0m5 0h0m0-3h0m3 0h0m1 2h0m3 0h0m3 0h0m1 1h0m2 0h0m3 0h0m3-2h0m2 0h0m2 1h0m1 0h0m1 1h0m1-1h0m1-5h0m2 6h0m1-5h0m0 5h0m2 0h0m1-5h0m2 5h0m1-5h0m3 5h0m1 3h0m6-4h0m1-1h0m1 3h0m3-2h0m3 0h0m1-3h0m3 3h0m0-5h0m1 6h0m3 0h0m3 0h0m2-1h0m2 1h0m1-1h0m1 4h0m2-4h0m1 2h0m3-3h0m0 1h0m3 0h0m0-1h0m3 3h0m2-1h0m3 1h0m1-1h0m3 0h0m6 0h0m3 1h0m7-2h0m27 1h0m2 0h0m1 0h0m3 1h0m2-1h0m4 0h0m19 1h0m17-2h0m5 1h0m5 2h0m3-2h0m3-1h0m31 4h0m3-3h0m41 0h0m3 0h0m3 0h0m1 0h0m3 0h0m10 3h0m11 0h0m171-5h0m-533 9h0m20-2h0m1 5h0m2 0h0m1 3h0m6-2h0m6-5h0m10 6h0m3 0h0m21 4h0m6 0h0m4 0h0m4-1h0m3-9h0m2 9h0m1-9h0m2 9h0m1-9h0m1 3h0m2-3h0m0 9h0m3 0h0m0-10h0m3 1h0m0 9h0m2 0h0m2 0h0m0-5h0m1 5h0m2-7h0m1 7h0m2-7h0m17 8h0m3-6h0m15 3h0m7 2h0m3 1h0m4 0h0m2-1h0m4 0h0m34-4h0m65 3h0m109 2h0m-370 5h0m2-2h0m1 0h0m3 1h0m3 2h0m1-2h0m3-1h0m4-3h0m5 4h0m2-1h0m1 2h0m2-2h0m2-1h0m0 2h0m6 2h0m1-5h0m2 3h0m3-2h0m0 1h0m5-1h0m1 1h0m2 0h0m3 0h0m2-3h0m1 3h0m1-2h0m2 1h0m1-2h0m3 3h0m3 2h0m3-5h0m7 5h0m3-1h0m1-1h0m1 4h0m1-2h0m2 3h0m1-4h0m2 3h0m0-4h0m3 4h0m0-1h0m30-2h0m9-1h0m3-1h0m23 10h0m5-9h0m0-1h0m6-1h0m0 3h0m2 3h0m22-4h0m3 0h0m3-1h0m28 2h0m112 7h0m6-8h0m4 0h0m-345 12h0m10 6h0m3 0h0m0-3h0m1 3h0m3 0h0m0-3h0m0 4h0m4-2h0m10 2h0m9 1h0m4-3h0m1-5h0m1 3h0m14-3h0m4 0h0m3 0h0m3 0h0m4 0h0m3 0h0m7 5h0m12 1h0m23-5h0m3-2h0m35-1h0m3 2h0m4 5h0m32 3h0m106-6h0m256 0h0m16 0h0m-578 10h0m0 2h0m2 0h0m1-2h0m2 5h0m1-5h0m1 7h0m2-7h0m1 7h0m5 0h0m4-3h0m3 0h0m1 1h0m2-4h0m0 7h0m2-9h0m1 6h0m2 4h0m13-3h0m3 0h0m4 0h0m3 0h0m3 1h0m5-2h0m5 1h0m3-2h0m4 3h0m0-8h0m3 6h0m4 0h0m6 0h0m2 4h0m1-4h0m1 1h0m2 1h0m1 0h0m4-1h0m4-4h0m3 0h0m7 4h0m3 0h0m0 2h0m1-1h0m3 0h0m0-2h0m3 2h0m3 0h0m5 0h0m3 0h0m18-1h0m4-1h0m21 3h0m3 0h0m22-2h0m3-7h0m18 10h0m3-3h0m1-1h0m3-2h0m0 3h0m4-1h0m2 1h0m9-1h0m5 0h0m3 0h0m2 0h0m4 0h0m13 3h0m21-3h0m2 0h0m5 2h0m4-2h0m3-2h0m15-3h0m40 4h0m1 1h0m5 2h0m3-1h0m-370 4h0m1 6h0m3-4h0m1 5h0m2-5h0m4 0h0m3 0h0m3 0h0m4 8h0m0-8h0m3 9h0m0-4h0m2-2h0m1-4h0m0 7h0m0-4h0m3 2h0m11 0h0m4 0h0m21 0h0m11-7h0m3 4h0m6-1h0m4 6h0m0-1h0m1-1h0m2 1h0m1 2h0m0-3h0m1-3h0m2 4h0m1-1h0m1 1h0m2-2h0m2 2h0m1-1h0m3-1h0m15 1h0m21 4h0m5 0h0m1-9h0m2 9h0m48-4h0m24-1h0m43 0h0m3 0h0m23 1h0m3 0h0m4 0h0m24-1h0m3 1h0m19-5h0m33-2h0m112 1h0m-488 15h0m12 1h0m4 0h0m0-2h0m3 0h0m1 2h0m1 3h0m0-5h0m2-2h0m2 2h0m1-2h0m4 0h0m1 6h0m3 1h0m1-1h0m4 0h0m3-4h0m0 3h0m3-3h0m0 1h0m0-4h0m2 2h0m1-2h0m3 0h0m9 7h0m3-4h0m0 1h0m3 1h0m8-1h0m3 1h0m1-5h0m3 4h0m4-1h0m0 7h0m38-2h0m3 0h0m3 0h0m21-3h0m3 0h0m65-5h0m1 6h0m3 0h0m3-3h0m0 3h0m1-3h0m2 0h0m2 0h0m1 0h0m93-1h0m-324 13h0m3 1h0m1-1h0m3 1h0m4-1h0m10 2h0m5-2h0m3 0h0m3 1h0m6 5h0m0-1h0m3-2h0m3-3h0m3 1h0m0-4h0m4 4h0m3 1h0m3 0h0m15 0h0m1 5h0m2-6h0m3 0h0m1-3h0m2 3h0m4 0h0m1 0h0m1 2h0m1-3h0m1 7h0m21-7h0m9 2h0m3 0h0m38 0h0m11-1h0m34 3h0m3 0h0m4-1h0m4 0h0m69-1h0m3 0h0m41-2h0m4 0h0m3 0h0m3 0h0m32 8h0m5-5h0m74 5h0m27 0h0m-476 3h0m3 2h0m9-1h0m7 6h0m5-8h0m1 1h0m1 1h0m1-2h0m2 10h0m2-10h0m30 1h0m13 1h0m3-1h0m4 1h0m2 3h0m7-4h0m11 0h0m4 0h0m2 5h0m1-5h0m2 8h0m2-7h0m23 6h0m2-8h0m3 0h0m4 0h0m4 0h0m74 10h0m4-4h0m35-5h0m3 0h0m4 0h0m2 0h0m20 9h0m4 1h0m138-12h0m6 0h0m106 2h0m-546 15h0m1 4h0m0 2h0m3-2h0m0-6h0m1 0h0m2 6h0m1-7h0m1 1h0m1 0h0m2 0h0m0-2h0m2 2h0m2-2h0m3 0h0m4 0h0m1 0h0m2 0h0m0 8h0m2-5h0m2-3h0m0 8h0m1-3h0m3 3h0m0-9h0m1 5h0m2-3h0m4 1h0m7 7h0m3 1h0m2-10h0m4 7h0m0-7h0m3 1h0m0 6h0m3-7h0m3 1h0m8-1h0m3 0h0m1 10h0m1-9h0m3 9h0m3 0h0m1-5h0m0 3h0m2 2h0m78-3h0m4 0h0m114-6h0m10 6h0m3 1h0m4-1h0m37 2h0m3 0h0m4-10h0m27 2h0m136 2h0m95 7h0m-595 6h0m1-3h0m1 9h0m3-2h0m1-1h0m2 3h0m1-1h0m1 0h0m1-1h0m2-1h0m1-6h0m3 1h0m0 6h0m1-7h0m3 7h0m0-7h0m1 7h0m0 2h0m1-1h0m2 1h0m0-8h0m1 0h0m3-1h0m2 4h0m0-4h0m17-1h0m22 9h0m3-8h0m3 6h0m3 0h0m5-6h0m3 0h0m23 1h0m4 6h0m0-4h0m3 2h0m3 2h0m7 0h0m2 0h0m22-2h0m0-4h0m4 4h0m3 0h0m38 2h0m15-8h0m3 0h0m4 11h0m0-11h0m3 0h0m3 0h0m11 0h0m3 1h0m21 0h0m3-1h0m0-1h0m3 3h0m1-2h0m3 1h0m3 0h0m4-1h0m0 1h0m11 7h0m4 0h0m54-8h0m106 3h0m-457 11h0m6 5h0m2-6h0m6 6h0m3-6h0m1 1h0m0 9h0m2-11h0m1 4h0m0-2h0m2 9h0m0-8h0m2-2h0m0 10h0m1-6h0m2-4h0m1 0h0m1 6h0m2-6h0m1-1h0m5 5h0m3 1h0m6-1h0m3 0h0m21-4h0m4 3h0m18-4h0m4 1h0m2 0h0m4-1h0m3 1h0m5 0h0m3 0h0m4-2h0m0 10h0m3 1h0m1 0h0m0-9h0m3 1h0m3 2h0m11-2h0m4 0h0m8 0h0m4-3h0m5 1h0m12 1h0m3 6h0m4-1h0m3 0h0m2 0h0m4-6h0m3 3h0m0 8h0m47-9h0m3 0h0m4 0h0m10 2h0m30 6h0m3 0h0m18-2h0m4-7h0m23 9h0m2-10h0m4 1h0m74 5h0m-416 6h0m0 10h0m0-1h0m1-2h0m0 3h0m1-10h0m0 8h0m0-4h0m0 5h0m1-6h0m1 7h0m0-8h0m0 6h0m1-3h0m1-6h0m1 3h0m0 5h0m1-6h0m0 3h0m0 4h0m1-2h0m1 3h0m0-10h0m0 11h0m1-10h0m0 4h0m0 1h0m1-6h0m1 2h0m0 8h0m1-8h0m1 1h0m0 3h0m1-6h0m0 11h0m2-10h0m0 5h0m0-3h0m1-3h0m3 3h0m2-2h0m0 4h0m1-2h0m1 8h0m1-8h0m1 0h0m1 0h0m0 3h0m4 0h0m1-3h0m4 9h0m2-11h0m2 1h0m1 0h0m2 3h0m15-4h0m2-1h0m3 3h0m7-3h0m2 11h0m1-10h0m5 11h0m4-6h0m0 4h0m2-9h0m2 9h0m7-3h0m5 1h0m1 2h0m2-5h0m0 6h0m25-10h0m3 1h0m2 10h0m1-8h0m3 5h0m13-6h0m41 0h0m8-1h0m48 4h0m21-3h0m27 8h0m12-9h0m35 1h0m15-1h0m4 1h0m2 0h0m135 4h0m-498 6h0m0 6h0m0 2h0m0-1h0m0-4h0m0 1h0m1-3h0m1-1h0m0 10h0m0-2h0m1-3h0m0-4h0m0 5h0m1-7h0m7 0h0m0 7h0m2 3h0m0-9h0m1 3h0m0 5h0m0-9h0m1 7h0m2 2h0m2-2h0m0-2h0m1-1h0m2 5h0m3-1h0m2-4h0m1 5h0m3-3h0m3-6h0m4 11h0m3-4h0m1 4h0m2-3h0m8-3h0m1 3h0m2 0h0m0 1h0m1-1h0m3 0h0m4 0h0m8-2h0m4 0h0m3 0h0m5 6h0m0-1h0m1-3h0m2-3h0m1 3h0m1-2h0m0-3h0m1 0h0m2 5h0m1-3h0m0-5h0m3 11h0m0-5h0m3 0h0m2 6h0m2-4h0m19 0h0m4-6h0m4 4h0m3 2h0m13 2h0m4-5h0m9 1h0m0-1h0m3 1h0m1 0h0m11 1h0m39-4h0m14-2h0m4 9h0m76-4h0m23-4h0m3 3h0m9 5h0m4 0h0m25-3h0m114-5h0m22 5h0m-506 15h0m0-4h0m0 1h0m0-7h0m0 4h0m1 7h0m0-5h0m1 3h0m0-3h0m0 6h0m0-12h0m0 7h0m0-4h0m1 0h0m0 6h0m2-9h0m8 1h0m5 2h0m2-1h0m1 3h0m0-5h0m1 4h0m2-1h0m1 4h0m0-5h0m0 1h0m2 0h0m0 2h0m0 1h0m0-2h0m1-2h0m1 1h0m0 5h0m0 3h0m1-3h0m1-4h0m2 2h0m1-1h0m0 6h0m0-3h0m1-6h0m1 2h0m1 4h0m2-3h0m1 3h0m0 1h0m2 1h0m1-7h0m1 6h0m2-6h0m1 1h0m2 6h0m1-7h0m4 5h0m0-7h0m5 9h0m2-2h0m2-3h0m11 2h0m0-5h0m3 0h0m0 5h0m2-1h0m1-4h0m1 3h0m1 1h0m2-1h0m1 1h0m3-2h0m3 4h0m4 1h0m1-8h0m12 9h0m16-8h0m0 2h0m3-3h0m4 1h0m1 6h0m3 1h0m3-1h0m12-1h0m2-3h0m8 4h0m3-2h0m6 5h0m4 0h0m3 0h0m1-2h0m77 0h0m94-8h0m-348 23h0m0-3h0m0-2h0m0-6h0m1 5h0m1 3h0m0-7h0m0 6h0m1-3h0m0-5h0m27 1h0m0 2h0m1 9h0m0-3h0m2-3h0m0-2h0m1-1h0m0-2h0m1 4h0m0 6h0m0-10h0m1 9h0m1-7h0m3 7h0m0-4h0m1 0h0m2 2h0m0-2h0m0 4h0m1-6h0m0 6h0m2 2h0m9-7h0m2-1h0m1 0h0m3 0h0m2 4h0m2-1h0m10 2h0m11-5h0m3 0h0m8 6h0m8-1h0m12 2h0m4 0h0m4-5h0m1 1h0m1 1h0m2 3h0m8-1h0m21 0h0m7-1h0m5-3h0m0 5h0m9-2h0m88-4h0m2 0h0m7 6h0m9-4h0m3-3h0m3 1h0m0 1h0m3 1h0m7 0h0m2 2h0m3 2h0m10-2h0m2-6h0m1 6h0m3 0h0m10-9h0m1 11h0m4-4h0m3-4h0m2-2h0m14 7h0m4 0h0m3 0h0m3 0h0m1 1h0m33-7h0m16 0h0m-416 12h0m0 4h0m1-2h0m0 4h0m1-5h0m0-3h0m0 4h0m0-3h0m0 10h0m0-2h0m1-1h0m0-4h0m29-1h0m3-3h0m0 4h0m3 3h0m0-1h0m1 0h0m1 3h0m1-9h0m1 7h0m1 5h0m0-2h0m2 0h0m2-3h0m2 4h0m5 0h0m1-2h0m2-1h0m0 3h0m1-4h0m0 2h0m2-6h0m0 5h0m3-5h0m5 7h0m5-4h0m1 2h0m0 3h0m2 1h0m1-9h0m0 5h0m1-4h0m0 7h0m1-9h0m2 3h0m2 6h0m0-10h0m2 8h0m0-2h0m2-6h0m1 5h0m0 4h0m2 1h0m0-9h0m1 9h0m0-9h0m2 2h0m1-2h0m2 6h0m1-5h0m0 1h0m1 5h0m4 0h0m1 0h0m2 0h0m2 0h0m1 0h0m1 0h0m2 0h0m2 2h0m12-6h0m4-4h0m1 6h0m7-2h0m4 1h0m2 2h0m1-3h0m1 1h0m3 0h0m13-5h0m3 3h0m2-4h0m0 8h0m1 0h0m4 2h0m5-2h0m3-2h0m3 5h0m1-7h0m2 7h0m1-9h0m66 9h0m12-1h0m4 2h0m8-4h0m5-1h0m3 0h0m3 0h0m5 0h0m3 3h0m1-4h0m4 1h0m3-3h0m7 1h0m0-1h0m0-4h0m4 2h0m0 1h0m20 7h0m2 2h0m0-4h0m3 0h0m1-2h0m2 1h0m0 4h0m0-3h0m2 1h0m1-1h0m5 0h0m5-4h0m1 4h0m3-3h0m3 6h0m1-8h0m10 0h0m4-1h0m4-2h0m19 0h0m16 0h0m-416 13h0m0 2h0m0 5h0m1-4h0m1-2h0m0 5h0m1-4h0m0 6h0m0-1h0m0-2h0m33-6h0m2 1h0m1 3h0m2 0h0m1 5h0m0-5h0m1 0h0m1 7h0m1-4h0m1-5h0m1 10h0m0-9h0m0 8h0m1-1h0m2 0h0m1 0h0m0 2h0m2-4h0m3 0h0m1 3h0m1-5h0m0 6h0m2-4h0m0 2h0m2-3h0m5 4h0m2-10h0m1 4h0m2 3h0m0-6h0m3 6h0m0-1h0m0-4h0m0-2h0m2 10h0m1-3h0m1-6h0m0-2h0m2 11h0m1 1h0m4-9h0m1 7h0m2-6h0m1 3h0m3-3h0m3 0h0m2 4h0m1-4h0m7 2h0m2-3h0m3 1h0m9 2h0m5 2h0m2-2h0m3 1h0m1-6h0m4 5h0m2 6h0m0-6h0m2 0h0m1 6h0m4-5h0m1-6h0m15 0h0m4 4h0m3 2h0m3-1h0m4-3h0m1-1h0m32 5h0m2-2h0m23 0h0m15 6h0m17-10h0m1 2h0m2-2h0m3 9h0m3-9h0m4 1h0m13-2h0m2 2h0m0-2h0m1 10h0m1-5h0m1-3h0m0-1h0m1-1h0m0 10h0m2-8h0m0 3h0m3 7h0m6-4h0m4-4h0m2 6h0m0-1h0m1-4h0m1-2h0m2 4h0m1-2h0m2 5h0m2-10h0m4 7h0m3-4h0m2-2h0m0 2h0m1-1h0m1-2h0m1 8h0m0-5h0m1 7h0m2-9h0m1 2h0m3 4h0m1-5h0m3 6h0m0-5h0m0-1h0m7 7h0m5 0h0m2-1h0m4 0h0m2-4h0m1 3h0m0 1h0m1 0h0m3 0h0m239 0h0m-609 12h0m0-6h0m1 3h0m0-2h0m1 5h0m0-8h0m0 2h0m0-1h0m0 4h0m1 7h0m0-3h0m0-6h0m0 7h0m41-7h0m1 2h0m2 2h0m1-2h0m1 0h0m1 2h0m0-5h0m1 2h0m1 1h0m0 4h0m1 1h0m1-5h0m1-5h0m0 5h0m2 4h0m1-4h0m1 5h0m0-8h0m4 5h0m1 2h0m1-2h0m1 0h0m0-7h0m1 9h0m1 0h0m0-2h0m3 3h0m1-2h0m1-6h0m3 6h0m2-2h0m0 1h0m1-2h0m2 4h0m2 3h0m2-12h0m0 2h0m2-2h0m2 2h0m0 4h0m1-4h0m1 0h0m0 9h0m1-2h0m0-2h0m0-7h0m0 1h0m1 10h0m0-1h0m2-3h0m0 4h0m1-1h0m3 0h0m0-5h0m3 0h0m3 2h0m0 4h0m1-6h0m2 2h0m1-2h0m2 2h0m5 3h0m25-10h0m2 1h0m6 6h0m7 4h0m3 0h0m1-1h0m0 1h0m3 0h0m6-3h0m0-1h0m2-4h0m10 5h0m1 2h0m3-2h0m1 2h0m0 1h0m1-11h0m2 4h0m1 3h0m1-3h0m2 4h0m1-2h0m6 5h0m9-8h0m10 2h0m0 5h0m3-9h0m3 0h0m3 5h0m1-5h0m3 0h0m1 4h0m12-3h0m2 7h0m0-6h0m2 5h0m2-4h0m0 8h0m2-3h0m1-5h0m1 8h0m1-3h0m2-6h0m2 6h0m1-6h0m3-3h0m5 12h0m5 0h0m3-8h0m2 6h0m2-1h0m6 1h0m0 2h0m1-5h0m1 3h0m2 2h0m2-2h0m3-1h0m1 1h0m4-3h0m3-5h0m1 9h0m18-3h0m0 1h0m3-2h0m1 4h0m1-11h0m1 8h0m2-4h0m3 0h0m1 5h0m2-8h0m1 8h0m0-8h0m1 7h0m0-7h0m1 3h0m0 7h0m2-2h0m1 1h0m2-1h0m1 0h0m2-7h0m4 9h0m6-2h0m3 0h0m0-8h0m2 4h0m0 3h0m1-7h0m2 3h0m1 0h0m0 5h0m2-5h0m0 7h0m12-1h0m19 0h0m120-5h0m-520 8h0m0-1h0m0 8h0m1-3h0m1 2h0m0-2h0m0 5h0m1-6h0m0-3h0m58 0h0m1 8h0m0-3h0m1 5h0m1-4h0m0-4h0m1 5h0m2 3h0m1-2h0m1-4h0m0-1h0m0 8h0m1-6h0m1 3h0m0-7h0m0 3h0m3 3h0m0-1h0m0-2h0m1 5h0m0-5h0m1-1h0m1 5h0m0-6h0m1 7h0m0-8h0m3 8h0m0-1h0m4-5h0m0 6h0m2-3h0m0-5h0m1 2h0m0 6h0m0-2h0m2-4h0m1 6h0m4-10h0m6 11h0m1 0h0m0-4h0m2 0h0m4-2h0m0-1h0m1 0h0m3-3h0m1 10h0m1 1h0m1-4h0m4-5h0m0 5h0m2 0h0m2-7h0m1 8h0m1-2h0m6 5h0m2-2h0m4 0h0m2 0h0m3-4h0m1 4h0m3 0h0m1 0h0m6 1h0m7-10h0m1 3h0m2-4h0m2 5h0m2 0h0m13 6h0m8-1h0m2-1h0m2 0h0m1 0h0m1-1h0m3 1h0m2 1h0m0-3h0m4-5h0m5 7h0m7 0h0m5-1h0m2-7h0m4 11h0m2-1h0m3-1h0m3 2h0m0-4h0m3 1h0m1-2h0m1-2h0m3 3h0m0-4h0m3 6h0m3 1h0m2-10h0m0 10h0m3-10h0m1 10h0m9-2h0m3 0h0m5-3h0m1-6h0m1 3h0m0 2h0m2-4h0m1 0h0m2 6h0m7-6h0m1 8h0m1 1h0m0-9h0m3 9h0m0-7h0m1-2h0m1 6h0m5-5h0m3-1h0m1 1h0m0 9h0m3-2h0m1 2h0m4 0h0m0-2h0m5 3h0m3-2h0m2-1h0m5 0h0m4-8h0m7 5h0m1 2h0m2 0h0m0 4h0m1-3h0m0-3h0m0 1h0m1-4h0m2 3h0m0 3h0m0-4h0m1 2h0m2-4h0m1 8h0m0-2h0m3 0h0m0 1h0m1-1h0m0-3h0m2 3h0m1-3h0m1-3h0m1-2h0m1 7h0m1 1h0m0-9h0m4 7h0m0 1h0m3-7h0m7 8h0m3 1h0m9 0h0m74-6h0m14 0h0m76 1h0m101-5h0m-648 17h0m0 3h0m0-6h0m1-2h0m1 9h0m0 1h0m0-3h0m1-5h0m0 3h0m0-1h0m62-2h0m5-1h0m1 3h0m6-3h0m1-1h0m0 8h0m0-2h0m0-1h0m3-1h0m1 2h0m3 2h0m1-3h0m2 4h0m0-3h0m0-4h0m1 3h0m0 2h0m1 2h0m1-6h0m2 1h0m0 5h0m0-6h0m1 8h0m2-9h0m0 7h0m1-8h0m2 8h0m0-2h0m1-1h0m0 6h0m1-2h0m0-4h0m1 3h0m1 1h0m0-7h0m1 0h0m3 0h0m0-1h0m2-1h0m1 10h0m0-10h0m1 2h0m0-1h0m0-2h0m2 11h0m13-3h0m2 3h0m0-1h0m2-6h0m1 7h0m4-10h0m0 10h0m3 0h0m5-2h0m3-3h0m1 4h0m3-3h0m3 3h0m0-6h0m1 0h0m2-2h0m2 2h0m2-3h0m2 10h0m1-10h0m2 3h0m0 4h0m2-6h0m0 2h0m1 7h0m0-6h0m1-2h0m1 1h0m0 4h0m0 3h0m0-4h0m2 2h0m2 0h0m3 2h0m1-4h0m3-2h0m0 3h0m1 0h0m2-6h0m1 6h0m4 2h0m4-4h0m5 3h0m1-3h0m2-4h0m7 10h0m10 0h0m3-5h0m2 3h0m2-9h0m1 4h0m0 4h0m3-9h0m0 12h0m1-5h0m2-7h0m4 5h0m1 4h0m3 2h0m2-8h0m0 8h0m1-4h0m1-1h0m1 2h0m1-4h0m2 7h0m1-10h0m1 7h0m3-5h0m2 0h0m5 5h0m1-7h0m1 10h0m1-2h0m1-8h0m0 4h0m1 6h0m1-1h0m0-1h0m1 0h0m1-8h0m2 11h0m1-1h0m1-3h0m3-5h0m3-3h0m0 11h0m1-10h0m1 3h0m2-3h0m2 1h0m1 0h0m1-1h0m1 4h0m1-3h0m0 10h0m0-7h0m2-1h0m0-2h0m1 2h0m0 8h0m2-7h0m2 7h0m0-4h0m2 1h0m4-7h0m0 10h0m1-6h0m1-3h0m0 3h0m2-4h0m1 1h0m1 1h0m1 4h0m2-6h0m0 10h0m2-4h0m0-1h0m3-3h0m3 7h0m0-7h0m1 7h0m1-3h0m1 0h0m1 0h0m0-1h0m1 1h0m2 2h0m0-2h0m2 0h0m1 3h0m2-3h0m0-6h0m1 8h0m2 1h0m0-9h0m1-1h0m0 3h0m3-2h0m0 9h0m0-3h0m3 2h0m1-8h0m3 9h0m1-8h0m0 1h0m2 7h0m1-3h0m0-5h0m0 1h0m1-1h0m0 5h0m1-3h0m0 6h0m0-7h0m2 7h0m2-6h0m0-4h0m0 3h0m1 7h0m1-2h0m0-4h0m1-1h0m2 8h0m0-3h0m1-5h0m0 4h0m0-3h0m2 7h0m2 0h0m2-2h0m4 0h0m82-2h0m187 1h0m-639 4h0m0 6h0m0 4h0m0-2h0m1-3h0m0 4h0m1-5h0m0 5h0m1-10h0m0 3h0m0 3h0m91-1h0m2-1h0m1 7h0m1-9h0m1 2h0m0 4h0m0 4h0m0-1h0m1 0h0m1 1h0m1 0h0m0-1h0m1 0h0m0-3h0m2-4h0m1 6h0m0-2h0m0-7h0m0 6h0m0 2h0m1-5h0m1 4h0m0-5h0m3 8h0m2-9h0m7 8h0m4 0h0m1-2h0m2 4h0m1-6h0m0 6h0m3-1h0m0 1h0m1-11h0m0 10h0m0-9h0m0 8h0m1 0h0m2-5h0m0-2h0m3 5h0m0-2h0m2 4h0m1-1h0m3-5h0m0 5h0m3-4h0m1 5h0m2-5h0m0 4h0m0-1h0m1 1h0m0-1h0m1-7h0m2 9h0m0-6h0m0 5h0m1-8h0m0 7h0m2 2h0m1-9h0m2 9h0m6-4h0m3-5h0m1 4h0m1 6h0m1-5h0m0-3h0m0 1h0m1-3h0m0 5h0m1-4h0m1 5h0m1-6h0m2 10h0m2-8h0m2 7h0m3 1h0m1-4h0m2 3h0m1-3h0m2 1h0m1-1h0m1-5h0m2 9h0m5 1h0m4-1h0m4-4h0m1-6h0m2 2h0m3 1h0m2 4h0m3-5h0m1 7h0m0-1h0m0-1h0m1-7h0m1 10h0m2-4h0m0-4h0m0 5h0m1-1h0m2 3h0m0-7h0m0 5h0m0-2h0m2 4h0m3-5h0m4-4h0m3 10h0m6 0h0m0-10h0m2 6h0m4 0h0m3-5h0m10 8h0m0-8h0m1 6h0m0 4h0m0-11h0m1 7h0m1-6h0m1 4h0m0-5h0m1 8h0m1-4h0m0 3h0m1-5h0m0 6h0m1-9h0m0 10h0m1-8h0m1-2h0m0 5h0m0 6h0m1-1h0m1-8h0m0-1h0m4 2h0m1 7h0m2-8h0m0 7h0m4 0h0m0-2h0m1-6h0m0 11h0m1-8h0m1 5h0m0 1h0m1 1h0m1-7h0m0-1h0m0 5h0m1-5h0m1 7h0m1-9h0m0 2h0m1 3h0m0 4h0m0 2h0m1-8h0m0 1h0m0-4h0m2 11h0m1-5h0m0 2h0m0-3h0m0-2h0m1-3h0m1 9h0m0 1h0m1-5h0m0-5h0m0 4h0m0-2h0m1-2h0m1 5h0m2-3h0m2 3h0m4 0h0m3-5h0m4 6h0m0-5h0m3 0h0m0 6h0m2-5h0m1-3h0m1 8h0m0-6h0m1 0h0m1-2h0m0 6h0m1 2h0m1-2h0m3 0h0m0 5h0m1-4h0m2-1h0m1 0h0m4-1h0m0-2h0m0 3h0m2 3h0m3-6h0m2 6h0m2 1h0m1 2h0m0-9h0m0-1h0m2 0h0m0 8h0m1 0h0m1-7h0m0 1h0m0 4h0m0-1h0m3-4h0m1 5h0m0-3h0m0 5h0m2-7h0m1 2h0m1 2h0m2 2h0m1-5h0m3 1h0m0-3h0m0 9h0m9-4h0m62-2h0m21-3h0m58 5h0m30-4h0m-550 18h0m0-6h0m0-1h0m2 10h0m0-4h0m0-6h0m1 7h0m0-6h0m0 3h0m92-5h0m3 0h0m4 0h0m2 5h0m1-5h0m2 4h0m0-1h0m1 2h0m1-1h0m1-2h0m0 3h0m1 1h0m0 1h0m1-1h0m0-2h0m1 0h0m0 2h0m1 1h0m1 0h0m2-3h0m4 5h0m0-3h0m1 2h0m1 3h0m1-2h0m1-9h0m1 2h0m1 8h0m1-1h0m3-3h0m0 5h0m1-3h0m2-9h0m1 5h0m0 4h0m1-4h0m0 1h0m0 1h0m0 4h0m2 1h0m1-3h0m0 1h0m0-8h0m3 9h0m9 1h0m1-4h0m3 0h0m1 1h0m2-1h0m1-4h0m1 5h0m1 0h0m0 2h0m1-3h0m1 1h0m3-4h0m3-3h0m0 5h0m0 5h0m1-8h0m2 8h0m2-8h0m6-1h0m1 4h0m2-4h0m2 7h0m0 1h0m1 0h0m2-11h0m0 12h0m1-9h0m2 7h0m4-6h0m0 8h0m1-12h0m0 10h0m0-1h0m1-5h0m1-1h0m1 8h0m1-7h0m2 3h0m2 2h0m3 0h0m1-5h0m0 7h0m0-8h0m2 2h0m1 1h0m1-5h0m1 9h0m1-2h0m1-4h0m0 6h0m1-7h0m1-1h0m0 6h0m2-1h0m1-3h0m0 8h0m1-9h0m1 0h0m2 6h0m2-8h0m2 11h0m0-4h0m1-5h0m2 1h0m0 4h0m1-4h0m4 8h0m1-11h0m3 3h0m1 1h0m2 1h0m0-4h0m1 4h0m0-3h0m2 1h0m0 2h0m0-4h0m1 8h0m1 0h0m0-7h0m0-3h0m1 4h0m0-2h0m2 9h0m1 0h0m0-6h0m1-3h0m6 0h0m3-1h0m1 8h0m2 1h0m2-1h0m1-1h0m2-1h0m0-6h0m2 6h0m1 0h0m0-6h0m1 3h0m0 6h0m2-9h0m0 9h0m1-3h0m2-4h0m1 0h0m0 5h0m0 3h0m4-3h0m2-1h0m3-3h0m2 0h0m1 6h0m0-9h0m0 3h0m1-3h0m0 2h0m2-2h0m1 11h0m1-3h0m2 2h0m1 1h0m0-9h0m0 4h0m1-5h0m0 8h0m1-8h0m2 9h0m0-9h0m1-1h0m3 6h0m2 1h0m3 0h0m2-4h0m1-2h0m2-1h0m1 1h0m1 6h0m1-1h0m3 5h0m0-5h0m1-1h0m1 0h0m2 4h0m3-2h0m1-5h0m1 6h0m1-4h0m0-4h0m3 4h0m7-2h0m2 8h0m3-3h0m3-5h0m1-2h0m0 10h0m1-4h0m1-3h0m1 5h0m0-6h0m0-3h0m2 5h0m1 7h0m0-11h0m0 6h0m0-1h0m1-4h0m1 2h0m1 1h0m2 2h0m1-3h0m2 3h0m1-3h0m1-3h0m0 6h0m0-2h0m1-1h0m1 2h0m10 4h0m38-9h0m89 6h0m1 1h0m24 0h0m30 0h0m85 1h0m-648 4h0m0 3h0m0 1h0m2-3h0m0 4h0m0-3h0m0 8h0m1-2h0m0-1h0m132-7h0m6 0h0m6 0h0m10 2h0m1 1h0m3-1h0m0-2h0m1 1h0m2-1h0m9 2h0m2-1h0m1-1h0m0 2h0m1 1h0m2-1h0m6 2h0m0 1h0m2-5h0m1 1h0m1-1h0m0-1h0m1 1h0m0 4h0m2-5h0m0 6h0m1-3h0m1-1h0m1 3h0m1 1h0m3-2h0m2-1h0m12 0h0m3 0h0m3-1h0m1-1h0m2 1h0m2-1h0m1 2h0m4-2h0m3 4h0m1-2h0m1-1h0m1 1h0m0 2h0m3 0h0m1 1h0m2 0h0m0-2h0m2-2h0m1-1h0m1 4h0m1-4h0m1 0h0m1 1h0m2 0h0m1 1h0m1-1h0m0-2h0m2 1h0m1 0h0m2 1h0m1-1h0m1 4h0m2 0h0m0-3h0m1-2h0m1 3h0m16 3h0m1 0h0m3-1h0m0-4h0m3 5h0m0-2h0m1-3h0m0 1h0m0 1h0m1 1h0m1 3h0m1-6h0m1 0h0m0 1h0m1 2h0m1-3h0m2 3h0m2-3h0m1 0h0m2 2h0m1-2h0m0 3h0m1 2h0m0 1h0m2-6h0m1 6h0m1 0h0m1-4h0m1-1h0m2 2h0m1-1h0m2 3h0m0-2h0m0-3h0m3 5h0m0 2h0m1-2h0m1 0h0m0-4h0m1 3h0m1 2h0m1 0h0m0-5h0m1 6h0m2-6h0m1-1h0m0 5h0m19-6h0m1 1h0m1 1h0m0 5h0m1-4h0m1 1h0m1 0h0m2-1h0m1-1h0m3-2h0m1 2h0m4-1h0m4 0h0m2 6h0m0-2h0m0-4h0m1 10h0m2-10h0m1 7h0m0-7h0m3 0h0m0 5h0m27-5h0m13 4h0m17-4h0m19 10h0m2-5h0m4 0h0m3 1h0m18-6h0m8 2h0m8 7h0m6-4h0m10 0h0m4 0h0m3 1h0m15 1h0m117-1h0m6-4h0m33 6h0m-686 4h0m0 7h0m0 1h0m0-6h0m1 4h0m0-3h0m1-3h0m0 10h0m0-3h0m0-2h0m0-2h0m1 4h0m371 2h0m1-3h0m0-4h0m17-1h0m33 9h0m8-2h0m6 2h0m10-9h0m12 6h0m14 1h0m23 0h0m13-5h0m33-3h0m8 8h0m10 2h0m39-3h0m25-4h0m3 3h0m36 4h0m6-8h0m-671 11h0m1 5h0m0 1h0m1 0h0m0-5h0m0 3h0m0-6h0m0 7h0m1 2h0m0 3h0m375-2h0m1-2h0m0-5h0m13 4h0m2 0h0m33-5h0m1 6h0m20-7h0m23 9h0m1-8h0m41 0h0m11 9h0m20-10h0m15 7h0m10 0h0m6 0h0m3-5h0m2 8h0m9-1h0m10-5h0m5 5h0m49 2h0m-653 8h0m0-4h0m0-1h0m1-2h0m1 9h0m0-7h0m0 3h0m0-1h0m0-4h0m1 7h0m376-2h0m1 0h0m0-1h0m1-1h0m0 1h0m1 5h0m0-3h0m1 0h0m1-1h0m0 1h0m1-1h0m5-6h0m5 9h0m3 0h0m15-4h0m8 2h0m0 5h0m1-9h0m25-3h0m4 10h0m3 1h0m22-3h0m2 2h0m18-5h0m0 3h0m16 3h0m7-6h0m3 0h0m3 1h0m2-4h0m19 3h0m9 0h0m18 6h0m2 0h0m17-2h0m20-3h0m0-4h0m3 6h0m16-6h0m3 0h0m23-2h0m12 10h0m-669 7h0m0 6h0m0-8h0m0 6h0m1-7h0m0 6h0m1-1h0m0-1h0m0-4h0m0 2h0m1 5h0m382-7h0m3 5h0m4 3h0m7-4h0m6-1h0m4 6h0m3 0h0m3 0h0m0-1h0m0 2h0m1-2h0m2-5h0m1 1h0m2 3h0m9-4h0m4 1h0m4 1h0m3-6h0m3 11h0m3-12h0m3 12h0m0-8h0m2 7h0m0-5h0m1 4h0m1-6h0m4 1h0m7 4h0m1 1h0m3-7h0m6 7h0m0 1h0m7-8h0m3 0h0m1 2h0m12-1h0m2 8h0m1-2h0m1-8h0m2 10h0m0-8h0m6 3h0m1-5h0m3 0h0m16 2h0m4 0h0m3 0h0m1 3h0m6-5h0m0 6h0m1-3h0m6 4h0m1 0h0m2 1h0m4-8h0m8 0h0m0 2h0m1-1h0m0 8h0m3-9h0m1 5h0m1-2h0m4-3h0m4 3h0m5 6h0m6-1h0m8-1h0m4-5h0m15-1h0m0 5h0m2 3h0m1-2h0m0-3h0m2 0h0m0-5h0m6-1h0m1 1h0m2 5h0m0-2h0m7 8h0m1-5h0m1-6h0m1 1h0m0 4h0m8 5h0m8-6h0m4-3h0m8 8h0m3 0h0m-673 6h0m1 2h0m0-1h0m0 2h0m1-3h0m0 2h0m0-6h0m1 7h0m0-7h0m4 6h0m2 0h0m7 0h0m3 1h0m1 0h0m5 0h0m2 0h0m3 0h0m5 0h0m4 0h0m1 0h0m3-1h0m2 0h0m2 0h0m2 0h0m2 1h0m2-1h0m1 0h0m3 1h0m1-1h0m2 1h0m3 0h0m2-1h0m2 1h0m5-1h0m2 0h0m2 0h0m3 0h0m1 1h0m3 0h0m1-1h0m2-1h0m3 2h0m1 0h0m3 0h0m3-1h0m3 0h0m3 0h0m4 0h0m3 0h0m2 0h0m2 0h0m1 0h0m2 0h0m3 0h0m1 1h0m5 0h0m0-2h0m4 2h0m5 0h0m2-1h0m4 0h0m2 0h0m3-1h0m3 1h0m2 1h0m3-1h0m1 1h0m2-1h0m3 1h0m1 0h0m4-1h0m2 1h0m2-1h0m4 0h0m5 0h0m0-1h0m4 2h0m2 0h0m1-1h0m3 1h0m4-2h0m3 1h0m2 0h0m2 0h0m7 0h0m1 1h0m2-1h0m2-1h0m2 1h0m2 0h0m5 1h0m1-1h0m3 0h0m1 0h0m3 0h0m3 1h0m4-1h0m2 1h0m3-1h0m1 1h0m3-2h0m2 2h0m1 0h0m5 0h0m1 0h0m5-1h0m1 0h0m2 0h0m3 0h0m2 1h0m2 0h0m1-1h0m2 1h0m5-1h0m1 0h0m3 0h0m2 0h0m1 0h0m3 1h0m1 0h0m3 0h0m1-1h0m2 0h0m3 0h0m2 0h0m1 1h0m1-1h0m4 1h0m3 0h0m5 0h0m3-1h0m2 0h0m2 1h0m2-1h0m3 0h0m2 0h0m4 0h0m2 1h0m1 0h0m3-1h0m2 1h0m2 0h0m1-2h0m3 1h0m2 0h0m1 0h0m3 0h0m1 1h0m2 0h0m3-1h0m1 1h0m2-1h0m2 0h0m3 0h0m1 0h0m3 1h0m3-1h0m1 1h0m3-1h0m3 1h0m3 0h0m9-1h0m3 1h0m0-1h0m3-5h0m3 2h0m0-2h0m4 1h0m5 4h0m1-6h0m4 0h0m5 5h0m2 0h0m13 1h0m1 1h0m13 0h0m4 0h0m2 0h0m2-2h0m0-2h0m0-2h0m2 6h0m2 0h0m8-3h0m3-2h0m6-2h0m2 5h0m2 1h0m5 1h0m2-2h0m0 3h0m2-2h0m2 0h0m1-5h0m1 6h0m1-4h0m5 0h0m1 4h0m3-2h0m1-3h0m1 3h0m5-4h0m5 4h0m8-3h0m0 3h0m10 1h0m12-5h0m2 5h0m4-3h0m1-1h0m3 3h0m1-2h0m6-1h0m3-2h0m0 1h0m3 2h0m2-2h0m1 1h0m0 1h0m4-2h0m2 5h0m2 0h0m3 0h0m1 1h0m4 1h0m1-1h0m7-3h0m3-1h0m3 0h0m10-2h0m0 6h0m6-7h0m4 2h0m1 5h0m0-3h0m2-3h0m1 0h0m8 2h0m7-2h0m12 7h0m2 0h0m3 0h0m1 0h0m9-1h0m2 1h0" stroke="#000" stroke-width="7.3" stroke-linecap="round" fill="none"/>
<path d="M928 1180L1643.1 1189.5" stroke="#f4bf22" stroke-width="3.6" fill="none"/>
<path d="M937.7 1126.9C940 1129.2 946.8 1135.4 951.3 1140.5C955.8 1145.5 958.1 1150.8 964.9 1157.4C971.7 1164 983.1 1174.5 992.1 1180.1C1001.2 1185.8 1010.3 1188.4 1019.4 1191.3C1028.4 1194.2 1037.5 1195.7 1046.6 1197.6C1055.7 1199.4 1064.7 1201 1073.8 1202.4C1082.9 1203.9 1091.9 1205.4 1101 1206.3C1110.1 1207.2 1119.2 1207.7 1128.2 1207.7C1137.3 1207.7 1141.8 1207.4 1155.5 1206.3C1169.1 1205.2 1191.8 1202.9 1209.9 1201C1228 1199 1246.2 1196.4 1264.3 1194.7C1282.5 1193 1300.6 1191 1318.8 1190.8C1336.9 1190.6 1355.1 1191.8 1373.2 1193.2C1391.4 1194.7 1409.5 1197.2 1427.7 1199.5C1445.8 1201.8 1464 1204.3 1482.1 1206.8C1500.2 1209.2 1518.4 1211.7 1536.5 1214C1554.7 1216.3 1579.6 1219.2 1591 1220.6C1602.3 1221.9 1602.3 1222 1604.6 1222.3" stroke="#f20c0c" stroke-width="7.0" fill="none" stroke-linecap="round" stroke-linejoin="round"/>
<path d="M1612.2 1223.5l1.5 0M1619 1224.2l1.5 0.2M1625.3 1224.9l0.5 0" stroke="#f20c0c" stroke-width="6.6" fill="none" stroke-linecap="round"/>
<g font-family="'Liberation Serif', 'Times New Roman', serif" font-weight="bold" fill="#000">
<text x="1516.7" y="847" font-size="46" text-anchor="middle">C03</text>
<text x="1612.4" y="1369.3" font-size="48" text-anchor="end">Distance (Mb)</text>
<text transform="translate(886 1338.3) rotate(-90)" font-size="48">Correlation coefficient (r<tspan font-size="29.8" dy="-17.3">2</tspan><tspan dy="17.3">)</tspan></text>
</g>
</g>
<g>
<rect x="1772.1" y="788.8" width="713.3" height="491.8" fill="#fff" stroke="#b2b2b2" stroke-width="1.35"/>
<path d="M1776.3 1280.6v6.2M1789.1 1280.6v4.3M1801.9 1280.6v4.3M1814.7 1280.6v4.3M1827.5 1280.6v4.3M1840.4 1280.6v6.2M1853.2 1280.6v4.3M1866 1280.6v4.3M1878.8 1280.6v4.3M1891.6 1280.6v4.3M1904.4 1280.6v6.2M1917.2 1280.6v4.3M1930 1280.6v4.3M1942.9 1280.6v4.3M1955.7 1280.6v4.3M1968.5 1280.6v6.2M1981.3 1280.6v4.3M1994.1 1280.6v4.3M2006.9 1280.6v4.3M2019.7 1280.6v4.3M2032.5 1280.6v6.2M2045.4 1280.6v4.3M2058.2 1280.6v4.3M2071 1280.6v4.3M2083.8 1280.6v4.3M2096.6 1280.6v6.2M2109.4 1280.6v4.3M2122.2 1280.6v4.3M2135 1280.6v4.3M2147.8 1280.6v4.3M2160.7 1280.6v6.2M2173.5 1280.6v4.3M2186.3 1280.6v4.3M2199.1 1280.6v4.3M2211.9 1280.6v4.3M2224.7 1280.6v6.2M2237.5 1280.6v4.3M2250.3 1280.6v4.3M2263.2 1280.6v4.3M2276 1280.6v4.3M2288.8 1280.6v6.2M2301.6 1280.6v4.3M2314.4 1280.6v4.3M2327.2 1280.6v4.3M2340 1280.6v4.3M2352.8 1280.6v6.2M2365.7 1280.6v4.3M2378.5 1280.6v4.3M2391.3 1280.6v4.3M2404.1 1280.6v4.3M2416.9 1280.6v6.2M2429.7 1280.6v4.3M2442.5 1280.6v4.3M2455.3 1280.6v4.3M2468.1 1280.6v4.3M2481 1280.6v6.2M1772.1 1275.9h-5M1772.1 1227.7h-5M1772.1 1179.4h-5M1772.1 1131.2h-5M1772.1 1083h-5M1772.1 1034.8h-5M1772.1 986.5h-5M1772.1 938.3h-5M1772.1 890.1h-5M1772.1 841.8h-5M1772.1 793.6h-5" stroke="#a2a2a2" stroke-width="1.35" fill="none"/>
<path d="M1772.1 1271.1h-2.4M1772.1 1266.3h-2.4M1772.1 1261.4h-2.4M1772.1 1256.6h-2.4M1772.1 1251.8h-2.4M1772.1 1247h-2.4M1772.1 1242.1h-2.4M1772.1 1237.3h-2.4M1772.1 1232.5h-2.4M1772.1 1222.8h-2.4M1772.1 1218h-2.4M1772.1 1213.2h-2.4M1772.1 1208.4h-2.4M1772.1 1203.6h-2.4M1772.1 1198.7h-2.4M1772.1 1193.9h-2.4M1772.1 1189.1h-2.4M1772.1 1184.3h-2.4M1772.1 1174.6h-2.4M1772.1 1169.8h-2.4M1772.1 1165h-2.4M1772.1 1160.1h-2.4M1772.1 1155.3h-2.4M1772.1 1150.5h-2.4M1772.1 1145.7h-2.4M1772.1 1140.9h-2.4M1772.1 1136h-2.4M1772.1 1126.4h-2.4M1772.1 1121.6h-2.4M1772.1 1116.7h-2.4M1772.1 1111.9h-2.4M1772.1 1107.1h-2.4M1772.1 1102.3h-2.4M1772.1 1097.4h-2.4M1772.1 1092.6h-2.4M1772.1 1087.8h-2.4M1772.1 1078.2h-2.4M1772.1 1073.3h-2.4M1772.1 1068.5h-2.4M1772.1 1063.7h-2.4M1772.1 1058.9h-2.4M1772.1 1054h-2.4M1772.1 1049.2h-2.4M1772.1 1044.4h-2.4M1772.1 1039.6h-2.4M1772.1 1029.9h-2.4M1772.1 1025.1h-2.4M1772.1 1020.3h-2.4M1772.1 1015.5h-2.4M1772.1 1010.6h-2.4M1772.1 1005.8h-2.4M1772.1 1001h-2.4M1772.1 996.2h-2.4M1772.1 991.3h-2.4M1772.1 981.7h-2.4M1772.1 976.9h-2.4M1772.1 972.1h-2.4M1772.1 967.2h-2.4M1772.1 962.4h-2.4M1772.1 957.6h-2.4M1772.1 952.8h-2.4M1772.1 947.9h-2.4M1772.1 943.1h-2.4M1772.1 933.5h-2.4M1772.1 928.6h-2.4M1772.1 923.8h-2.4M1772.1 919h-2.4M1772.1 914.2h-2.4M1772.1 909.4h-2.4M1772.1 904.5h-2.4M1772.1 899.7h-2.4M1772.1 894.9h-2.4M1772.1 885.2h-2.4M1772.1 880.4h-2.4M1772.1 875.6h-2.4M1772.1 870.8h-2.4M1772.1 865.9h-2.4M1772.1 861.1h-2.4M1772.1 856.3h-2.4M1772.1 851.5h-2.4M1772.1 846.7h-2.4M1772.1 837h-2.4M1772.1 832.2h-2.4M1772.1 827.4h-2.4M1772.1 822.5h-2.4M1772.1 817.7h-2.4M1772.1 812.9h-2.4M1772.1 808.1h-2.4M1772.1 803.2h-2.4M1772.1 798.4h-2.4" stroke="#b9b9b9" stroke-width="1.1" fill="none"/>
<g font-family="'Liberation Sans', Arial, sans-serif" font-size="12.6" fill="#3a3a3a" stroke="#3a3a3a" stroke-width="0.45">
<g text-anchor="middle">
<text transform="translate(1776.3 1303.2) scale(0.9 1)">0</text>
<text transform="translate(1840.4 1303.2) scale(0.9 1)">0.20</text>
<text transform="translate(1904.4 1303.2) scale(0.9 1)">0.40</text>
<text transform="translate(1968.5 1303.2) scale(0.9 1)">0.60</text>
<text transform="translate(2032.5 1303.2) scale(0.9 1)">0.80</text>
<text transform="translate(2096.6 1303.2) scale(0.9 1)">1.00</text>
<text transform="translate(2160.7 1303.2) scale(0.9 1)">1.20</text>
<text transform="translate(2224.7 1303.2) scale(0.9 1)">1.40</text>
<text transform="translate(2288.8 1303.2) scale(0.9 1)">1.60</text>
<text transform="translate(2352.8 1303.2) scale(0.9 1)">1.80</text>
<text transform="translate(2416.9 1303.2) scale(0.9 1)">2.00</text>
<text transform="translate(2481 1303.2) scale(0.9 1)">2.20</text>
</g><g text-anchor="end">
<text transform="translate(1764.1 1280.3) scale(0.9 1)">0.0</text>
<text transform="translate(1764.1 1232.1) scale(0.9 1)">0.1</text>
<text transform="translate(1764.1 1183.8) scale(0.9 1)">0.2</text>
<text transform="translate(1764.1 1135.6) scale(0.9 1)">0.3</text>
<text transform="translate(1764.1 1087.4) scale(0.9 1)">0.4</text>
<text transform="translate(1764.1 1039.2) scale(0.9 1)">0.5</text>
<text transform="translate(1764.1 990.9) scale(0.9 1)">0.6</text>
<text transform="translate(1764.1 942.7) scale(0.9 1)">0.7</text>
<text transform="translate(1764.1 894.5) scale(0.9 1)">0.8</text>
<text transform="translate(1764.1 846.2) scale(0.9 1)">0.9</text>
<text transform="translate(1764.1 798) scale(0.9 1)">1.0</text>
</g></g>
<path d="M1776.6 1234.8h17M1846.6 1234.8h9M1928.6 1234.8h11M1776.6 1236.8h93M1926.6 1236.8h13M1958.6 1236.8h7M1980.6 1236.8h3M1776.6 1238.8h93M1882.6 1238.8h5M1926.6 1238.8h15M1958.6 1238.8h7M1980.6 1238.8h3M1776.6 1240.8h93M1882.6 1240.8h5M1926.6 1240.8h15M1958.6 1240.8h7M1980.6 1240.8h3M1776.6 1242.8h93M1882.6 1242.8h5M1926.6 1242.8h15M1958.6 1242.8h7M1980.6 1242.8h3M1776.6 1244.8h93M1882.6 1244.8h5M1926.6 1244.8h13M1958.6 1244.8h7M1980.6 1244.8h3M1776.6 1246.8h93M1928.6 1246.8h11M1960.6 1246.8h5M1776.6 1248.8h17M1846.6 1248.8h9M1930.6 1248.8h5M1776.6 1250.8h15M1848.6 1250.8h5" stroke="#000" stroke-width="3.4" fill="none"/>
<path d="M1776.3 793.6H1825.9M1832.4 793.6H1845.2M1854.8 793.6H1856.4M1870.8 793.6H1872.4M1782.7 826.4H1817.9M1780.1 890.1H1881M1800.3 928.6H1830.8M1838.8 928.6H1866M1878.8 928.6H1890M1776.3 969.6H1785.9M1821.1 963.4H1830.8M1842 968.7H1846.8M1864.4 960H1869.2M2325.6 1126.4H2359.2" stroke="#000" stroke-width="7.3" stroke-linecap="round" fill="none"/>
<path d="M0 0m1790 810h0m2 1h0m1 0h0m3 0h0m1 0h0m4 0h0m2 0h0m5-1h0m4 0h0m3 0h0m4 0h0m-41 17h0m4 2h0m11 10h0m3 1h0m2 0h0m4-1h0m3-10h0m35 3h0m10 0h0m-68 17h0m7 0h0m1 0h0m1 0h0m1 1h0m3-1h0m4 0h0m1 0h0m2-1h0m6-8h0m1 9h0m6 0h0m-20 15h0m7-2h0m4-1h0m-25 4h0m10 1h0m3 10h0m11 0h0m2 0h0m1 0h0m9-12h0m3 0h0m22 3h0m36 0h0m8 0h0m23 3h0m-133 7h0m3-1h0m1 2h0m3-1h0m1-1h0m1 0h0m1 0h0m8 1h0m9 0h0m3-1h0m4 1h0m-29 45h0m5-1h0m0 1h0m2-1h0m345 9h0m-333 42h0m9 0h0m5 0h0m0-1h0m1 0h0m1 0h0m258-9h0m13 21h0m-86 12h0m-175 5h0m18 11h0m16-3h0m4 4h0m-46 9h0m3 2h0m77 1h0m117-2h0m-186 13h0m151 6h0m-204 9h0m14 2h0m3-4h0m33 0h0m13 2h0m-13 12h0m3 0h0m189-1h0m13 0h0m295 5h0m3 0h0m17 0h0m-570 12h0m5 0h0m1 1h0m5-2h0m1-4h0m2 5h0m4 0h0m1 0h0m5 0h0m1 0h0m5-10h0m0 10h0m227-2h0m94 0h0m2 0h0m-326 7h0m37 7h0m39-5h0m123-4h0m-203 17h0m7 4h0m21 1h0m0-10h0m3 10h0m41-10h0m154 9h0m11 0h0m14-8h0m16 1h0m53 5h0m40-1h0m5 0h0m16 0h0m-404 6h0m1 8h0m114 2h0m5-9h0m23 0h0m35 10h0m30-10h0m113 7h0m229-7h0m3 0h0m17 0h0m-462 17h0m3 4h0m4-3h0m15 1h0m3 1h0m17-8h0m6 9h0m4-3h0m0 1h0m4 0h0m4 2h0m4-2h0m8-1h0m6-5h0m2 0h0m94 3h0m18-3h0m49 7h0m132-1h0m3 0h0m14 0h0m104 1h0m-594 7h0m13-3h0m4 1h0m3-1h0m15 5h0m10 0h0m26-4h0m1 1h0m2-1h0m14 0h0m5 1h0m2 0h0m2 1h0m2-3h0m2 1h0m9-3h0m48 1h0m24 9h0m102-7h0m1 0h0m108 4h0m17-2h0m3 0h0m18 0h0m-421 15h0m48-3h0m2 0h0m2 0h0m2-1h0m2-4h0m1 3h0m1 2h0m1-1h0m3 1h0m10 0h0m11 0h0m1-2h0m4 0h0m1 7h0m16-4h0m22 4h0m47-7h0m33 0h0m1 0h0m143-2h0m1 5h0m2-5h0m13 0h0m18 9h0m147-7h0m4 0h0m23-1h0m-562 21h0m4 0h0m17-7h0m28 7h0m4-8h0m0 8h0m3-10h0m0 10h0m4 0h0m10 0h0m23-10h0m12 9h0m33 1h0m111-8h0m3 0h0m15 5h0m106 0h0m11-2h0m98 1h0m6-6h0m3 3h0m7 4h0m-509 14h0m4-3h0m0-3h0m38 5h0m8 0h0m34 3h0m3 0h0m10-8h0m1-3h0m6 5h0m15-6h0m20 1h0m47 10h0m37 0h0m4 1h0m75-5h0m4 0h0m2-1h0m76-4h0m2 0h0m4-1h0m47 1h0m40-1h0m37 4h0m27-2h0m-532 16h0m4 0h0m5-5h0m3 0h0m14 0h0m1 9h0m30-4h0m3-2h0m3 0h0m3 2h0m6-1h0m4 2h0m21-4h0m7 1h0m1 5h0m5-3h0m7 3h0m3-1h0m1 1h0m3 0h0m3-1h0m2-3h0m3 4h0m10-1h0m3 0h0m4 0h0m4-5h0m4 1h0m18 0h0m1 1h0m2-1h0m2-2h0m10 4h0m4 0h0m41-2h0m37 0h0m22 2h0m10-2h0m4 0h0m3 0h0m4-1h0m0-2h0m2 5h0m2-5h0m2 0h0m5 0h0m27 5h0m0 2h0m3-2h0m6 0h0m19 2h0m41 3h0m6-5h0m43-6h0m8 6h0m5-4h0m16 2h0m1 4h0m-509 8h0m3 0h0m1 0h0m3 0h0m0-2h0m1 4h0m3 0h0m8 1h0m4 0h0m1 0h0m3-3h0m4-4h0m6 1h0m3 3h0m1 4h0m1-6h0m1 2h0m8 5h0m1-5h0m2 5h0m3-10h0m13 8h0m24 0h0m0 2h0m11-7h0m3 0h0m2 5h0m10-5h0m3 5h0m12 0h0m7-8h0m4 3h0m6 7h0m3-7h0m7 5h0m6 2h0m8 0h0m2-10h0m2 2h0m3 8h0m4 0h0m20-5h0m1 5h0m3 0h0m11-5h0m18-5h0m18 7h0m3 2h0m6-9h0m7 5h0m1 3h0m4 0h0m4 2h0m3 0h0m17-2h0m1-5h0m1 7h0m3-7h0m9 0h0m17 2h0m60 3h0m4-8h0m69 5h0m2 0h0m14-2h0m3 0h0m23 2h0m5 0h0m3 0h0m29 3h0m7-7h0m6 2h0m6-2h0m18 0h0m37 6h0m18 4h0m-642 4h0m1 5h0m7-2h0m2-1h0m1 1h0m13 0h0m2 4h0m1-5h0m3-4h0m1 7h0m1-2h0m7 0h0m3 0h0m7-6h0m4 11h0m25-3h0m2 3h0m10-8h0m4 9h0m6-6h0m13 5h0m1-8h0m35 8h0m2-11h0m3 1h0m2-1h0m1 0h0m4 1h0m9 8h0m8 1h0m2-2h0m0-2h0m1 1h0m1 1h0m0-7h0m17 2h0m6 2h0m15 3h0m5 4h0m2-2h0m16-9h0m20 7h0m2 0h0m2 2h0m0-2h0m8 3h0m3-6h0m1 6h0m1-8h0m4 0h0m21 5h0m38-4h0m28 7h0m14-5h0m2 5h0m9 0h0m7-10h0m8 4h0m30 0h0m5-4h0m3-1h0m2 11h0m3-6h0m2 0h0m24-3h0m4 2h0m7 4h0m7-8h0m6 4h0m3 3h0m4 2h0m7-1h0m16-8h0m10 12h0m73-9h0m15 4h0m-629 12h0m4 3h0m2-1h0m0-5h0m1-3h0m3 0h0m1 0h0m9 2h0m0 6h0m0-8h0m8 5h0m4 1h0m31 1h0m4 0h0m3 1h0m1-8h0m3 1h0m4-1h0m10 10h0m7-5h0m0-3h0m2 6h0m3-1h0m1 1h0m23 0h0m3 0h0m13-3h0m4 5h0m2-7h0m2-2h0m1 2h0m2 0h0m0-1h0m5 5h0m2 1h0m1 2h0m3 0h0m2-10h0m5 0h0m4 0h0m2 2h0m8 6h0m4 2h0m7-2h0m0-5h0m1 3h0m11 2h0m3-1h0m0 1h0m4 0h0m4 0h0m3-3h0m5 5h0m2-7h0m1 7h0m3 1h0m6-3h0m2 2h0m25-10h0m6 10h0m10-10h0m1 3h0m3 7h0m0-7h0m33 5h0m1 2h0m1-5h0m3 6h0m18-8h0m12 5h0m3 2h0m1-2h0m23-8h0m3 2h0m1-2h0m0 2h0m2 6h0m2-6h0m1 1h0m0 5h0m3 0h0m12-2h0m2-2h0m2 1h0m2-4h0m24 8h0m0-9h0m2 10h0m5-10h0m0 1h0m0 7h0m0-4h0m3 4h0m1-9h0m0 1h0m0 6h0m1-3h0m5 5h0m21 2h0m4 0h0m31 0h0m46 0h0m-557 13h0m1-4h0m1 2h0m2-1h0m0 1h0m0 1h0m13-2h0m0 3h0m1-3h0m1 2h0m0 1h0m1-3h0m1 0h0m1 0h0m1 1h0m1 0h0m1-1h0m1-4h0m3 4h0m3 0h0m1-5h0m2 6h0m1-3h0m0 3h0m1-3h0m1-1h0m1 3h0m1 1h0m1-1h0m2 3h0m3-1h0m1-4h0m2 1h0m3 1h0m1-5h0m4 6h0m3-2h0m8 1h0m2 1h0m8-3h0m1 0h0m1-1h0m1 3h0m2 0h0m3 2h0m0 1h0m2-2h0m1 2h0m3-2h0m1-1h0m0 3h0m4-7h0m1 2h0m3 0h0m1 5h0m4-8h0m2 2h0m1 6h0m1-3h0m0-8h0m0 11h0m1-5h0m0-5h0m2 2h0m0 5h0m0-8h0m1 10h0m2-2h0m1-5h0m0 8h0m3 0h0m8 0h0m1-8h0m3 8h0m3-10h0m2 0h0m0 7h0m1-7h0m3 8h0m2 2h0m1 0h0m3-5h0m4-1h0m2-2h0m1 3h0m3 2h0m0-2h0m3 0h0m4-5h0m1 7h0m0-2h0m3 5h0m3 0h0m1-5h0m1 4h0m3-2h0m4 0h0m3 3h0m4 0h0m0-2h0m3-1h0m1-7h0m1 10h0m5 0h0m0-3h0m1 1h0m2 2h0m1-3h0m0-5h0m4 5h0m3 0h0m3 0h0m0 1h0m1-3h0m3 2h0m1 0h0m0 3h0m4-3h0m1-5h0m1 0h0m1 5h0m1-4h0m3 0h0m2 4h0m3 1h0m2 2h0m1-3h0m3 2h0m1-2h0m1-2h0m1-3h0m0 8h0m2-2h0m2-8h0m2 7h0m14 3h0m1-6h0m3 6h0m2-5h0m0-6h0m1 3h0m1 1h0m1-4h0m1 6h0m3 2h0m1 3h0m1-2h0m1-1h0m1-2h0m1 4h0m1-7h0m0 7h0m1-2h0m1-2h0m3 5h0m4-11h0m10 3h0m2 8h0m1-3h0m0-5h0m4 0h0m1 5h0m16 3h0m3-1h0m8 0h0m7-9h0m0 2h0m5 3h0m0 4h0m1-2h0m3 0h0m2-5h0m11 6h0m5-8h0m4 0h0m1 0h0m2 0h0m5 0h0m6 2h0m4 1h0m52-4h0m0 6h0m0 2h0m4-3h0m3 1h0m8-5h0m22 0h0m2 0h0m1 0h0m8 0h0m0 2h0m3-2h0m1 2h0m18 5h0m11 2h0m8-7h0m4 0h0m18 2h0m2 4h0m42-2h0m3 0h0m19 0h0m-618 5h0m0 3h0m1 0h0m0 6h0m1-7h0m0-3h0m1 9h0m0-2h0m0-1h0m0 5h0m14 1h0m10 0h0m1-2h0m14-8h0m27-2h0m2 1h0m22 1h0m0 8h0m1-5h0m0-3h0m1 8h0m1-3h0m3 1h0m2-3h0m0 2h0m2-2h0m0 5h0m0-7h0m1 4h0m1-2h0m1-3h0m0 3h0m0 5h0m0-7h0m1 1h0m0-4h0m2 2h0m2 8h0m0-3h0m1 4h0m0-4h0m1-5h0m1 6h0m0 1h0m0-6h0m1 5h0m1 0h0m1-1h0m1-5h0m0 8h0m1-5h0m2 7h0m3-7h0m3-1h0m1 5h0m0-4h0m1 7h0m2-2h0m1 2h0m1-2h0m0-5h0m1 5h0m0-5h0m2 2h0m1-2h0m4 0h0m1-3h0m1 0h0m1 3h0m1-3h0m1 3h0m0-2h0m1 0h0m0 7h0m1-6h0m0-2h0m1 10h0m0-8h0m0 6h0m1-3h0m0-3h0m2-2h0m14 3h0m2 0h0m1 5h0m3-6h0m2 6h0m1 0h0m3-1h0m1 1h0m0-8h0m1 0h0m1 8h0m0-5h0m0 7h0m1-5h0m2-2h0m1 5h0m4-5h0m0 5h0m1-8h0m1 9h0m1-6h0m0 5h0m1-5h0m1-2h0m0 5h0m2-3h0m3 2h0m3 2h0m1-7h0m2 5h0m2-1h0m2-4h0m2 1h0m0-1h0m1 3h0m2-3h0m1 3h0m1 3h0m2-3h0m3-5h0m0 5h0m4 0h0m1 0h0m2 5h0m1-5h0m5 4h0m6-2h0m3-5h0m0 8h0m1 0h0m4-3h0m3 0h0m2 0h0m2 3h0m3-3h0m1 3h0m1-2h0m2 2h0m0-8h0m1 0h0m1 5h0m3 3h0m3 0h0m6-5h0m2-4h0m3 9h0m0-10h0m1 1h0m3 4h0m1-2h0m1-1h0m5 2h0m2 3h0m0 3h0m3-3h0m8-2h0m1 2h0m1 0h0m28-4h0m2 7h0m3 0h0m5 0h0m3 0h0m1-3h0m0-2h0m1 0h0m1 5h0m2-1h0m1-4h0m0 5h0m3-5h0m0 5h0m4-5h0m0 2h0m5 5h0m4-12h0m2 7h0m13 3h0m0-8h0m3 8h0m0-7h0m4 7h0m0-8h0m4 8h0m3 0h0m1-5h0m1 2h0m12-2h0m18-3h0m6 1h0m0 2h0m1-2h0m1 7h0m1 0h0m0-5h0m1-2h0m1-1h0m3 3h0m0-2h0m1 2h0m3 3h0m1 4h0m2-2h0m1-5h0m1 7h0m2-7h0m1 2h0m1 0h0m1 0h0m1-2h0m2 2h0m2 3h0m2 0h0m0 2h0m35-9h0m4-1h0m0 3h0m1 0h0m4-1h0m8 8h0m11-10h0m5 0h0m3 0h0m59 0h0m19 2h0m5 3h0m5 4h0m5 0h0m17 0h0m-647 4h0m1-2h0m0-1h0m2 1h0m0 2h0m12 0h0m5-1h0m1-2h0m0 1h0m3-1h0m1 1h0m0-1h0m0 3h0m3-3h0m7 3h0m2 0h0m4-3h0m2 2h0m5-2h0m4 0h0m5 3h0m2 0h0m0-3h0m2 1h0m1 1h0m2 1h0m4 1h0m30-1h0m4-1h0m1-1h0m0-1h0m3 3h0m0-3h0m1 0h0m2 5h0m0-2h0m4-1h0m0 1h0m0-3h0m3 3h0m1-3h0m2 3h0m4 0h0m7-3h0m8 0h0m2 3h0m1-1h0m2 1h0m2 0h0m2 0h0m11 0h0m2-2h0m15-1h0m3 1h0m1 2h0m4 1h0m3-4h0m0 8h0m5-5h0m2 0h0m1-3h0m1 3h0m2-1h0m2 1h0m0-3h0m1 3h0m2 0h0m1-3h0m2 1h0m1 2h0m1 0h0m5-1h0m2 2h0m3-1h0m1 0h0m2 0h0m2 0h0m2 0h0m3-2h0m4 2h0m1-3h0m24 0h0m4 1h0m2-1h0m13 3h0m10 0h0m1-1h0m5-1h0m2-1h0m11 0h0m0 1h0m3 2h0m3 0h0m8-3h0m4 0h0m13 0h0m9 3h0m10-3h0m10 0h0m23 3h0m12 0h0m33 0h0m3-3h0m0 3h0m16-3h0m6 1h0m30-1h0m29 3h0" stroke="#000" stroke-width="7.3" stroke-linecap="round" fill="none"/>
<path d="M1772.1 1190.2L2490 1199.5" stroke="#f4bf22" stroke-width="3.6" fill="none"/>
<path d="M1776.3 945.8C1780.4 955.7 1792.8 987 1801 1005.5C1809.1 1024 1817.2 1040.4 1825.3 1056.6C1833.4 1072.9 1841.7 1088.7 1849.8 1102.9C1857.9 1117.1 1866 1130.6 1874.2 1141.9C1882.3 1153.3 1890.4 1162.6 1898.5 1171.1C1906.7 1179.6 1914.8 1187 1922.9 1193.1C1931 1199.2 1939.2 1203.8 1947.3 1207.7C1955.4 1211.5 1963.6 1214.4 1971.7 1216.2C1979.8 1218.1 1985.9 1218.5 1996 1218.7C2006.2 1218.9 2015.8 1218.4 2032.5 1217.4C2049.3 1216.5 2075.2 1213.9 2096.6 1213C2118 1212 2144.6 1212.2 2160.7 1211.8C2176.7 1211.3 2182 1211.3 2192.7 1210.3C2203.4 1209.3 2214 1207.7 2224.7 1206C2235.4 1204.2 2246.1 1201.9 2256.8 1199.7C2267.4 1197.4 2278.1 1194.9 2288.8 1192.5C2299.5 1190.1 2310.1 1187.4 2320.8 1185.2C2331.5 1183.1 2344.3 1180.8 2352.8 1179.4C2361.4 1178.1 2368.9 1177.4 2372.1 1177" stroke="#f20c0c" stroke-width="7.0" fill="none" stroke-linecap="round" stroke-linejoin="round"/>
<path d="M2374.6 1176.8l4 -0.3M2391.6 1175.7l32 -1.6M2434.8 1173.2l0.5 0" stroke="#f20c0c" stroke-width="6.6" fill="none" stroke-linecap="round"/>
<g font-family="'Liberation Serif', 'Times New Roman', serif" font-weight="bold" fill="#000">
<text x="2390.8" y="853" font-size="46" text-anchor="middle">C05</text>
<text x="2447" y="1359.7" font-size="48" text-anchor="end">Distance (Mb)</text>
<text transform="translate(1727 1337.5) rotate(-90)" font-size="48">Correlation coefficient (r<tspan font-size="29.8" dy="-17.3">2</tspan><tspan dy="17.3">)</tspan></text>
</g>
</g>
</svg>
</body>
</html>
